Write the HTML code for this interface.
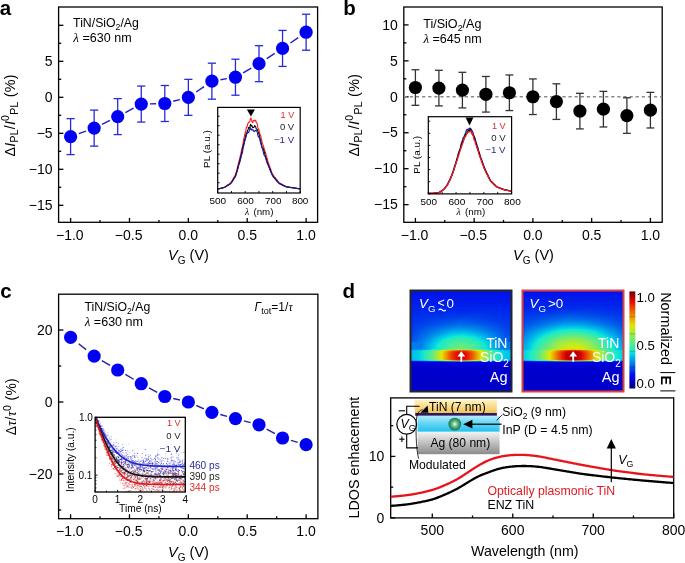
<!DOCTYPE html><html><head><meta charset="utf-8"><style>html,body{margin:0;padding:0;background:#fff;overflow:hidden}svg{display:block;will-change:transform}</style></head><body><svg width="685" height="563" viewBox="0 0 685 563" font-family="Liberation Sans, sans-serif">
<rect width="685" height="563" fill="#fff"/>
<text x="-0.3" y="14.7" font-size="20.5" text-anchor="start" fill="#000" font-weight="bold">a</text>
<text x="343.2" y="14.9" font-size="20.5" text-anchor="start" fill="#000" font-weight="bold">b</text>
<text x="0.2" y="297.6" font-size="20.5" text-anchor="start" fill="#000" font-weight="bold">c</text>
<text x="342.6" y="297.6" font-size="20.5" text-anchor="start" fill="#000" font-weight="bold">d</text>
<rect x="58.6" y="7" width="259" height="215.3" fill="none" stroke="#000" stroke-width="1.3" />
<line x1="70.6" y1="222.3" x2="70.6" y2="217.9" stroke="#000" stroke-width="1.3" />
<line x1="129.47" y1="222.3" x2="129.47" y2="217.9" stroke="#000" stroke-width="1.3" />
<line x1="188.35" y1="222.3" x2="188.35" y2="217.9" stroke="#000" stroke-width="1.3" />
<line x1="247.22" y1="222.3" x2="247.22" y2="217.9" stroke="#000" stroke-width="1.3" />
<line x1="306.1" y1="222.3" x2="306.1" y2="217.9" stroke="#000" stroke-width="1.3" />
<line x1="100.04" y1="222.3" x2="100.04" y2="219.9" stroke="#000" stroke-width="1.3" />
<line x1="158.91" y1="222.3" x2="158.91" y2="219.9" stroke="#000" stroke-width="1.3" />
<line x1="217.79" y1="222.3" x2="217.79" y2="219.9" stroke="#000" stroke-width="1.3" />
<line x1="276.66" y1="222.3" x2="276.66" y2="219.9" stroke="#000" stroke-width="1.3" />
<line x1="58.6" y1="25.3" x2="63.4" y2="25.3" stroke="#000" stroke-width="1.3" />
<line x1="58.6" y1="61.3" x2="63.4" y2="61.3" stroke="#000" stroke-width="1.3" />
<line x1="58.6" y1="97.3" x2="63.4" y2="97.3" stroke="#000" stroke-width="1.3" />
<line x1="58.6" y1="133.3" x2="63.4" y2="133.3" stroke="#000" stroke-width="1.3" />
<line x1="58.6" y1="169.3" x2="63.4" y2="169.3" stroke="#000" stroke-width="1.3" />
<line x1="58.6" y1="205.3" x2="63.4" y2="205.3" stroke="#000" stroke-width="1.3" />
<line x1="58.6" y1="43.3" x2="61.2" y2="43.3" stroke="#000" stroke-width="1.3" />
<line x1="58.6" y1="79.3" x2="61.2" y2="79.3" stroke="#000" stroke-width="1.3" />
<line x1="58.6" y1="115.3" x2="61.2" y2="115.3" stroke="#000" stroke-width="1.3" />
<line x1="58.6" y1="151.3" x2="61.2" y2="151.3" stroke="#000" stroke-width="1.3" />
<line x1="58.6" y1="187.3" x2="61.2" y2="187.3" stroke="#000" stroke-width="1.3" />
<text x="52.6" y="66" font-size="14" text-anchor="end" fill="#000" >5</text>
<text x="52.6" y="102" font-size="14" text-anchor="end" fill="#000" >0</text>
<text x="52.6" y="138" font-size="14" text-anchor="end" fill="#000" >−5</text>
<text x="52.6" y="174" font-size="14" text-anchor="end" fill="#000" >−10</text>
<text x="52.6" y="210" font-size="14" text-anchor="end" fill="#000" >−15</text>
<text x="69.8" y="240" font-size="14" text-anchor="middle" fill="#000" >−1.0</text>
<text x="128.67" y="240" font-size="14" text-anchor="middle" fill="#000" >−0.5</text>
<text x="188.35" y="240" font-size="14" text-anchor="middle" fill="#000" >0.0</text>
<text x="247.22" y="240" font-size="14" text-anchor="middle" fill="#000" >0.5</text>
<text x="306.1" y="240" font-size="14" text-anchor="middle" fill="#000" >1.0</text>
<line x1="78.78" y1="133.66" x2="85.97" y2="131.07" stroke="#1c1cc8" stroke-width="1.4" />
<line x1="101.97" y1="124.29" x2="109.88" y2="120.42" stroke="#1c1cc8" stroke-width="1.4" />
<line x1="125.38" y1="112.51" x2="133.57" y2="108.15" stroke="#1c1cc8" stroke-width="1.4" />
<line x1="149.95" y1="103.86" x2="156.1" y2="103.7" stroke="#1c1cc8" stroke-width="1.4" />
<line x1="173.22" y1="101.3" x2="179.93" y2="99.56" stroke="#1c1cc8" stroke-width="1.4" />
<line x1="196.21" y1="91.96" x2="204.04" y2="86.58" stroke="#1c1cc8" stroke-width="1.4" />
<line x1="220.48" y1="79.73" x2="226.87" y2="78.65" stroke="#1c1cc8" stroke-width="1.4" />
<line x1="243.11" y1="72.81" x2="251.34" y2="68.08" stroke="#1c1cc8" stroke-width="1.4" />
<line x1="266.79" y1="58.63" x2="274.76" y2="53.46" stroke="#1c1cc8" stroke-width="1.4" />
<line x1="290.41" y1="43" x2="298.24" y2="37.62" stroke="#1c1cc8" stroke-width="1.4" />
<line x1="70.6" y1="118.61" x2="70.6" y2="154.61" stroke="#2a2ad8" stroke-width="1.3" />
<line x1="66.5" y1="118.61" x2="74.7" y2="118.61" stroke="#2a2ad8" stroke-width="1.3" />
<line x1="66.5" y1="154.61" x2="74.7" y2="154.61" stroke="#2a2ad8" stroke-width="1.3" />
<line x1="94.15" y1="110.12" x2="94.15" y2="146.12" stroke="#2a2ad8" stroke-width="1.3" />
<line x1="90.05" y1="110.12" x2="98.25" y2="110.12" stroke="#2a2ad8" stroke-width="1.3" />
<line x1="90.05" y1="146.12" x2="98.25" y2="146.12" stroke="#2a2ad8" stroke-width="1.3" />
<line x1="117.7" y1="98.6" x2="117.7" y2="134.6" stroke="#2a2ad8" stroke-width="1.3" />
<line x1="113.6" y1="98.6" x2="121.8" y2="98.6" stroke="#2a2ad8" stroke-width="1.3" />
<line x1="113.6" y1="134.6" x2="121.8" y2="134.6" stroke="#2a2ad8" stroke-width="1.3" />
<line x1="141.25" y1="86.07" x2="141.25" y2="122.07" stroke="#2a2ad8" stroke-width="1.3" />
<line x1="137.15" y1="86.07" x2="145.35" y2="86.07" stroke="#2a2ad8" stroke-width="1.3" />
<line x1="137.15" y1="122.07" x2="145.35" y2="122.07" stroke="#2a2ad8" stroke-width="1.3" />
<line x1="164.8" y1="85.49" x2="164.8" y2="121.49" stroke="#2a2ad8" stroke-width="1.3" />
<line x1="160.7" y1="85.49" x2="168.9" y2="85.49" stroke="#2a2ad8" stroke-width="1.3" />
<line x1="160.7" y1="121.49" x2="168.9" y2="121.49" stroke="#2a2ad8" stroke-width="1.3" />
<line x1="188.35" y1="79.37" x2="188.35" y2="115.37" stroke="#2a2ad8" stroke-width="1.3" />
<line x1="184.25" y1="79.37" x2="192.45" y2="79.37" stroke="#2a2ad8" stroke-width="1.3" />
<line x1="184.25" y1="115.37" x2="192.45" y2="115.37" stroke="#2a2ad8" stroke-width="1.3" />
<line x1="211.9" y1="63.17" x2="211.9" y2="99.17" stroke="#2a2ad8" stroke-width="1.3" />
<line x1="207.8" y1="63.17" x2="216" y2="63.17" stroke="#2a2ad8" stroke-width="1.3" />
<line x1="207.8" y1="99.17" x2="216" y2="99.17" stroke="#2a2ad8" stroke-width="1.3" />
<line x1="235.45" y1="59.21" x2="235.45" y2="95.21" stroke="#2a2ad8" stroke-width="1.3" />
<line x1="231.35" y1="59.21" x2="239.55" y2="59.21" stroke="#2a2ad8" stroke-width="1.3" />
<line x1="231.35" y1="95.21" x2="239.55" y2="95.21" stroke="#2a2ad8" stroke-width="1.3" />
<line x1="259" y1="45.68" x2="259" y2="81.68" stroke="#2a2ad8" stroke-width="1.3" />
<line x1="254.9" y1="45.68" x2="263.1" y2="45.68" stroke="#2a2ad8" stroke-width="1.3" />
<line x1="254.9" y1="81.68" x2="263.1" y2="81.68" stroke="#2a2ad8" stroke-width="1.3" />
<line x1="282.55" y1="30.41" x2="282.55" y2="66.41" stroke="#2a2ad8" stroke-width="1.3" />
<line x1="278.45" y1="30.41" x2="286.65" y2="30.41" stroke="#2a2ad8" stroke-width="1.3" />
<line x1="278.45" y1="66.41" x2="286.65" y2="66.41" stroke="#2a2ad8" stroke-width="1.3" />
<line x1="306.1" y1="14.21" x2="306.1" y2="50.21" stroke="#2a2ad8" stroke-width="1.3" />
<line x1="302" y1="14.21" x2="310.2" y2="14.21" stroke="#2a2ad8" stroke-width="1.3" />
<line x1="302" y1="50.21" x2="310.2" y2="50.21" stroke="#2a2ad8" stroke-width="1.3" />
<circle cx="70.6" cy="136.61" r="6.6" fill="#0000f2"/>
<circle cx="94.15" cy="128.12" r="6.6" fill="#0000f2"/>
<circle cx="117.7" cy="116.6" r="6.6" fill="#0000f2"/>
<circle cx="141.25" cy="104.07" r="6.6" fill="#0000f2"/>
<circle cx="164.8" cy="103.49" r="6.6" fill="#0000f2"/>
<circle cx="188.35" cy="97.37" r="6.6" fill="#0000f2"/>
<circle cx="211.9" cy="81.17" r="6.6" fill="#0000f2"/>
<circle cx="235.45" cy="77.21" r="6.6" fill="#0000f2"/>
<circle cx="259" cy="63.68" r="6.6" fill="#0000f2"/>
<circle cx="282.55" cy="48.41" r="6.6" fill="#0000f2"/>
<circle cx="306.1" cy="32.21" r="6.6" fill="#0000f2"/>
<text x="73.1" y="26.7" font-size="12" textLength="65.8" lengthAdjust="spacingAndGlyphs">TiN/SiO<tspan font-size="8.5" dy="3.2">2</tspan><tspan dy="-3.2">/Ag</tspan></text>
<text x="73.3" y="42.2" font-size="12" textLength="58.3" lengthAdjust="spacingAndGlyphs"><tspan font-family="Liberation Serif, serif" font-style="italic" font-size="12.5">λ</tspan> =630 nm</text>
<rect x="217.7" y="107.4" width="82.5" height="85.6" fill="#fff"/>
<path d="M217.7,188.98 L217.97,188.94 L218.25,188.88 L218.52,188.82 L218.8,188.75 L219.07,188.68 L219.35,188.61 L219.62,188.53 L219.9,188.46 L220.17,188.38 L220.45,188.31 L220.72,188.23 L221,188.16 L221.27,188.08 L221.55,188 L221.82,187.93 L222.1,187.85 L222.38,187.78 L222.65,187.71 L222.92,187.64 L223.2,187.56 L223.47,187.48 L223.75,187.4 L224.02,187.31 L224.3,187.2 L224.57,187.08 L224.85,186.93 L225.12,186.77 L225.4,186.59 L225.67,186.4 L225.95,186.21 L226.22,186.02 L226.5,185.83 L226.77,185.62 L227.05,185.41 L227.32,185.21 L227.6,185.02 L227.88,184.84 L228.15,184.65 L228.42,184.47 L228.7,184.29 L228.97,184.1 L229.25,183.9 L229.52,183.7 L229.8,183.48 L230.07,183.25 L230.35,183.01 L230.62,182.73 L230.9,182.4 L231.17,182.04 L231.45,181.65 L231.72,181.21 L232,180.74 L232.27,180.26 L232.55,179.77 L232.82,179.29 L233.1,178.81 L233.38,178.34 L233.65,177.85 L233.92,177.38 L234.2,176.92 L234.47,176.43 L234.75,175.93 L235.02,175.43 L235.3,174.89 L235.57,174.21 L235.85,173.38 L236.12,172.52 L236.4,171.58 L236.67,170.51 L236.95,169.42 L237.22,168.34 L237.5,167.25 L237.77,166.19 L238.05,165.04 L238.32,163.74 L238.6,162.49 L238.88,161.44 L239.15,160.61 L239.42,159.75 L239.7,158.52 L239.97,157.02 L240.25,155.81 L240.52,154.97 L240.8,154.01 L241.07,152.69 L241.35,151.25 L241.62,149.97 L241.9,148.69 L242.17,147.32 L242.45,146 L242.72,144.79 L243,143.46 L243.27,141.86 L243.55,140.11 L243.82,138.54 L244.1,137.41 L244.38,136.32 L244.65,134.84 L244.92,133.51 L245.2,132.83 L245.47,132.25 L245.75,131.12 L246.02,129.33 L246.3,127.57 L246.57,126.89 L246.85,127.16 L247.12,126.87 L247.4,125.48 L247.67,124.24 L247.95,123.54 L248.22,122.87 L248.5,122.33 L248.77,122.15 L249.05,122.22 L249.32,122.15 L249.6,121.7 L249.88,120.99 L250.15,120.04 L250.42,118.86 L250.7,117.96 L250.97,118.18 L251.25,119.21 L251.52,120.11 L251.8,120.94 L252.07,121.82 L252.35,122.47 L252.62,122.65 L252.9,122.29 L253.17,121.53 L253.45,120.79 L253.72,120.4 L254,120.22 L254.27,120.21 L254.55,120.51 L254.82,120.94 L255.1,120.97 L255.38,120.5 L255.65,120.28 L255.92,120.99 L256.2,122.13 L256.47,122.89 L256.75,123 L257.02,123.11 L257.3,124.15 L257.57,125.89 L257.85,127.44 L258.12,128.55 L258.4,129.02 L258.68,129.21 L258.95,129.94 L259.22,131.18 L259.5,132.4 L259.77,133.43 L260.05,134.24 L260.32,134.86 L260.6,135.56 L260.88,136.6 L261.15,137.84 L261.43,139.09 L261.7,140.37 L261.97,141.67 L262.25,142.8 L262.52,143.67 L262.8,144.43 L263.07,145.15 L263.35,145.9 L263.62,146.76 L263.9,147.76 L264.18,148.81 L264.45,149.78 L264.72,150.6 L265,151.41 L265.27,152.3 L265.55,153.13 L265.82,153.97 L266.1,154.93 L266.38,155.92 L266.65,156.85 L266.93,157.67 L267.2,158.55 L267.47,159.62 L267.75,160.69 L268.02,161.53 L268.3,162.25 L268.57,163.06 L268.85,163.96 L269.12,164.85 L269.4,165.63 L269.68,166.4 L269.95,167.14 L270.22,167.88 L270.5,168.71 L270.77,169.56 L271.05,170.33 L271.32,171.05 L271.6,171.76 L271.88,172.42 L272.15,173.03 L272.43,173.59 L272.7,174.1 L272.97,174.55 L273.25,174.97 L273.52,175.34 L273.8,175.73 L274.07,176.18 L274.35,176.61 L274.62,176.96 L274.9,177.27 L275.18,177.6 L275.45,177.95 L275.72,178.29 L276,178.62 L276.27,178.96 L276.55,179.33 L276.82,179.7 L277.1,180.06 L277.38,180.41 L277.65,180.79 L277.93,181.19 L278.2,181.6 L278.47,181.96 L278.75,182.26 L279.02,182.51 L279.3,182.71 L279.57,182.91 L279.85,183.1 L280.12,183.28 L280.4,183.44 L280.68,183.59 L280.95,183.73 L281.22,183.86 L281.5,184 L281.77,184.15 L282.05,184.31 L282.32,184.48 L282.6,184.64 L282.88,184.79 L283.15,184.93 L283.42,185.08 L283.7,185.23 L283.98,185.38 L284.25,185.52 L284.52,185.66 L284.8,185.81 L285.07,185.96 L285.35,186.09 L285.62,186.22 L285.9,186.34 L286.17,186.44 L286.45,186.53 L286.73,186.6 L287,186.66 L287.27,186.71 L287.55,186.76 L287.82,186.8 L288.1,186.85 L288.38,186.9 L288.65,186.94 L288.92,186.98 L289.2,187.03 L289.48,187.07 L289.75,187.11 L290.02,187.16 L290.3,187.21 L290.57,187.26 L290.85,187.3 L291.12,187.35 L291.4,187.39 L291.67,187.44 L291.95,187.49 L292.23,187.53 L292.5,187.57 L292.77,187.62 L293.05,187.66 L293.32,187.71 L293.6,187.75 L293.88,187.8 L294.15,187.84 L294.42,187.89 L294.7,187.93 L294.98,187.98 L295.25,188.02 L295.52,188.07 L295.8,188.11 L296.07,188.16 L296.35,188.2 L296.62,188.24 L296.9,188.29 L297.17,188.34 L297.45,188.38 L297.73,188.43 L298,188.48 L298.27,188.52 L298.55,188.56 L298.82,188.61 L299.1,188.65 L299.38,188.69 L299.65,188.73 L299.92,188.76 L300.2,188.79" stroke="#ff1a1a" stroke-width="1.1" fill="none" stroke-linejoin="round"/>
<path d="M217.7,189.03 L217.97,188.99 L218.25,188.94 L218.52,188.89 L218.8,188.82 L219.07,188.76 L219.35,188.69 L219.62,188.63 L219.9,188.56 L220.17,188.49 L220.45,188.42 L220.72,188.35 L221,188.28 L221.27,188.21 L221.55,188.15 L221.82,188.08 L222.1,188.01 L222.38,187.94 L222.65,187.87 L222.92,187.81 L223.2,187.74 L223.47,187.66 L223.75,187.58 L224.02,187.5 L224.3,187.4 L224.57,187.29 L224.85,187.16 L225.12,187.01 L225.4,186.86 L225.67,186.69 L225.95,186.52 L226.22,186.34 L226.5,186.16 L226.77,185.98 L227.05,185.8 L227.32,185.62 L227.6,185.43 L227.88,185.24 L228.15,185.07 L228.42,184.9 L228.7,184.73 L228.97,184.56 L229.25,184.39 L229.52,184.21 L229.8,184.04 L230.07,183.86 L230.35,183.65 L230.62,183.4 L230.9,183.12 L231.17,182.78 L231.45,182.39 L231.72,181.96 L232,181.5 L232.27,181.02 L232.55,180.55 L232.82,180.12 L233.1,179.71 L233.38,179.26 L233.65,178.75 L233.92,178.27 L234.2,177.86 L234.47,177.47 L234.75,177.07 L235.02,176.65 L235.3,176.14 L235.57,175.51 L235.85,174.74 L236.12,173.87 L236.4,172.99 L236.67,172.16 L236.95,171.31 L237.22,170.39 L237.5,169.41 L237.77,168.35 L238.05,167.17 L238.32,165.94 L238.6,164.9 L238.88,164 L239.15,163 L239.42,161.92 L239.7,160.9 L239.97,159.86 L240.25,158.81 L240.52,157.81 L240.8,156.71 L241.07,155.58 L241.35,154.55 L241.62,153.37 L241.9,151.96 L242.17,150.43 L242.45,149.02 L242.72,147.94 L243,146.93 L243.27,145.72 L243.55,144.48 L243.82,143.39 L244.1,142.4 L244.38,141.3 L244.65,139.97 L244.92,138.81 L245.2,138.06 L245.47,137.15 L245.75,135.65 L246.02,134.08 L246.3,133.15 L246.57,132.99 L246.85,132.84 L247.12,132.1 L247.4,130.92 L247.67,130.11 L247.95,129.84 L248.22,129.2 L248.5,128.01 L248.77,127.31 L249.05,127.55 L249.32,128.1 L249.6,128.01 L249.88,126.89 L250.15,125.61 L250.42,124.75 L250.7,124.45 L250.97,125.13 L251.25,126.05 L251.52,126.08 L251.8,125.68 L252.07,125.94 L252.35,126.87 L252.62,127.56 L252.9,127.6 L253.17,127.5 L253.45,127.54 L253.72,127.46 L254,127.09 L254.27,126.42 L254.55,125.66 L254.82,125.57 L255.1,126.09 L255.38,126.5 L255.65,126.89 L255.92,127.71 L256.2,128.51 L256.47,128.89 L256.75,129.17 L257.02,129.49 L257.3,129.61 L257.57,129.9 L257.85,130.85 L258.12,131.88 L258.4,132.53 L258.68,133.22 L258.95,134 L259.22,134.85 L259.5,136.05 L259.77,137.54 L260.05,138.82 L260.32,139.62 L260.6,140.35 L260.88,141.53 L261.15,143.02 L261.43,144.37 L261.7,145.45 L261.97,146.4 L262.25,147.18 L262.52,147.69 L262.8,148.09 L263.07,148.54 L263.35,148.97 L263.62,149.6 L263.9,150.81 L264.18,152.03 L264.45,152.68 L264.72,153.33 L265,154.52 L265.27,155.81 L265.55,156.74 L265.82,157.47 L266.1,158.26 L266.38,159.2 L266.65,160.19 L266.93,161.04 L267.2,161.82 L267.47,162.66 L267.75,163.44 L268.02,164.14 L268.3,164.85 L268.57,165.59 L268.85,166.34 L269.12,167.08 L269.4,167.69 L269.68,168.21 L269.95,168.83 L270.22,169.62 L270.5,170.45 L270.77,171.16 L271.05,171.85 L271.32,172.56 L271.6,173.24 L271.88,173.85 L272.15,174.39 L272.43,174.92 L272.7,175.42 L272.97,175.87 L273.25,176.26 L273.52,176.64 L273.8,177.04 L274.07,177.4 L274.35,177.69 L274.62,177.98 L274.9,178.31 L275.18,178.68 L275.45,179.04 L275.72,179.38 L276,179.67 L276.27,179.95 L276.55,180.26 L276.82,180.6 L277.1,180.97 L277.38,181.34 L277.65,181.67 L277.93,181.98 L278.2,182.3 L278.47,182.59 L278.75,182.88 L279.02,183.14 L279.3,183.35 L279.57,183.52 L279.85,183.67 L280.12,183.82 L280.4,183.95 L280.68,184.07 L280.95,184.21 L281.22,184.35 L281.5,184.48 L281.77,184.61 L282.05,184.76 L282.32,184.91 L282.6,185.06 L282.88,185.2 L283.15,185.32 L283.42,185.44 L283.7,185.57 L283.98,185.72 L284.25,185.87 L284.52,186.01 L284.8,186.15 L285.07,186.29 L285.35,186.41 L285.62,186.52 L285.9,186.61 L286.17,186.7 L286.45,186.79 L286.73,186.86 L287,186.92 L287.27,186.97 L287.55,187.01 L287.82,187.05 L288.1,187.09 L288.38,187.14 L288.65,187.18 L288.92,187.21 L289.2,187.25 L289.48,187.29 L289.75,187.33 L290.02,187.37 L290.3,187.42 L290.57,187.46 L290.85,187.5 L291.12,187.54 L291.4,187.58 L291.67,187.63 L291.95,187.67 L292.23,187.71 L292.5,187.75 L292.77,187.79 L293.05,187.83 L293.32,187.87 L293.6,187.91 L293.88,187.96 L294.15,188 L294.42,188.04 L294.7,188.08 L294.98,188.12 L295.25,188.16 L295.52,188.2 L295.8,188.24 L296.07,188.28 L296.35,188.33 L296.62,188.37 L296.9,188.41 L297.17,188.45 L297.45,188.49 L297.73,188.53 L298,188.57 L298.27,188.61 L298.55,188.65 L298.82,188.69 L299.1,188.73 L299.38,188.77 L299.65,188.81 L299.92,188.84 L300.2,188.86" stroke="#000" stroke-width="1.1" fill="none" stroke-linejoin="round"/>
<path d="M217.7,189.06 L217.97,189.02 L218.25,188.97 L218.52,188.92 L218.8,188.86 L219.07,188.8 L219.35,188.73 L219.62,188.67 L219.9,188.6 L220.17,188.54 L220.45,188.48 L220.72,188.41 L221,188.35 L221.27,188.29 L221.55,188.22 L221.82,188.15 L222.1,188.09 L222.38,188.02 L222.65,187.95 L222.92,187.89 L223.2,187.83 L223.47,187.76 L223.75,187.68 L224.02,187.6 L224.3,187.51 L224.57,187.4 L224.85,187.27 L225.12,187.13 L225.4,186.97 L225.67,186.8 L225.95,186.63 L226.22,186.46 L226.5,186.3 L226.77,186.14 L227.05,185.98 L227.32,185.8 L227.6,185.63 L227.88,185.46 L228.15,185.3 L228.42,185.14 L228.7,184.97 L228.97,184.79 L229.25,184.62 L229.52,184.46 L229.8,184.29 L230.07,184.1 L230.35,183.89 L230.62,183.65 L230.9,183.35 L231.17,183.01 L231.45,182.65 L231.72,182.27 L232,181.86 L232.27,181.45 L232.55,181.07 L232.82,180.65 L233.1,180.16 L233.38,179.65 L233.65,179.18 L233.92,178.77 L234.2,178.38 L234.47,178.04 L234.75,177.66 L235.02,177.17 L235.3,176.64 L235.57,176.08 L235.85,175.43 L236.12,174.65 L236.4,173.8 L236.67,172.9 L236.95,171.89 L237.22,170.82 L237.5,169.9 L237.77,169.12 L238.05,168.22 L238.32,167.11 L238.6,165.97 L238.88,164.92 L239.15,163.98 L239.42,163.21 L239.7,162.48 L239.97,161.58 L240.25,160.53 L240.52,159.45 L240.8,158.43 L241.07,157.29 L241.35,155.98 L241.62,154.83 L241.9,153.97 L242.17,153.23 L242.45,152.25 L242.72,150.74 L243,148.95 L243.27,147.41 L243.55,146.23 L243.82,145.37 L244.1,144.49 L244.38,143.15 L244.65,141.76 L244.92,140.72 L245.2,139.9 L245.47,138.94 L245.75,137.85 L246.02,136.88 L246.3,135.83 L246.57,134.51 L246.85,133.49 L247.12,133.22 L247.4,133.16 L247.67,132.54 L247.95,131.93 L248.22,132.17 L248.5,132.58 L248.77,132.22 L249.05,131.48 L249.32,130.63 L249.6,129.63 L249.88,128.71 L250.15,128.07 L250.42,127.75 L250.7,128.32 L250.97,129.61 L251.25,130.08 L251.52,129.55 L251.8,129.1 L252.07,129.3 L252.35,129.84 L252.62,130.06 L252.9,129.89 L253.17,129.97 L253.45,130.72 L253.72,131.35 L254,131.24 L254.27,131.02 L254.55,131.12 L254.82,131.34 L255.1,131.19 L255.38,130.6 L255.65,130.19 L255.92,130.22 L256.2,130.36 L256.47,130.64 L256.75,131.17 L257.02,131.62 L257.3,132.27 L257.57,133.77 L257.85,135.43 L258.12,136.28 L258.4,136.83 L258.68,137.18 L258.95,136.74 L259.22,136.32 L259.5,137.01 L259.77,138.73 L260.05,140.61 L260.32,141.84 L260.6,142.64 L260.88,143.59 L261.15,144.63 L261.43,145.77 L261.7,146.89 L261.97,147.77 L262.25,148.45 L262.52,149.06 L262.8,149.84 L263.07,150.99 L263.35,152.3 L263.62,153.53 L263.9,154.5 L264.18,155.15 L264.45,155.7 L264.72,156.2 L265,156.46 L265.27,156.75 L265.55,157.55 L265.82,158.79 L266.1,159.89 L266.38,160.68 L266.65,161.42 L266.93,162.31 L267.2,163.15 L267.47,163.73 L267.75,164.3 L268.02,165.07 L268.3,165.79 L268.57,166.25 L268.85,166.68 L269.12,167.39 L269.4,168.34 L269.68,169.27 L269.95,169.97 L270.22,170.54 L270.5,171.17 L270.77,171.87 L271.05,172.57 L271.32,173.22 L271.6,173.87 L271.88,174.51 L272.15,175.07 L272.43,175.52 L272.7,175.97 L272.97,176.42 L273.25,176.85 L273.52,177.22 L273.8,177.57 L274.07,177.91 L274.35,178.22 L274.62,178.52 L274.9,178.81 L275.18,179.14 L275.45,179.48 L275.72,179.84 L276,180.2 L276.27,180.51 L276.55,180.77 L276.82,181.01 L277.1,181.31 L277.38,181.65 L277.65,181.98 L277.93,182.32 L278.2,182.65 L278.47,182.93 L278.75,183.17 L279.02,183.41 L279.3,183.62 L279.57,183.8 L279.85,183.94 L280.12,184.07 L280.4,184.2 L280.68,184.33 L280.95,184.47 L281.22,184.61 L281.5,184.74 L281.77,184.87 L282.05,185 L282.32,185.14 L282.6,185.26 L282.88,185.39 L283.15,185.51 L283.42,185.64 L283.7,185.77 L283.98,185.9 L284.25,186.02 L284.52,186.14 L284.8,186.26 L285.07,186.38 L285.35,186.52 L285.62,186.64 L285.9,186.75 L286.17,186.84 L286.45,186.91 L286.73,186.96 L287,187.02 L287.27,187.08 L287.55,187.13 L287.82,187.17 L288.1,187.2 L288.38,187.24 L288.65,187.28 L288.92,187.32 L289.2,187.36 L289.48,187.39 L289.75,187.43 L290.02,187.47 L290.3,187.51 L290.57,187.55 L290.85,187.59 L291.12,187.63 L291.4,187.67 L291.67,187.71 L291.95,187.75 L292.23,187.79 L292.5,187.83 L292.77,187.87 L293.05,187.91 L293.32,187.95 L293.6,187.98 L293.88,188.02 L294.15,188.06 L294.42,188.11 L294.7,188.15 L294.98,188.19 L295.25,188.23 L295.52,188.27 L295.8,188.31 L296.07,188.35 L296.35,188.38 L296.62,188.42 L296.9,188.46 L297.17,188.5 L297.45,188.54 L297.73,188.58 L298,188.62 L298.27,188.66 L298.55,188.69 L298.82,188.73 L299.1,188.77 L299.38,188.81 L299.65,188.84 L299.92,188.87 L300.2,188.89" stroke="#1a1aa0" stroke-width="1.1" fill="none" stroke-linejoin="round"/>
<rect x="217.7" y="107.4" width="82.5" height="85.6" fill="none" stroke="#000" stroke-width="1.2" />
<line x1="217.7" y1="193" x2="217.7" y2="191" stroke="#000" stroke-width="0.9" />
<line x1="231.45" y1="193" x2="231.45" y2="191" stroke="#000" stroke-width="0.9" />
<line x1="245.2" y1="193" x2="245.2" y2="191" stroke="#000" stroke-width="0.9" />
<line x1="258.95" y1="193" x2="258.95" y2="191" stroke="#000" stroke-width="0.9" />
<line x1="272.7" y1="193" x2="272.7" y2="191" stroke="#000" stroke-width="0.9" />
<line x1="286.45" y1="193" x2="286.45" y2="191" stroke="#000" stroke-width="0.9" />
<line x1="300.2" y1="193" x2="300.2" y2="191" stroke="#000" stroke-width="0.9" />
<line x1="217.7" y1="116.2" x2="219.7" y2="116.2" stroke="#000" stroke-width="0.9" />
<line x1="217.7" y1="125.7" x2="219.7" y2="125.7" stroke="#000" stroke-width="0.9" />
<line x1="217.7" y1="135.2" x2="219.7" y2="135.2" stroke="#000" stroke-width="0.9" />
<line x1="217.7" y1="144.7" x2="219.7" y2="144.7" stroke="#000" stroke-width="0.9" />
<line x1="217.7" y1="154.2" x2="219.7" y2="154.2" stroke="#000" stroke-width="0.9" />
<line x1="217.7" y1="163.7" x2="219.7" y2="163.7" stroke="#000" stroke-width="0.9" />
<line x1="217.7" y1="173.2" x2="219.7" y2="173.2" stroke="#000" stroke-width="0.9" />
<line x1="217.7" y1="182.7" x2="219.7" y2="182.7" stroke="#000" stroke-width="0.9" />
<text x="209.4" y="203.9" font-size="9.2" fill="#000" textLength="16.79" lengthAdjust="spacingAndGlyphs" >500</text>
<text x="237.2" y="203.9" font-size="9.2" fill="#000" textLength="16.69" lengthAdjust="spacingAndGlyphs" >600</text>
<text x="265" y="203.9" font-size="9.2" fill="#000" textLength="16.39" lengthAdjust="spacingAndGlyphs" >700</text>
<text x="291.9" y="203.9" font-size="9.2" fill="#000" textLength="16.49" lengthAdjust="spacingAndGlyphs" >800</text>
<text x="245" y="215.4" font-size="9.6" font-family="Liberation Serif, serif" font-style="italic">λ</text>
<text x="253.4" y="215.4" font-size="9.2" fill="#000" textLength="20" lengthAdjust="spacingAndGlyphs" >(nm)</text>
<text transform="translate(210.4,167.9) rotate(-90)" font-size="9.3" fill="#000" textLength="37.78" lengthAdjust="spacingAndGlyphs" >PL (a.u.)</text>
<path d="M246.9,109.4 L254.9,109.4 L250.9,116.5 Z" fill="#000"/>
<text x="280.6" y="117.6" font-size="9.2" fill="#dd2a33" textLength="13.61" lengthAdjust="spacingAndGlyphs" >1 V</text>
<text x="279.9" y="129.9" font-size="9.2" fill="#1e1e1e" textLength="14.31" lengthAdjust="spacingAndGlyphs" >0 V</text>
<text x="273.9" y="142.8" font-size="9.2" fill="#28288c" textLength="20.3" lengthAdjust="spacingAndGlyphs" >−1 V</text>
<text x="188.5" y="259.7" font-size="14.5" text-anchor="middle"><tspan font-style="italic">V</tspan><tspan font-size="10" dy="4.5">G</tspan><tspan dy="-4.5"> (V)</tspan></text>
<text transform="translate(14.6,156.6) rotate(-90)" font-size="14.3" textLength="82" lengthAdjust="spacing">Δ<tspan font-style="italic">I</tspan><tspan font-size="10.5" dy="3.4">PL</tspan><tspan dy="-3.4">/</tspan><tspan font-style="italic">I</tspan><tspan font-size="10.5" dy="-5.4">0</tspan><tspan font-size="10.5" dy="8.8">PL</tspan><tspan dy="-3.4"> (%)</tspan></text>
<rect x="403.8" y="7" width="258.4" height="215.3" fill="none" stroke="#000" stroke-width="1.3" />
<line x1="415.4" y1="222.3" x2="415.4" y2="217.9" stroke="#000" stroke-width="1.3" />
<line x1="474.15" y1="222.3" x2="474.15" y2="217.9" stroke="#000" stroke-width="1.3" />
<line x1="532.9" y1="222.3" x2="532.9" y2="217.9" stroke="#000" stroke-width="1.3" />
<line x1="591.65" y1="222.3" x2="591.65" y2="217.9" stroke="#000" stroke-width="1.3" />
<line x1="650.4" y1="222.3" x2="650.4" y2="217.9" stroke="#000" stroke-width="1.3" />
<line x1="444.77" y1="222.3" x2="444.77" y2="219.9" stroke="#000" stroke-width="1.3" />
<line x1="503.52" y1="222.3" x2="503.52" y2="219.9" stroke="#000" stroke-width="1.3" />
<line x1="562.27" y1="222.3" x2="562.27" y2="219.9" stroke="#000" stroke-width="1.3" />
<line x1="621.02" y1="222.3" x2="621.02" y2="219.9" stroke="#000" stroke-width="1.3" />
<line x1="403.8" y1="24.9" x2="408.6" y2="24.9" stroke="#000" stroke-width="1.3" />
<line x1="403.8" y1="60.85" x2="408.6" y2="60.85" stroke="#000" stroke-width="1.3" />
<line x1="403.8" y1="96.8" x2="408.6" y2="96.8" stroke="#000" stroke-width="1.3" />
<line x1="403.8" y1="132.75" x2="408.6" y2="132.75" stroke="#000" stroke-width="1.3" />
<line x1="403.8" y1="168.7" x2="408.6" y2="168.7" stroke="#000" stroke-width="1.3" />
<line x1="403.8" y1="204.65" x2="408.6" y2="204.65" stroke="#000" stroke-width="1.3" />
<line x1="403.8" y1="42.87" x2="406.4" y2="42.87" stroke="#000" stroke-width="1.3" />
<line x1="403.8" y1="78.82" x2="406.4" y2="78.82" stroke="#000" stroke-width="1.3" />
<line x1="403.8" y1="114.78" x2="406.4" y2="114.78" stroke="#000" stroke-width="1.3" />
<line x1="403.8" y1="150.72" x2="406.4" y2="150.72" stroke="#000" stroke-width="1.3" />
<line x1="403.8" y1="186.68" x2="406.4" y2="186.68" stroke="#000" stroke-width="1.3" />
<text x="397.8" y="29.6" font-size="14" text-anchor="end" fill="#000" >10</text>
<text x="397.8" y="65.55" font-size="14" text-anchor="end" fill="#000" >5</text>
<text x="397.8" y="101.5" font-size="14" text-anchor="end" fill="#000" >0</text>
<text x="397.8" y="137.45" font-size="14" text-anchor="end" fill="#000" >−5</text>
<text x="397.8" y="173.4" font-size="14" text-anchor="end" fill="#000" >−10</text>
<text x="397.8" y="209.35" font-size="14" text-anchor="end" fill="#000" >−15</text>
<text x="414.6" y="240" font-size="14" text-anchor="middle" fill="#000" >−1.0</text>
<text x="473.35" y="240" font-size="14" text-anchor="middle" fill="#000" >−0.5</text>
<text x="532.9" y="240" font-size="14" text-anchor="middle" fill="#000" >0.0</text>
<text x="591.65" y="240" font-size="14" text-anchor="middle" fill="#000" >0.5</text>
<text x="650.4" y="240" font-size="14" text-anchor="middle" fill="#000" >1.0</text>
<line x1="403.8" y1="96.8" x2="662.2" y2="96.8" stroke="#8a8a8a" stroke-width="1.5" stroke-dasharray="3.2,2.9"/>
<line x1="415.4" y1="69.72" x2="415.4" y2="105.32" stroke="#333" stroke-width="1.3" />
<line x1="411.5" y1="69.72" x2="419.3" y2="69.72" stroke="#333" stroke-width="1.3" />
<line x1="411.5" y1="105.32" x2="419.3" y2="105.32" stroke="#333" stroke-width="1.3" />
<line x1="438.9" y1="70.3" x2="438.9" y2="105.9" stroke="#333" stroke-width="1.3" />
<line x1="435" y1="70.3" x2="442.8" y2="70.3" stroke="#333" stroke-width="1.3" />
<line x1="435" y1="105.9" x2="442.8" y2="105.9" stroke="#333" stroke-width="1.3" />
<line x1="462.4" y1="72.31" x2="462.4" y2="107.91" stroke="#333" stroke-width="1.3" />
<line x1="458.5" y1="72.31" x2="466.3" y2="72.31" stroke="#333" stroke-width="1.3" />
<line x1="458.5" y1="107.91" x2="466.3" y2="107.91" stroke="#333" stroke-width="1.3" />
<line x1="485.9" y1="76.48" x2="485.9" y2="112.08" stroke="#333" stroke-width="1.3" />
<line x1="482" y1="76.48" x2="489.8" y2="76.48" stroke="#333" stroke-width="1.3" />
<line x1="482" y1="112.08" x2="489.8" y2="112.08" stroke="#333" stroke-width="1.3" />
<line x1="509.4" y1="74.97" x2="509.4" y2="110.57" stroke="#333" stroke-width="1.3" />
<line x1="505.5" y1="74.97" x2="513.3" y2="74.97" stroke="#333" stroke-width="1.3" />
<line x1="505.5" y1="110.57" x2="513.3" y2="110.57" stroke="#333" stroke-width="1.3" />
<line x1="532.9" y1="78.93" x2="532.9" y2="114.53" stroke="#333" stroke-width="1.3" />
<line x1="529" y1="78.93" x2="536.8" y2="78.93" stroke="#333" stroke-width="1.3" />
<line x1="529" y1="114.53" x2="536.8" y2="114.53" stroke="#333" stroke-width="1.3" />
<line x1="556.4" y1="83.82" x2="556.4" y2="119.42" stroke="#333" stroke-width="1.3" />
<line x1="552.5" y1="83.82" x2="560.3" y2="83.82" stroke="#333" stroke-width="1.3" />
<line x1="552.5" y1="119.42" x2="560.3" y2="119.42" stroke="#333" stroke-width="1.3" />
<line x1="579.9" y1="93.31" x2="579.9" y2="128.91" stroke="#333" stroke-width="1.3" />
<line x1="576" y1="93.31" x2="583.8" y2="93.31" stroke="#333" stroke-width="1.3" />
<line x1="576" y1="128.91" x2="583.8" y2="128.91" stroke="#333" stroke-width="1.3" />
<line x1="603.4" y1="91.37" x2="603.4" y2="126.97" stroke="#333" stroke-width="1.3" />
<line x1="599.5" y1="91.37" x2="607.3" y2="91.37" stroke="#333" stroke-width="1.3" />
<line x1="599.5" y1="126.97" x2="607.3" y2="126.97" stroke="#333" stroke-width="1.3" />
<line x1="626.9" y1="97.77" x2="626.9" y2="133.37" stroke="#333" stroke-width="1.3" />
<line x1="623" y1="97.77" x2="630.8" y2="97.77" stroke="#333" stroke-width="1.3" />
<line x1="623" y1="133.37" x2="630.8" y2="133.37" stroke="#333" stroke-width="1.3" />
<line x1="650.4" y1="92.37" x2="650.4" y2="127.97" stroke="#333" stroke-width="1.3" />
<line x1="646.5" y1="92.37" x2="654.3" y2="92.37" stroke="#333" stroke-width="1.3" />
<line x1="646.5" y1="127.97" x2="654.3" y2="127.97" stroke="#333" stroke-width="1.3" />
<circle cx="415.4" cy="87.52" r="6.6" fill="#000"/>
<circle cx="438.9" cy="88.1" r="6.6" fill="#000"/>
<circle cx="462.4" cy="90.11" r="6.6" fill="#000"/>
<circle cx="485.9" cy="94.28" r="6.6" fill="#000"/>
<circle cx="509.4" cy="92.77" r="6.6" fill="#000"/>
<circle cx="532.9" cy="96.73" r="6.6" fill="#000"/>
<circle cx="556.4" cy="101.62" r="6.6" fill="#000"/>
<circle cx="579.9" cy="111.11" r="6.6" fill="#000"/>
<circle cx="603.4" cy="109.17" r="6.6" fill="#000"/>
<circle cx="626.9" cy="115.57" r="6.6" fill="#000"/>
<circle cx="650.4" cy="110.17" r="6.6" fill="#000"/>
<text x="423.2" y="27.8" font-size="12" textLength="58.3" lengthAdjust="spacingAndGlyphs">Ti/SiO<tspan font-size="8.5" dy="3.2">2</tspan><tspan dy="-3.2">/Ag</tspan></text>
<text x="423.4" y="42.7" font-size="12" textLength="58.3" lengthAdjust="spacingAndGlyphs"><tspan font-family="Liberation Serif, serif" font-style="italic" font-size="12.5">λ</tspan> =645 nm</text>
<rect x="428.3" y="116.7" width="83.3" height="77.2" fill="#fff"/>
<path d="M428.3,193.39 L428.58,193.39 L428.86,193.39 L429.13,193.38 L429.41,193.38 L429.69,193.37 L429.97,193.37 L430.24,193.36 L430.52,193.36 L430.8,193.35 L431.08,193.35 L431.35,193.34 L431.63,193.34 L431.91,193.33 L432.19,193.33 L432.47,193.32 L432.74,193.31 L433.02,193.31 L433.3,193.3 L433.58,193.28 L433.85,193.26 L434.13,193.24 L434.41,193.21 L434.69,193.17 L434.96,193.14 L435.24,193.1 L435.52,193.06 L435.8,193.02 L436.07,192.99 L436.35,192.95 L436.63,192.91 L436.91,192.87 L437.19,192.83 L437.46,192.79 L437.74,192.75 L438.02,192.71 L438.3,192.66 L438.57,192.59 L438.85,192.51 L439.13,192.41 L439.41,192.28 L439.68,192.13 L439.96,191.97 L440.24,191.79 L440.52,191.6 L440.8,191.41 L441.07,191.22 L441.35,191.03 L441.63,190.84 L441.91,190.64 L442.18,190.45 L442.46,190.26 L442.74,190.06 L443.02,189.86 L443.29,189.64 L443.57,189.4 L443.85,189.14 L444.13,188.85 L444.4,188.53 L444.68,188.19 L444.96,187.84 L445.24,187.48 L445.52,187.12 L445.79,186.76 L446.07,186.4 L446.35,186.03 L446.63,185.65 L446.9,185.26 L447.18,184.83 L447.46,184.37 L447.74,183.89 L448.01,183.38 L448.29,182.85 L448.57,182.31 L448.85,181.74 L449.12,181.17 L449.4,180.6 L449.68,180.01 L449.96,179.4 L450.24,178.75 L450.51,178.09 L450.79,177.43 L451.07,176.75 L451.35,176.04 L451.62,175.34 L451.9,174.59 L452.18,173.81 L452.46,173.06 L452.73,172.32 L453.01,171.52 L453.29,170.65 L453.57,169.81 L453.85,168.99 L454.12,168.08 L454.4,166.99 L454.68,165.91 L454.96,165.05 L455.23,164.36 L455.51,163.66 L455.79,162.8 L456.07,161.78 L456.34,160.75 L456.62,159.81 L456.9,158.87 L457.18,157.93 L457.46,157.05 L457.73,156.11 L458.01,155.01 L458.29,153.98 L458.57,153.1 L458.84,152.2 L459.12,151.24 L459.4,150.45 L459.68,149.87 L459.95,149.29 L460.23,148.49 L460.51,147.48 L460.79,146.17 L461.06,144.67 L461.34,143.45 L461.62,142.58 L461.9,141.83 L462.18,141.13 L462.45,140.38 L462.73,139.45 L463.01,138.42 L463.29,137.58 L463.56,137.21 L463.84,136.99 L464.12,136.45 L464.4,135.79 L464.67,135.12 L464.95,134.43 L465.23,133.89 L465.51,133.36 L465.79,132.52 L466.06,131.35 L466.34,130.32 L466.62,129.86 L466.9,129.88 L467.17,129.9 L467.45,129.61 L467.73,129.3 L468.01,129.28 L468.28,129.33 L468.56,129.19 L468.84,128.8 L469.12,128.29 L469.39,128.25 L469.67,128.6 L469.95,128.63 L470.23,128.36 L470.51,128.38 L470.78,128.86 L471.06,129.49 L471.34,129.86 L471.62,130.05 L471.89,130.44 L472.17,130.97 L472.45,131.57 L472.73,132.22 L473,133 L473.28,133.98 L473.56,134.99 L473.84,135.88 L474.12,136.49 L474.39,136.79 L474.67,137.24 L474.95,138.22 L475.23,139.45 L475.5,140.62 L475.78,141.69 L476.06,142.55 L476.34,143.24 L476.61,143.94 L476.89,144.86 L477.17,145.85 L477.45,146.61 L477.72,147.29 L478,148.25 L478.28,149.52 L478.56,150.72 L478.84,151.52 L479.11,152.18 L479.39,153.11 L479.67,154.19 L479.95,155.16 L480.22,155.96 L480.5,156.7 L480.78,157.41 L481.06,158.04 L481.33,158.71 L481.61,159.59 L481.89,160.6 L482.17,161.57 L482.44,162.36 L482.72,163.05 L483,163.76 L483.28,164.46 L483.56,165.13 L483.83,165.88 L484.11,166.73 L484.39,167.5 L484.67,168.13 L484.94,168.75 L485.22,169.43 L485.5,170.09 L485.78,170.69 L486.05,171.29 L486.33,171.9 L486.61,172.52 L486.89,173.1 L487.17,173.68 L487.44,174.24 L487.72,174.8 L488,175.35 L488.28,175.92 L488.55,176.49 L488.83,177.06 L489.11,177.66 L489.39,178.26 L489.66,178.85 L489.94,179.4 L490.22,179.9 L490.5,180.34 L490.78,180.74 L491.05,181.09 L491.33,181.39 L491.61,181.66 L491.89,181.93 L492.16,182.21 L492.44,182.5 L492.72,182.79 L493,183.08 L493.27,183.36 L493.55,183.63 L493.83,183.91 L494.11,184.18 L494.38,184.45 L494.66,184.73 L494.94,185.01 L495.22,185.29 L495.5,185.57 L495.77,185.84 L496.05,186.09 L496.33,186.31 L496.61,186.51 L496.88,186.69 L497.16,186.85 L497.44,186.99 L497.72,187.11 L497.99,187.22 L498.27,187.33 L498.55,187.45 L498.83,187.56 L499.11,187.67 L499.38,187.77 L499.66,187.87 L499.94,187.99 L500.22,188.1 L500.49,188.21 L500.77,188.31 L501.05,188.42 L501.33,188.53 L501.6,188.64 L501.88,188.75 L502.16,188.86 L502.44,188.97 L502.71,189.07 L502.99,189.18 L503.27,189.28 L503.55,189.38 L503.83,189.48 L504.1,189.56 L504.38,189.64 L504.66,189.71 L504.94,189.77 L505.21,189.83 L505.49,189.89 L505.77,189.94 L506.05,190 L506.32,190.06 L506.6,190.11 L506.88,190.16 L507.16,190.22 L507.44,190.27 L507.71,190.33 L507.99,190.38 L508.27,190.44 L508.55,190.49 L508.82,190.55 L509.1,190.6 L509.38,190.66 L509.66,190.71 L509.93,190.76 L510.21,190.82 L510.49,190.87 L510.77,190.92 L511.04,190.97 L511.32,191.01 L511.6,191.04" stroke="#1a1aa0" stroke-width="1.3" fill="none" stroke-linejoin="round"/>
<path d="M428.3,193.4 L428.58,193.39 L428.86,193.39 L429.13,193.38 L429.41,193.38 L429.69,193.37 L429.97,193.37 L430.24,193.36 L430.52,193.36 L430.8,193.35 L431.08,193.35 L431.35,193.34 L431.63,193.34 L431.91,193.33 L432.19,193.33 L432.47,193.32 L432.74,193.32 L433.02,193.31 L433.3,193.3 L433.58,193.29 L433.85,193.27 L434.13,193.24 L434.41,193.21 L434.69,193.18 L434.96,193.15 L435.24,193.11 L435.52,193.07 L435.8,193.03 L436.07,193 L436.35,192.96 L436.63,192.92 L436.91,192.88 L437.19,192.85 L437.46,192.81 L437.74,192.77 L438.02,192.73 L438.3,192.68 L438.57,192.62 L438.85,192.54 L439.13,192.44 L439.41,192.32 L439.68,192.17 L439.96,192.01 L440.24,191.83 L440.52,191.65 L440.8,191.47 L441.07,191.28 L441.35,191.09 L441.63,190.91 L441.91,190.72 L442.18,190.54 L442.46,190.35 L442.74,190.16 L443.02,189.96 L443.29,189.74 L443.57,189.51 L443.85,189.26 L444.13,188.97 L444.4,188.67 L444.68,188.35 L444.96,188.01 L445.24,187.67 L445.52,187.32 L445.79,186.96 L446.07,186.6 L446.35,186.24 L446.63,185.87 L446.9,185.48 L447.18,185.07 L447.46,184.64 L447.74,184.17 L448.01,183.66 L448.29,183.12 L448.57,182.57 L448.85,182.03 L449.12,181.47 L449.4,180.9 L449.68,180.34 L449.96,179.77 L450.24,179.19 L450.51,178.59 L450.79,177.95 L451.07,177.28 L451.35,176.59 L451.62,175.89 L451.9,175.17 L452.18,174.44 L452.46,173.73 L452.73,172.99 L453.01,172.18 L453.29,171.36 L453.57,170.54 L453.85,169.72 L454.12,168.88 L454.4,168 L454.68,167.16 L454.96,166.33 L455.23,165.48 L455.51,164.58 L455.79,163.68 L456.07,162.84 L456.34,161.98 L456.62,160.95 L456.9,159.9 L457.18,158.95 L457.46,158.01 L457.73,156.98 L458.01,155.88 L458.29,154.81 L458.57,153.85 L458.84,153 L459.12,152.24 L459.4,151.59 L459.68,150.85 L459.95,149.88 L460.23,148.92 L460.51,148.11 L460.79,147.23 L461.06,146.24 L461.34,145.3 L461.62,144.4 L461.9,143.61 L462.18,142.99 L462.45,142.35 L462.73,141.55 L463.01,140.86 L463.29,140.44 L463.56,140 L463.84,139.2 L464.12,138.3 L464.4,137.72 L464.67,137.31 L464.95,136.8 L465.23,135.97 L465.51,134.96 L465.79,134.18 L466.06,133.83 L466.34,133.77 L466.62,133.53 L466.9,132.92 L467.17,132.51 L467.45,132.22 L467.73,131.54 L468.01,130.84 L468.28,130.43 L468.56,130.38 L468.84,130.76 L469.12,130.95 L469.39,130.65 L469.67,130.18 L469.95,129.72 L470.23,129.49 L470.51,129.61 L470.78,129.86 L471.06,130.45 L471.34,131.39 L471.62,132.15 L471.89,132.82 L472.17,133.79 L472.45,134.56 L472.73,134.8 L473,134.99 L473.28,135.4 L473.56,135.95 L473.84,136.8 L474.12,137.89 L474.39,138.76 L474.67,139.3 L474.95,139.84 L475.23,140.51 L475.5,141.23 L475.78,142.06 L476.06,143.16 L476.34,144.41 L476.61,145.57 L476.89,146.67 L477.17,147.65 L477.45,148.35 L477.72,148.95 L478,149.65 L478.28,150.59 L478.56,151.58 L478.84,152.34 L479.11,153.03 L479.39,153.92 L479.67,154.98 L479.95,156.02 L480.22,156.98 L480.5,157.82 L480.78,158.58 L481.06,159.38 L481.33,160.17 L481.61,160.87 L481.89,161.56 L482.17,162.33 L482.44,163.12 L482.72,163.92 L483,164.75 L483.28,165.55 L483.56,166.28 L483.83,166.94 L484.11,167.61 L484.39,168.31 L484.67,168.98 L484.94,169.6 L485.22,170.18 L485.5,170.77 L485.78,171.39 L486.05,172.05 L486.33,172.67 L486.61,173.2 L486.89,173.72 L487.17,174.26 L487.44,174.83 L487.72,175.42 L488,176.01 L488.28,176.57 L488.55,177.11 L488.83,177.63 L489.11,178.14 L489.39,178.67 L489.66,179.21 L489.94,179.74 L490.22,180.25 L490.5,180.69 L490.78,181.07 L491.05,181.41 L491.33,181.73 L491.61,182.04 L491.89,182.33 L492.16,182.59 L492.44,182.85 L492.72,183.11 L493,183.37 L493.27,183.64 L493.55,183.91 L493.83,184.18 L494.11,184.45 L494.38,184.72 L494.66,184.98 L494.94,185.25 L495.22,185.51 L495.5,185.77 L495.77,186.03 L496.05,186.28 L496.33,186.51 L496.61,186.71 L496.88,186.88 L497.16,187.03 L497.44,187.17 L497.72,187.28 L497.99,187.39 L498.27,187.51 L498.55,187.62 L498.83,187.72 L499.11,187.82 L499.38,187.93 L499.66,188.04 L499.94,188.14 L500.22,188.25 L500.49,188.35 L500.77,188.45 L501.05,188.56 L501.33,188.67 L501.6,188.78 L501.88,188.89 L502.16,188.99 L502.44,189.09 L502.71,189.2 L502.99,189.3 L503.27,189.4 L503.55,189.5 L503.83,189.59 L504.1,189.67 L504.38,189.75 L504.66,189.82 L504.94,189.88 L505.21,189.94 L505.49,189.99 L505.77,190.05 L506.05,190.1 L506.32,190.15 L506.6,190.2 L506.88,190.26 L507.16,190.31 L507.44,190.36 L507.71,190.41 L507.99,190.47 L508.27,190.52 L508.55,190.57 L508.82,190.62 L509.1,190.68 L509.38,190.73 L509.66,190.78 L509.93,190.84 L510.21,190.89 L510.49,190.94 L510.77,190.99 L511.04,191.04 L511.32,191.07 L511.6,191.1" stroke="#000" stroke-width="1.3" fill="none" stroke-linejoin="round"/>
<path d="M428.3,193.4 L428.58,193.39 L428.86,193.39 L429.13,193.38 L429.41,193.38 L429.69,193.37 L429.97,193.37 L430.24,193.36 L430.52,193.36 L430.8,193.35 L431.08,193.35 L431.35,193.34 L431.63,193.34 L431.91,193.33 L432.19,193.33 L432.47,193.32 L432.74,193.32 L433.02,193.31 L433.3,193.3 L433.58,193.29 L433.85,193.27 L434.13,193.25 L434.41,193.22 L434.69,193.19 L434.96,193.15 L435.24,193.12 L435.52,193.08 L435.8,193.04 L436.07,193.01 L436.35,192.97 L436.63,192.93 L436.91,192.89 L437.19,192.86 L437.46,192.82 L437.74,192.78 L438.02,192.74 L438.3,192.69 L438.57,192.63 L438.85,192.56 L439.13,192.46 L439.41,192.34 L439.68,192.19 L439.96,192.03 L440.24,191.86 L440.52,191.68 L440.8,191.5 L441.07,191.32 L441.35,191.14 L441.63,190.96 L441.91,190.78 L442.18,190.59 L442.46,190.41 L442.74,190.22 L443.02,190.03 L443.29,189.82 L443.57,189.6 L443.85,189.35 L444.13,189.06 L444.4,188.76 L444.68,188.43 L444.96,188.09 L445.24,187.75 L445.52,187.41 L445.79,187.06 L446.07,186.71 L446.35,186.36 L446.63,186 L446.9,185.63 L447.18,185.23 L447.46,184.8 L447.74,184.33 L448.01,183.83 L448.29,183.32 L448.57,182.8 L448.85,182.27 L449.12,181.74 L449.4,181.21 L449.68,180.67 L449.96,180.09 L450.24,179.49 L450.51,178.87 L450.79,178.2 L451.07,177.51 L451.35,176.82 L451.62,176.12 L451.9,175.4 L452.18,174.67 L452.46,173.96 L452.73,173.26 L453.01,172.53 L453.29,171.72 L453.57,170.92 L453.85,170.14 L454.12,169.31 L454.4,168.42 L454.68,167.52 L454.96,166.64 L455.23,165.76 L455.51,164.83 L455.79,163.83 L456.07,162.82 L456.34,161.94 L456.62,161.3 L456.9,160.71 L457.18,159.99 L457.46,159.14 L457.73,158.17 L458.01,157.11 L458.29,156.17 L458.57,155.46 L458.84,154.81 L459.12,153.9 L459.4,152.79 L459.68,151.87 L459.95,151.11 L460.23,150.26 L460.51,149.34 L460.79,148.52 L461.06,147.93 L461.34,147.37 L461.62,146.52 L461.9,145.47 L462.18,144.47 L462.45,143.66 L462.73,143.1 L463.01,142.65 L463.29,141.88 L463.56,140.65 L463.84,139.39 L464.12,138.6 L464.4,138.07 L464.67,137.41 L464.95,136.95 L465.23,136.96 L465.51,136.71 L465.79,135.85 L466.06,135.25 L466.34,134.85 L466.62,134.12 L466.9,133.46 L467.17,133.19 L467.45,132.98 L467.73,132.61 L468.01,132.09 L468.28,131.68 L468.56,131.74 L468.84,131.88 L469.12,131.84 L469.39,131.89 L469.67,132.07 L469.95,132.09 L470.23,131.73 L470.51,131.23 L470.78,130.92 L471.06,131.04 L471.34,131.38 L471.62,131.68 L471.89,132.14 L472.17,132.92 L472.45,134.01 L472.73,135.09 L473,135.7 L473.28,136.15 L473.56,137.2 L473.84,138.67 L474.12,139.79 L474.39,140.19 L474.67,140.39 L474.95,141.14 L475.23,142.34 L475.5,143.42 L475.78,144.2 L476.06,144.88 L476.34,145.56 L476.61,146.35 L476.89,147.34 L477.17,148.33 L477.45,149.12 L477.72,149.71 L478,150.37 L478.28,151.54 L478.56,152.91 L478.84,153.99 L479.11,154.72 L479.39,155.25 L479.67,155.88 L479.95,156.74 L480.22,157.55 L480.5,158.16 L480.78,158.78 L481.06,159.56 L481.33,160.47 L481.61,161.39 L481.89,162.25 L482.17,163.1 L482.44,163.92 L482.72,164.6 L483,165.17 L483.28,165.79 L483.56,166.56 L483.83,167.45 L484.11,168.26 L484.39,168.88 L484.67,169.45 L484.94,170.04 L485.22,170.62 L485.5,171.16 L485.78,171.75 L486.05,172.42 L486.33,173.09 L486.61,173.68 L486.89,174.2 L487.17,174.71 L487.44,175.24 L487.72,175.78 L488,176.31 L488.28,176.84 L488.55,177.38 L488.83,177.93 L489.11,178.47 L489.39,179.03 L489.66,179.57 L489.94,180.07 L490.22,180.52 L490.5,180.92 L490.78,181.29 L491.05,181.62 L491.33,181.93 L491.61,182.21 L491.89,182.48 L492.16,182.76 L492.44,183.03 L492.72,183.3 L493,183.57 L493.27,183.85 L493.55,184.13 L493.83,184.4 L494.11,184.65 L494.38,184.91 L494.66,185.18 L494.94,185.45 L495.22,185.71 L495.5,185.96 L495.77,186.2 L496.05,186.43 L496.33,186.65 L496.61,186.85 L496.88,187.01 L497.16,187.16 L497.44,187.28 L497.72,187.39 L497.99,187.5 L498.27,187.61 L498.55,187.72 L498.83,187.82 L499.11,187.93 L499.38,188.03 L499.66,188.14 L499.94,188.25 L500.22,188.35 L500.49,188.45 L500.77,188.56 L501.05,188.66 L501.33,188.77 L501.6,188.87 L501.88,188.97 L502.16,189.07 L502.44,189.17 L502.71,189.28 L502.99,189.39 L503.27,189.49 L503.55,189.58 L503.83,189.67 L504.1,189.75 L504.38,189.82 L504.66,189.89 L504.94,189.95 L505.21,190.01 L505.49,190.06 L505.77,190.11 L506.05,190.16 L506.32,190.21 L506.6,190.27 L506.88,190.32 L507.16,190.37 L507.44,190.42 L507.71,190.48 L507.99,190.53 L508.27,190.58 L508.55,190.63 L508.82,190.68 L509.1,190.73 L509.38,190.79 L509.66,190.84 L509.93,190.89 L510.21,190.94 L510.49,190.99 L510.77,191.04 L511.04,191.08 L511.32,191.12 L511.6,191.15" stroke="#ff1a1a" stroke-width="1.3" fill="none" stroke-linejoin="round"/>
<rect x="428.3" y="116.7" width="83.3" height="77.2" fill="none" stroke="#000" stroke-width="1.2" />
<line x1="428.3" y1="193.9" x2="428.3" y2="191.9" stroke="#000" stroke-width="0.9" />
<line x1="442.18" y1="193.9" x2="442.18" y2="191.9" stroke="#000" stroke-width="0.9" />
<line x1="456.07" y1="193.9" x2="456.07" y2="191.9" stroke="#000" stroke-width="0.9" />
<line x1="469.95" y1="193.9" x2="469.95" y2="191.9" stroke="#000" stroke-width="0.9" />
<line x1="483.83" y1="193.9" x2="483.83" y2="191.9" stroke="#000" stroke-width="0.9" />
<line x1="497.72" y1="193.9" x2="497.72" y2="191.9" stroke="#000" stroke-width="0.9" />
<line x1="511.6" y1="193.9" x2="511.6" y2="191.9" stroke="#000" stroke-width="0.9" />
<line x1="428.3" y1="121.2" x2="430.3" y2="121.2" stroke="#000" stroke-width="0.9" />
<line x1="428.3" y1="133.3" x2="430.3" y2="133.3" stroke="#000" stroke-width="0.9" />
<line x1="428.3" y1="145.4" x2="430.3" y2="145.4" stroke="#000" stroke-width="0.9" />
<line x1="428.3" y1="157.5" x2="430.3" y2="157.5" stroke="#000" stroke-width="0.9" />
<line x1="428.3" y1="169.6" x2="430.3" y2="169.6" stroke="#000" stroke-width="0.9" />
<line x1="428.3" y1="181.7" x2="430.3" y2="181.7" stroke="#000" stroke-width="0.9" />
<line x1="428.3" y1="193.8" x2="430.3" y2="193.8" stroke="#000" stroke-width="0.9" />
<text x="420.4" y="205.2" font-size="9.2" fill="#000" textLength="16.59" lengthAdjust="spacingAndGlyphs" >500</text>
<text x="448.5" y="205.2" font-size="9.2" fill="#000" textLength="16.88" lengthAdjust="spacingAndGlyphs" >600</text>
<text x="476.6" y="205.2" font-size="9.2" fill="#000" textLength="16.88" lengthAdjust="spacingAndGlyphs" >700</text>
<text x="504" y="205.2" font-size="9.2" fill="#000" textLength="16.79" lengthAdjust="spacingAndGlyphs" >800</text>
<text x="456.6" y="214.5" font-size="9.6" font-family="Liberation Serif, serif" font-style="italic">λ</text>
<text x="465" y="214.5" font-size="9.2" fill="#000" textLength="20.2" lengthAdjust="spacingAndGlyphs" >(nm)</text>
<text transform="translate(419.9,173.7) rotate(-90)" font-size="9.3" fill="#000" textLength="37.68" lengthAdjust="spacingAndGlyphs" >PL (a.u.)</text>
<path d="M465.55,117.6 L473.45,117.6 L469.5,125.6 Z" fill="#000"/>
<text x="491.9" y="128.7" font-size="9.2" fill="#dd2a33" textLength="13.71" lengthAdjust="spacingAndGlyphs" >1 V</text>
<text x="491.2" y="141.2" font-size="9.2" fill="#1e1e1e" textLength="14.41" lengthAdjust="spacingAndGlyphs" >0 V</text>
<text x="485.2" y="153.3" font-size="9.2" fill="#28288c" textLength="20.4" lengthAdjust="spacingAndGlyphs" >−1 V</text>
<text x="533.5" y="259.7" font-size="14.5" text-anchor="middle"><tspan font-style="italic">V</tspan><tspan font-size="10" dy="4.5">G</tspan><tspan dy="-4.5"> (V)</tspan></text>
<text transform="translate(358.8,156.6) rotate(-90)" font-size="14.3" textLength="82.5" lengthAdjust="spacing">Δ<tspan font-style="italic">I</tspan><tspan font-size="10.5" dy="3.4">PL</tspan><tspan dy="-3.4">/</tspan><tspan font-style="italic">I</tspan><tspan font-size="10.5" dy="-5.4">0</tspan><tspan font-size="10.5" dy="8.8">PL</tspan><tspan dy="-3.4"> (%)</tspan></text>
<rect x="58.6" y="294.2" width="259.3" height="224.5" fill="none" stroke="#000" stroke-width="1.3" />
<line x1="70.6" y1="518.7" x2="70.6" y2="514.3" stroke="#000" stroke-width="1.3" />
<line x1="129.47" y1="518.7" x2="129.47" y2="514.3" stroke="#000" stroke-width="1.3" />
<line x1="188.35" y1="518.7" x2="188.35" y2="514.3" stroke="#000" stroke-width="1.3" />
<line x1="247.22" y1="518.7" x2="247.22" y2="514.3" stroke="#000" stroke-width="1.3" />
<line x1="306.1" y1="518.7" x2="306.1" y2="514.3" stroke="#000" stroke-width="1.3" />
<line x1="100.04" y1="518.7" x2="100.04" y2="516.3" stroke="#000" stroke-width="1.3" />
<line x1="158.91" y1="518.7" x2="158.91" y2="516.3" stroke="#000" stroke-width="1.3" />
<line x1="217.79" y1="518.7" x2="217.79" y2="516.3" stroke="#000" stroke-width="1.3" />
<line x1="276.66" y1="518.7" x2="276.66" y2="516.3" stroke="#000" stroke-width="1.3" />
<line x1="58.6" y1="330" x2="63.4" y2="330" stroke="#000" stroke-width="1.3" />
<line x1="58.6" y1="402" x2="63.4" y2="402" stroke="#000" stroke-width="1.3" />
<line x1="58.6" y1="474" x2="63.4" y2="474" stroke="#000" stroke-width="1.3" />
<line x1="58.6" y1="366" x2="61.2" y2="366" stroke="#000" stroke-width="1.3" />
<line x1="58.6" y1="438" x2="61.2" y2="438" stroke="#000" stroke-width="1.3" />
<line x1="58.6" y1="510" x2="61.2" y2="510" stroke="#000" stroke-width="1.3" />
<text x="52.6" y="334.7" font-size="14" text-anchor="end" fill="#000" >20</text>
<text x="52.6" y="406.7" font-size="14" text-anchor="end" fill="#000" >0</text>
<text x="52.6" y="478.7" font-size="14" text-anchor="end" fill="#000" >−20</text>
<text x="69.8" y="536.4" font-size="14" text-anchor="middle" fill="#000" >−1.0</text>
<text x="128.67" y="536.4" font-size="14" text-anchor="middle" fill="#000" >−0.5</text>
<text x="188.35" y="536.4" font-size="14" text-anchor="middle" fill="#000" >0.0</text>
<text x="247.22" y="536.4" font-size="14" text-anchor="middle" fill="#000" >0.5</text>
<text x="306.1" y="536.4" font-size="14" text-anchor="middle" fill="#000" >1.0</text>
<line x1="78.66" y1="343.74" x2="86.09" y2="349.67" stroke="#22229a" stroke-width="1.4" />
<line x1="101.83" y1="360.63" x2="110.02" y2="365.46" stroke="#22229a" stroke-width="1.4" />
<line x1="125.37" y1="374.46" x2="133.58" y2="379.24" stroke="#22229a" stroke-width="1.4" />
<line x1="148.9" y1="387.86" x2="157.15" y2="392.34" stroke="#22229a" stroke-width="1.4" />
<line x1="173.27" y1="398.47" x2="179.88" y2="400.02" stroke="#22229a" stroke-width="1.4" />
<line x1="196.32" y1="405.49" x2="203.93" y2="408.81" stroke="#22229a" stroke-width="1.4" />
<line x1="220.3" y1="414.54" x2="227.05" y2="416.35" stroke="#22229a" stroke-width="1.4" />
<line x1="243.86" y1="420.81" x2="250.59" y2="422.58" stroke="#22229a" stroke-width="1.4" />
<line x1="266.63" y1="429.07" x2="274.92" y2="433.72" stroke="#22229a" stroke-width="1.4" />
<line x1="290.92" y1="440.38" x2="297.73" y2="442.32" stroke="#22229a" stroke-width="1.4" />
<circle cx="70.6" cy="337.31" r="6.6" fill="#0000f2"/>
<circle cx="94.15" cy="356.1" r="6.6" fill="#0000f2"/>
<circle cx="117.7" cy="370" r="6.6" fill="#0000f2"/>
<circle cx="141.25" cy="383.71" r="6.6" fill="#0000f2"/>
<circle cx="164.8" cy="396.49" r="6.6" fill="#0000f2"/>
<circle cx="188.35" cy="402" r="6.6" fill="#0000f2"/>
<circle cx="211.9" cy="412.3" r="6.6" fill="#0000f2"/>
<circle cx="235.45" cy="418.6" r="6.6" fill="#0000f2"/>
<circle cx="259" cy="424.79" r="6.6" fill="#0000f2"/>
<circle cx="282.55" cy="438" r="6.6" fill="#0000f2"/>
<circle cx="306.1" cy="444.7" r="6.6" fill="#0000f2"/>
<text x="84.5" y="311" font-size="12" textLength="65.8" lengthAdjust="spacingAndGlyphs">TiN/SiO<tspan font-size="8.5" dy="3.2">2</tspan><tspan dy="-3.2">/Ag</tspan></text>
<text x="84.7" y="326.2" font-size="12" textLength="58.3" lengthAdjust="spacingAndGlyphs"><tspan font-family="Liberation Serif, serif" font-style="italic" font-size="12.5">λ</tspan> =630 nm</text>
<text x="254.5" y="310.5" font-size="12"><tspan font-style="italic">Γ</tspan><tspan font-size="9" dy="3.5">tot</tspan><tspan dy="-3.5">=1/</tspan><tspan font-family="Liberation Serif, serif" font-style="italic">τ</tspan></text>
<rect x="95.1" y="417.3" width="90.2" height="74.7" fill="#fff"/>
<clipPath id="cpc"><rect x="95.1" y="417.3" width="90.2" height="74.7"/></clipPath>
<g clip-path="url(#cpc)">
<path d="M155.3 465.4h1v1h-1zM137.2 457.0h1v1h-1zM155.7 463.7h1v1h-1zM121.9 454.2h1v1h-1zM183.3 470.7h1v1h-1zM132.9 462.4h1v1h-1zM120.3 451.6h1v1h-1zM170.6 462.1h1v1h-1zM141.3 469.3h1v1h-1zM184.3 475.8h1v1h-1zM151.3 472.5h1v1h-1zM160.8 475.1h1v1h-1zM98.4 424.7h1v1h-1zM117.0 447.8h1v1h-1zM150.4 466.0h1v1h-1zM132.9 461.6h1v1h-1zM135.7 455.5h1v1h-1zM151.2 459.7h1v1h-1zM175.5 465.8h1v1h-1zM170.5 477.3h1v1h-1zM157.7 464.3h1v1h-1zM156.1 474.2h1v1h-1zM150.9 474.2h1v1h-1zM115.6 439.6h1v1h-1zM132.5 465.9h1v1h-1zM137.3 463.4h1v1h-1zM154.1 468.4h1v1h-1zM151.2 468.0h1v1h-1zM175.8 453.0h1v1h-1zM114.7 447.0h1v1h-1zM126.5 459.0h1v1h-1zM114.6 448.3h1v1h-1zM100.4 427.5h1v1h-1zM178.3 479.1h1v1h-1zM100.8 432.6h1v1h-1zM95.9 417.5h1v1h-1zM179.9 461.7h1v1h-1zM109.5 445.0h1v1h-1zM177.1 460.5h1v1h-1zM105.5 438.7h1v1h-1zM99.8 424.6h1v1h-1zM107.7 440.5h1v1h-1zM129.6 460.4h1v1h-1zM148.0 466.6h1v1h-1zM125.9 458.2h1v1h-1zM114.5 449.5h1v1h-1zM182.3 465.3h1v1h-1zM136.9 463.5h1v1h-1zM129.2 465.9h1v1h-1zM165.6 471.6h1v1h-1zM130.1 460.4h1v1h-1zM141.2 466.2h1v1h-1zM154.0 460.9h1v1h-1zM159.7 475.7h1v1h-1zM179.9 476.1h1v1h-1zM100.2 428.9h1v1h-1zM170.8 454.1h1v1h-1zM105.4 434.7h1v1h-1zM136.8 465.2h1v1h-1zM170.3 461.3h1v1h-1zM150.6 460.7h1v1h-1zM173.7 475.5h1v1h-1zM97.1 419.5h1v1h-1zM116.7 456.4h1v1h-1zM108.0 441.9h1v1h-1zM161.0 469.8h1v1h-1zM150.4 465.5h1v1h-1zM183.0 475.6h1v1h-1zM176.7 469.4h1v1h-1zM98.8 430.8h1v1h-1zM159.9 458.9h1v1h-1zM119.0 451.7h1v1h-1zM174.4 472.3h1v1h-1zM167.7 462.7h1v1h-1zM183.6 461.8h1v1h-1zM157.6 449.5h1v1h-1zM108.2 446.3h1v1h-1zM117.4 451.4h1v1h-1zM178.0 465.3h1v1h-1zM118.4 458.3h1v1h-1zM154.9 462.9h1v1h-1zM100.9 429.4h1v1h-1zM177.1 460.7h1v1h-1zM164.8 457.6h1v1h-1zM183.1 464.9h1v1h-1zM170.5 461.3h1v1h-1zM129.4 472.4h1v1h-1zM132.8 467.4h1v1h-1zM150.5 458.0h1v1h-1zM160.7 463.3h1v1h-1zM145.0 460.6h1v1h-1zM180.7 452.2h1v1h-1zM155.5 463.1h1v1h-1zM178.3 458.7h1v1h-1zM98.4 428.2h1v1h-1zM111.0 450.0h1v1h-1zM167.5 464.9h1v1h-1zM103.4 432.6h1v1h-1zM158.7 458.8h1v1h-1zM174.7 467.6h1v1h-1zM116.0 460.7h1v1h-1zM133.1 462.0h1v1h-1zM113.6 445.4h1v1h-1zM115.1 447.3h1v1h-1zM121.5 455.6h1v1h-1zM122.7 458.9h1v1h-1zM133.7 463.0h1v1h-1zM128.6 473.0h1v1h-1zM139.9 466.6h1v1h-1zM110.2 445.1h1v1h-1zM155.4 470.2h1v1h-1zM103.4 434.8h1v1h-1zM163.9 465.9h1v1h-1zM161.2 465.2h1v1h-1zM144.3 464.8h1v1h-1zM121.6 460.4h1v1h-1zM106.1 435.2h1v1h-1zM101.8 427.8h1v1h-1zM100.5 430.1h1v1h-1zM159.6 474.8h1v1h-1zM121.1 457.7h1v1h-1zM122.1 448.8h1v1h-1zM173.7 460.5h1v1h-1zM100.1 425.4h1v1h-1zM109.7 446.1h1v1h-1zM136.8 469.0h1v1h-1zM111.1 441.4h1v1h-1zM107.4 432.1h1v1h-1zM102.7 432.6h1v1h-1zM149.8 471.4h1v1h-1zM182.2 472.4h1v1h-1zM173.6 470.2h1v1h-1zM150.6 471.2h1v1h-1zM182.7 466.4h1v1h-1zM135.8 463.7h1v1h-1zM169.7 461.5h1v1h-1zM170.7 467.3h1v1h-1zM124.3 461.0h1v1h-1zM165.8 463.6h1v1h-1zM127.8 463.9h1v1h-1zM171.4 470.5h1v1h-1zM123.2 458.2h1v1h-1zM157.3 469.0h1v1h-1zM183.8 460.2h1v1h-1zM168.1 461.4h1v1h-1zM177.3 471.0h1v1h-1zM184.3 463.0h1v1h-1zM127.5 459.1h1v1h-1zM169.2 464.5h1v1h-1zM148.6 476.7h1v1h-1zM118.2 457.7h1v1h-1zM114.9 451.6h1v1h-1zM139.6 459.2h1v1h-1zM135.6 460.9h1v1h-1zM127.7 443.7h1v1h-1zM149.4 478.8h1v1h-1zM172.4 466.8h1v1h-1zM149.2 464.8h1v1h-1zM130.7 455.7h1v1h-1zM146.5 468.9h1v1h-1zM159.3 477.4h1v1h-1zM128.0 466.2h1v1h-1zM175.8 478.5h1v1h-1zM146.4 466.6h1v1h-1zM157.0 452.6h1v1h-1zM136.3 455.3h1v1h-1zM126.0 452.9h1v1h-1zM155.0 461.7h1v1h-1zM153.8 465.0h1v1h-1zM108.5 445.8h1v1h-1zM166.9 483.1h1v1h-1zM147.8 468.1h1v1h-1zM149.9 460.6h1v1h-1zM132.7 454.8h1v1h-1zM165.6 465.0h1v1h-1zM153.7 467.7h1v1h-1zM120.4 459.4h1v1h-1zM99.8 431.2h1v1h-1zM103.4 429.2h1v1h-1zM176.1 457.8h1v1h-1zM102.1 429.3h1v1h-1zM146.6 460.2h1v1h-1zM97.8 421.1h1v1h-1zM159.1 470.9h1v1h-1zM139.3 469.2h1v1h-1zM113.4 444.1h1v1h-1zM154.9 463.2h1v1h-1zM151.9 462.0h1v1h-1zM116.5 448.9h1v1h-1zM165.1 466.7h1v1h-1zM165.1 453.3h1v1h-1zM162.4 472.5h1v1h-1zM176.5 469.6h1v1h-1zM174.7 463.7h1v1h-1zM137.8 465.0h1v1h-1zM127.1 461.7h1v1h-1zM161.3 470.9h1v1h-1zM104.6 434.7h1v1h-1zM98.5 424.7h1v1h-1zM158.7 454.2h1v1h-1zM182.2 470.9h1v1h-1zM115.8 445.7h1v1h-1zM159.4 460.5h1v1h-1zM129.2 452.0h1v1h-1zM106.9 439.2h1v1h-1zM118.9 460.1h1v1h-1zM121.9 448.0h1v1h-1zM116.0 461.7h1v1h-1zM163.6 461.1h1v1h-1zM136.0 465.9h1v1h-1zM167.2 477.1h1v1h-1zM102.7 435.6h1v1h-1zM144.3 471.5h1v1h-1zM110.5 452.1h1v1h-1zM177.1 474.0h1v1h-1zM95.3 419.9h1v1h-1zM150.8 460.9h1v1h-1zM100.8 430.9h1v1h-1zM108.6 445.0h1v1h-1zM148.0 454.3h1v1h-1zM180.7 477.0h1v1h-1zM139.8 468.8h1v1h-1zM125.4 460.8h1v1h-1zM107.9 442.4h1v1h-1zM172.1 467.6h1v1h-1zM156.5 470.0h1v1h-1zM104.9 431.3h1v1h-1zM154.7 469.4h1v1h-1zM129.9 456.9h1v1h-1zM161.1 459.8h1v1h-1zM109.0 437.0h1v1h-1zM156.1 476.6h1v1h-1zM101.6 430.5h1v1h-1zM109.8 450.2h1v1h-1zM148.0 456.2h1v1h-1zM127.4 453.7h1v1h-1zM96.1 420.5h1v1h-1zM134.1 471.8h1v1h-1zM134.9 466.2h1v1h-1zM107.1 434.0h1v1h-1zM183.8 467.8h1v1h-1zM181.8 461.3h1v1h-1zM112.3 457.7h1v1h-1zM140.3 467.3h1v1h-1zM124.2 467.7h1v1h-1zM169.7 464.5h1v1h-1zM124.4 466.4h1v1h-1zM183.6 461.9h1v1h-1zM124.6 453.6h1v1h-1zM154.1 457.5h1v1h-1zM176.5 456.6h1v1h-1zM132.7 460.7h1v1h-1zM183.3 458.4h1v1h-1zM173.2 456.4h1v1h-1z" fill="#3535dd" fill-opacity="0.3"/>
<path d="M99.2 427.4h1v1h-1zM182.9 467.7h1v1h-1zM158.2 458.4h1v1h-1zM113.5 448.5h1v1h-1zM96.3 417.5h1v1h-1zM175.5 469.3h1v1h-1zM148.3 462.8h1v1h-1zM154.2 464.0h1v1h-1zM155.9 472.8h1v1h-1zM123.8 456.1h1v1h-1zM135.0 460.2h1v1h-1zM155.1 456.5h1v1h-1zM148.5 470.1h1v1h-1zM115.6 445.9h1v1h-1zM130.0 471.5h1v1h-1zM180.5 467.1h1v1h-1zM114.6 445.6h1v1h-1zM127.3 454.0h1v1h-1zM162.6 464.6h1v1h-1zM133.2 463.5h1v1h-1zM151.2 470.9h1v1h-1zM155.5 466.9h1v1h-1zM115.0 445.9h1v1h-1zM160.1 477.5h1v1h-1zM123.3 449.6h1v1h-1zM122.6 452.0h1v1h-1zM141.6 453.0h1v1h-1zM172.9 462.5h1v1h-1zM179.6 466.3h1v1h-1zM132.2 462.9h1v1h-1zM156.1 467.8h1v1h-1zM164.1 465.0h1v1h-1zM100.8 425.7h1v1h-1zM177.6 478.4h1v1h-1zM137.5 469.5h1v1h-1zM95.7 418.9h1v1h-1zM147.5 459.4h1v1h-1zM129.8 467.2h1v1h-1zM162.8 473.5h1v1h-1zM167.6 468.9h1v1h-1zM133.9 468.6h1v1h-1zM154.8 468.8h1v1h-1zM150.7 463.6h1v1h-1zM175.3 473.4h1v1h-1zM118.6 459.7h1v1h-1zM123.8 464.7h1v1h-1zM96.8 422.5h1v1h-1zM176.9 475.6h1v1h-1zM144.1 470.0h1v1h-1zM151.8 463.0h1v1h-1zM165.8 479.3h1v1h-1zM95.0 419.1h1v1h-1zM181.2 469.9h1v1h-1zM131.5 465.1h1v1h-1zM151.2 459.2h1v1h-1zM131.5 460.8h1v1h-1zM102.7 433.6h1v1h-1zM162.1 464.4h1v1h-1zM130.3 457.9h1v1h-1zM127.2 450.6h1v1h-1zM175.0 473.2h1v1h-1zM171.9 468.3h1v1h-1zM155.0 459.4h1v1h-1zM112.1 452.3h1v1h-1zM155.7 465.0h1v1h-1zM109.6 445.8h1v1h-1zM142.7 471.2h1v1h-1zM175.4 468.0h1v1h-1zM94.6 416.8h1v1h-1zM137.4 474.9h1v1h-1zM143.3 470.5h1v1h-1zM155.8 455.4h1v1h-1zM148.9 460.6h1v1h-1zM154.9 460.6h1v1h-1zM115.6 450.0h1v1h-1zM166.3 467.5h1v1h-1zM137.4 469.7h1v1h-1zM174.5 461.5h1v1h-1zM130.9 459.6h1v1h-1zM133.2 462.1h1v1h-1zM118.3 449.2h1v1h-1zM163.3 465.4h1v1h-1zM97.9 421.1h1v1h-1zM144.3 457.7h1v1h-1zM113.5 442.3h1v1h-1zM122.7 463.6h1v1h-1zM134.5 457.1h1v1h-1zM174.6 466.6h1v1h-1zM165.2 458.1h1v1h-1zM128.1 463.4h1v1h-1zM135.4 464.2h1v1h-1zM167.4 464.2h1v1h-1zM118.2 457.0h1v1h-1zM113.2 449.7h1v1h-1zM124.8 462.0h1v1h-1zM104.0 436.6h1v1h-1zM107.2 442.2h1v1h-1zM120.9 461.3h1v1h-1zM115.8 441.9h1v1h-1zM149.6 464.3h1v1h-1zM129.0 464.6h1v1h-1zM103.6 438.7h1v1h-1zM182.9 451.7h1v1h-1zM139.8 462.9h1v1h-1zM96.9 423.0h1v1h-1zM130.4 461.9h1v1h-1zM102.8 428.5h1v1h-1zM94.7 415.1h1v1h-1zM123.9 458.8h1v1h-1zM122.2 444.0h1v1h-1zM158.7 462.5h1v1h-1zM95.5 416.5h1v1h-1zM160.7 468.0h1v1h-1zM177.6 456.9h1v1h-1zM160.1 464.0h1v1h-1zM123.2 460.9h1v1h-1zM96.0 420.5h1v1h-1zM162.7 465.5h1v1h-1zM101.6 432.0h1v1h-1zM124.5 457.3h1v1h-1zM183.4 473.9h1v1h-1zM121.3 460.2h1v1h-1zM94.9 415.5h1v1h-1zM125.6 463.4h1v1h-1zM131.9 466.0h1v1h-1zM142.8 461.4h1v1h-1zM94.6 414.9h1v1h-1zM155.3 463.1h1v1h-1zM141.6 472.9h1v1h-1zM176.2 476.3h1v1h-1zM96.3 418.1h1v1h-1zM100.1 428.8h1v1h-1zM142.5 468.2h1v1h-1zM154.7 463.8h1v1h-1zM105.6 440.6h1v1h-1zM129.2 464.6h1v1h-1zM132.1 462.5h1v1h-1zM159.9 465.3h1v1h-1zM160.6 466.5h1v1h-1zM106.5 438.6h1v1h-1zM100.1 428.2h1v1h-1zM145.3 454.5h1v1h-1zM103.4 429.7h1v1h-1zM120.6 448.6h1v1h-1zM152.9 458.9h1v1h-1zM100.0 426.3h1v1h-1zM114.2 455.6h1v1h-1zM104.7 436.5h1v1h-1zM140.0 465.4h1v1h-1zM125.8 463.8h1v1h-1zM100.9 431.5h1v1h-1zM111.8 448.8h1v1h-1zM150.0 470.2h1v1h-1zM160.1 465.0h1v1h-1zM174.9 470.2h1v1h-1zM148.5 456.1h1v1h-1zM114.0 451.6h1v1h-1zM104.8 436.2h1v1h-1zM104.3 432.6h1v1h-1zM150.3 457.6h1v1h-1zM122.0 454.9h1v1h-1zM118.3 462.5h1v1h-1zM120.4 456.2h1v1h-1zM116.0 457.0h1v1h-1zM157.2 457.6h1v1h-1zM177.4 465.5h1v1h-1zM156.5 468.6h1v1h-1zM167.3 459.6h1v1h-1zM159.9 474.7h1v1h-1zM104.1 431.6h1v1h-1zM157.2 456.7h1v1h-1zM110.2 450.2h1v1h-1zM171.1 460.0h1v1h-1zM160.3 472.8h1v1h-1zM104.8 436.8h1v1h-1zM110.7 436.2h1v1h-1zM152.4 463.6h1v1h-1zM141.6 463.1h1v1h-1zM133.8 455.6h1v1h-1zM131.2 460.5h1v1h-1zM173.5 467.2h1v1h-1zM125.6 452.2h1v1h-1zM111.8 444.8h1v1h-1zM179.8 463.9h1v1h-1zM165.9 475.0h1v1h-1zM176.6 462.4h1v1h-1zM118.1 443.1h1v1h-1zM158.6 469.6h1v1h-1zM184.3 451.7h1v1h-1zM101.6 432.0h1v1h-1zM162.2 480.2h1v1h-1zM136.7 460.7h1v1h-1zM101.4 429.1h1v1h-1zM102.9 428.2h1v1h-1zM126.8 463.7h1v1h-1zM164.8 468.3h1v1h-1zM128.0 467.0h1v1h-1zM172.7 473.3h1v1h-1zM159.8 478.6h1v1h-1zM126.6 458.1h1v1h-1zM174.8 460.9h1v1h-1zM159.6 479.7h1v1h-1zM109.3 445.2h1v1h-1zM112.8 445.5h1v1h-1zM142.1 467.2h1v1h-1zM135.4 461.7h1v1h-1zM146.1 465.1h1v1h-1zM120.2 449.1h1v1h-1zM175.5 465.1h1v1h-1zM121.0 458.2h1v1h-1zM142.9 469.5h1v1h-1zM125.2 460.4h1v1h-1zM106.3 441.1h1v1h-1zM152.5 471.0h1v1h-1zM104.7 438.8h1v1h-1zM148.5 463.0h1v1h-1zM158.1 472.6h1v1h-1zM184.6 461.4h1v1h-1zM137.8 459.5h1v1h-1zM99.6 428.6h1v1h-1zM131.5 458.0h1v1h-1zM118.2 445.8h1v1h-1zM128.8 464.1h1v1h-1zM102.9 429.7h1v1h-1zM183.7 468.8h1v1h-1zM104.5 438.3h1v1h-1zM138.6 460.7h1v1h-1zM167.5 479.9h1v1h-1zM138.7 461.7h1v1h-1zM146.4 465.0h1v1h-1zM156.9 474.2h1v1h-1zM157.4 454.7h1v1h-1zM146.3 463.9h1v1h-1zM170.6 470.9h1v1h-1zM172.5 477.9h1v1h-1zM131.5 464.1h1v1h-1zM140.1 461.1h1v1h-1zM174.9 474.0h1v1h-1zM160.9 462.9h1v1h-1zM181.6 467.9h1v1h-1zM146.3 460.2h1v1h-1zM125.8 470.9h1v1h-1zM97.1 420.7h1v1h-1zM98.4 424.4h1v1h-1zM175.6 475.6h1v1h-1zM108.6 438.5h1v1h-1zM172.3 466.9h1v1h-1zM157.3 472.6h1v1h-1zM146.7 468.3h1v1h-1zM168.6 469.8h1v1h-1zM142.5 460.2h1v1h-1zM145.3 464.7h1v1h-1zM133.0 466.9h1v1h-1zM128.2 475.8h1v1h-1zM142.7 467.8h1v1h-1zM109.1 445.5h1v1h-1zM175.4 467.8h1v1h-1zM125.8 460.0h1v1h-1zM138.0 467.6h1v1h-1zM149.8 466.4h1v1h-1zM118.1 460.5h1v1h-1zM164.3 469.7h1v1h-1zM184.7 462.1h1v1h-1zM103.0 430.4h1v1h-1zM124.2 459.2h1v1h-1zM104.0 437.5h1v1h-1zM100.2 422.4h1v1h-1zM165.6 471.3h1v1h-1zM109.8 446.6h1v1h-1zM107.5 435.3h1v1h-1zM156.9 463.2h1v1h-1zM162.5 460.1h1v1h-1zM155.9 463.0h1v1h-1z" fill="#3535dd" fill-opacity="0.5"/>
<path d="M176.1 467.4h1v1h-1zM100.7 428.3h1v1h-1zM98.2 420.5h1v1h-1zM110.5 438.7h1v1h-1zM147.8 476.5h1v1h-1zM104.0 438.3h1v1h-1zM121.9 462.0h1v1h-1zM151.9 468.6h1v1h-1zM146.7 462.9h1v1h-1zM107.4 444.0h1v1h-1zM157.1 454.4h1v1h-1zM156.9 477.1h1v1h-1zM171.6 460.2h1v1h-1zM98.3 421.6h1v1h-1zM149.1 460.4h1v1h-1zM132.3 450.2h1v1h-1zM102.1 434.2h1v1h-1zM182.1 464.5h1v1h-1zM166.1 462.9h1v1h-1zM97.4 422.7h1v1h-1zM172.6 477.5h1v1h-1zM139.9 466.3h1v1h-1zM132.1 460.6h1v1h-1zM123.2 461.4h1v1h-1zM129.8 456.1h1v1h-1zM183.0 464.3h1v1h-1zM171.4 456.6h1v1h-1zM118.2 453.4h1v1h-1zM154.7 472.8h1v1h-1zM99.8 425.1h1v1h-1zM173.2 471.2h1v1h-1zM139.0 467.4h1v1h-1zM106.6 444.9h1v1h-1zM116.2 448.2h1v1h-1zM102.3 432.7h1v1h-1zM144.7 463.3h1v1h-1zM120.7 453.8h1v1h-1zM97.8 423.9h1v1h-1zM173.4 462.7h1v1h-1zM166.8 461.0h1v1h-1zM157.4 453.9h1v1h-1zM149.0 462.9h1v1h-1zM116.1 458.1h1v1h-1zM182.9 473.5h1v1h-1zM176.0 469.8h1v1h-1zM166.8 466.9h1v1h-1zM170.4 470.2h1v1h-1zM153.3 477.6h1v1h-1zM176.0 451.6h1v1h-1zM101.3 430.3h1v1h-1zM138.7 465.4h1v1h-1zM143.3 468.9h1v1h-1zM150.2 463.1h1v1h-1zM131.7 462.8h1v1h-1zM183.8 463.5h1v1h-1zM143.5 470.5h1v1h-1zM181.8 461.6h1v1h-1zM178.2 454.4h1v1h-1zM137.5 467.3h1v1h-1zM160.9 462.4h1v1h-1zM134.2 452.7h1v1h-1zM181.8 459.8h1v1h-1zM170.6 472.8h1v1h-1zM128.9 465.5h1v1h-1zM137.9 474.4h1v1h-1zM118.5 461.7h1v1h-1zM107.2 444.1h1v1h-1zM172.4 473.9h1v1h-1zM160.1 476.3h1v1h-1zM138.1 474.2h1v1h-1zM158.9 470.5h1v1h-1zM127.2 465.4h1v1h-1zM167.4 458.3h1v1h-1zM127.1 456.5h1v1h-1zM130.5 456.8h1v1h-1zM95.6 420.2h1v1h-1zM139.7 465.3h1v1h-1zM154.6 464.5h1v1h-1zM179.3 464.8h1v1h-1zM117.9 456.2h1v1h-1zM155.3 468.1h1v1h-1zM100.5 430.2h1v1h-1zM158.0 465.3h1v1h-1zM176.1 473.4h1v1h-1zM110.4 449.9h1v1h-1zM119.0 461.1h1v1h-1zM141.7 466.2h1v1h-1zM179.8 464.7h1v1h-1zM179.4 459.8h1v1h-1zM134.9 471.2h1v1h-1zM150.2 477.9h1v1h-1zM146.6 462.9h1v1h-1zM101.0 428.2h1v1h-1zM118.3 450.4h1v1h-1zM169.7 468.6h1v1h-1zM176.4 450.3h1v1h-1zM128.1 456.2h1v1h-1zM167.6 475.6h1v1h-1zM121.3 458.7h1v1h-1zM177.5 458.4h1v1h-1zM154.6 466.3h1v1h-1zM147.7 471.2h1v1h-1zM155.1 458.8h1v1h-1zM147.9 457.4h1v1h-1zM96.1 419.8h1v1h-1zM95.8 416.3h1v1h-1zM109.7 445.0h1v1h-1zM145.2 455.2h1v1h-1zM123.2 468.3h1v1h-1zM165.9 469.0h1v1h-1zM116.1 453.1h1v1h-1zM100.2 426.1h1v1h-1zM121.3 450.0h1v1h-1zM118.6 450.0h1v1h-1zM125.7 455.1h1v1h-1zM180.9 466.4h1v1h-1zM113.5 451.3h1v1h-1zM115.6 450.8h1v1h-1zM123.7 457.0h1v1h-1zM151.8 462.6h1v1h-1zM136.5 466.8h1v1h-1zM122.1 450.1h1v1h-1zM164.8 471.0h1v1h-1zM136.9 473.8h1v1h-1zM179.7 461.1h1v1h-1zM174.0 464.6h1v1h-1zM112.7 454.3h1v1h-1zM132.2 455.6h1v1h-1zM122.3 466.6h1v1h-1zM134.1 455.4h1v1h-1zM173.4 460.6h1v1h-1zM103.3 434.6h1v1h-1zM131.0 462.2h1v1h-1zM167.7 465.9h1v1h-1zM133.7 464.4h1v1h-1zM111.7 452.7h1v1h-1zM181.8 463.0h1v1h-1zM132.2 465.4h1v1h-1zM161.4 469.1h1v1h-1zM154.5 457.9h1v1h-1zM156.7 466.9h1v1h-1zM116.5 451.4h1v1h-1zM156.5 464.4h1v1h-1zM135.2 471.5h1v1h-1zM179.0 461.8h1v1h-1zM163.5 471.9h1v1h-1zM181.5 467.2h1v1h-1zM125.6 457.9h1v1h-1zM147.3 470.0h1v1h-1zM104.5 433.2h1v1h-1zM161.3 457.2h1v1h-1zM139.9 464.3h1v1h-1zM97.4 420.1h1v1h-1zM163.2 458.0h1v1h-1zM173.1 463.9h1v1h-1zM119.7 450.8h1v1h-1zM137.0 452.9h1v1h-1zM176.7 475.1h1v1h-1zM148.3 467.4h1v1h-1zM121.5 456.0h1v1h-1zM172.5 469.8h1v1h-1zM157.0 461.1h1v1h-1zM122.8 458.2h1v1h-1zM139.9 466.5h1v1h-1zM147.8 462.0h1v1h-1zM131.0 467.4h1v1h-1zM111.4 450.2h1v1h-1zM179.1 469.9h1v1h-1zM149.7 454.7h1v1h-1zM171.0 453.7h1v1h-1zM180.7 463.9h1v1h-1zM178.4 462.1h1v1h-1zM141.4 457.2h1v1h-1zM141.6 466.6h1v1h-1zM110.7 448.5h1v1h-1zM169.3 470.4h1v1h-1zM175.9 477.4h1v1h-1zM105.3 437.6h1v1h-1zM179.5 464.1h1v1h-1zM95.5 419.1h1v1h-1zM101.6 425.5h1v1h-1zM142.5 461.9h1v1h-1zM155.8 461.3h1v1h-1zM109.6 445.1h1v1h-1zM167.1 458.4h1v1h-1zM124.9 461.8h1v1h-1zM172.5 466.6h1v1h-1zM175.0 468.7h1v1h-1zM134.3 473.2h1v1h-1zM95.3 416.6h1v1h-1zM175.5 465.0h1v1h-1zM160.7 467.9h1v1h-1zM96.9 419.1h1v1h-1zM143.6 468.0h1v1h-1zM103.3 437.4h1v1h-1zM158.0 461.9h1v1h-1zM134.2 456.7h1v1h-1zM128.0 458.3h1v1h-1zM145.4 458.4h1v1h-1zM149.4 461.4h1v1h-1zM150.3 467.6h1v1h-1zM121.8 458.4h1v1h-1zM121.2 463.7h1v1h-1zM106.4 435.5h1v1h-1zM125.1 450.0h1v1h-1zM142.6 462.8h1v1h-1zM176.0 464.6h1v1h-1zM119.5 452.6h1v1h-1zM157.9 472.8h1v1h-1zM147.1 465.4h1v1h-1zM163.9 473.2h1v1h-1zM113.6 448.2h1v1h-1zM160.4 471.3h1v1h-1zM147.9 458.9h1v1h-1zM101.3 428.1h1v1h-1zM98.0 423.4h1v1h-1zM102.5 433.6h1v1h-1zM146.1 469.7h1v1h-1zM100.4 431.6h1v1h-1zM139.5 468.7h1v1h-1zM136.8 470.3h1v1h-1zM144.8 449.1h1v1h-1zM174.4 474.5h1v1h-1zM109.7 444.2h1v1h-1zM169.4 463.0h1v1h-1zM142.7 459.6h1v1h-1zM182.5 471.2h1v1h-1zM175.1 468.9h1v1h-1zM183.6 471.2h1v1h-1zM102.8 432.4h1v1h-1zM177.8 463.7h1v1h-1zM133.0 460.2h1v1h-1zM146.5 458.0h1v1h-1zM145.0 474.6h1v1h-1zM150.0 466.7h1v1h-1zM106.4 438.6h1v1h-1zM143.3 460.6h1v1h-1zM119.5 461.6h1v1h-1zM142.8 461.2h1v1h-1zM141.8 466.6h1v1h-1zM171.9 463.8h1v1h-1zM146.3 459.5h1v1h-1zM143.8 462.2h1v1h-1zM95.7 423.0h1v1h-1zM164.4 466.5h1v1h-1zM153.1 468.4h1v1h-1zM100.9 428.3h1v1h-1zM160.6 460.7h1v1h-1zM169.6 472.6h1v1h-1zM134.1 461.0h1v1h-1zM123.9 457.6h1v1h-1zM169.3 465.1h1v1h-1zM183.9 464.6h1v1h-1zM136.9 468.7h1v1h-1zM112.9 444.4h1v1h-1zM152.0 464.3h1v1h-1zM172.3 469.4h1v1h-1zM181.2 470.3h1v1h-1zM101.5 428.0h1v1h-1zM117.6 452.1h1v1h-1zM112.8 451.6h1v1h-1zM136.5 461.0h1v1h-1zM170.5 457.5h1v1h-1zM107.7 440.2h1v1h-1zM105.2 433.8h1v1h-1zM133.4 462.5h1v1h-1zM136.0 468.3h1v1h-1zM122.7 447.0h1v1h-1zM120.5 451.1h1v1h-1zM172.8 467.8h1v1h-1zM145.0 460.7h1v1h-1zM155.1 455.6h1v1h-1zM184.4 462.4h1v1h-1z" fill="#3535dd" fill-opacity="0.75"/>
<path d="M109.1 448.6h1v1h-1zM146.2 480.0h1v1h-1zM128.6 461.9h1v1h-1zM182.3 475.4h1v1h-1zM123.2 465.9h1v1h-1zM143.5 474.3h1v1h-1zM148.8 481.4h1v1h-1zM177.0 479.9h1v1h-1zM144.3 470.3h1v1h-1zM115.6 462.9h1v1h-1zM149.4 488.7h1v1h-1zM176.2 483.5h1v1h-1zM167.9 472.4h1v1h-1zM127.6 474.5h1v1h-1zM98.8 425.5h1v1h-1zM178.0 471.3h1v1h-1zM121.5 475.7h1v1h-1zM167.6 476.5h1v1h-1zM119.1 469.1h1v1h-1zM150.7 474.9h1v1h-1zM141.4 483.8h1v1h-1zM179.5 482.2h1v1h-1zM184.0 485.1h1v1h-1zM139.5 472.3h1v1h-1zM120.4 472.3h1v1h-1zM120.1 468.3h1v1h-1zM162.3 465.3h1v1h-1zM111.5 461.6h1v1h-1zM104.8 448.7h1v1h-1zM176.6 472.9h1v1h-1zM94.8 415.5h1v1h-1zM166.2 478.3h1v1h-1zM96.8 424.1h1v1h-1zM109.6 439.9h1v1h-1zM153.2 474.2h1v1h-1zM178.0 479.8h1v1h-1zM137.2 473.6h1v1h-1zM122.5 472.3h1v1h-1zM145.4 468.9h1v1h-1zM172.3 484.2h1v1h-1zM146.0 471.8h1v1h-1zM109.7 452.8h1v1h-1zM123.4 463.7h1v1h-1zM156.6 479.8h1v1h-1zM114.2 460.6h1v1h-1zM100.8 434.2h1v1h-1zM117.5 461.1h1v1h-1zM107.4 447.8h1v1h-1zM104.1 439.9h1v1h-1zM145.8 478.8h1v1h-1zM125.8 473.7h1v1h-1zM138.0 487.8h1v1h-1zM131.0 475.6h1v1h-1zM108.1 443.6h1v1h-1zM183.7 475.2h1v1h-1zM101.8 431.0h1v1h-1zM117.8 464.7h1v1h-1zM106.9 448.1h1v1h-1zM105.3 442.7h1v1h-1zM120.5 469.2h1v1h-1zM99.0 426.4h1v1h-1zM184.0 474.1h1v1h-1zM111.8 461.2h1v1h-1zM139.3 473.4h1v1h-1zM154.9 476.9h1v1h-1zM154.1 478.2h1v1h-1zM101.8 436.0h1v1h-1zM97.7 423.0h1v1h-1zM103.1 437.0h1v1h-1zM172.8 484.6h1v1h-1zM174.1 478.9h1v1h-1zM96.5 422.4h1v1h-1zM145.8 471.4h1v1h-1zM109.7 450.1h1v1h-1zM155.2 467.1h1v1h-1zM166.4 478.8h1v1h-1zM118.0 464.1h1v1h-1zM157.9 474.5h1v1h-1zM154.6 470.4h1v1h-1zM98.8 432.1h1v1h-1zM158.6 481.2h1v1h-1zM171.5 481.9h1v1h-1zM130.2 468.6h1v1h-1zM111.9 446.4h1v1h-1zM123.0 469.5h1v1h-1zM96.1 426.4h1v1h-1zM160.2 480.1h1v1h-1zM159.1 469.0h1v1h-1zM163.3 478.1h1v1h-1zM172.3 470.6h1v1h-1zM168.6 481.1h1v1h-1zM99.4 425.4h1v1h-1zM123.6 473.8h1v1h-1zM180.6 475.9h1v1h-1zM175.1 472.2h1v1h-1zM150.4 462.5h1v1h-1zM138.3 468.2h1v1h-1zM109.2 451.7h1v1h-1zM180.8 490.4h1v1h-1zM159.5 473.1h1v1h-1zM165.8 476.8h1v1h-1zM115.4 459.3h1v1h-1zM135.5 489.4h1v1h-1zM179.6 477.8h1v1h-1zM112.4 450.5h1v1h-1zM183.7 477.4h1v1h-1zM166.7 464.1h1v1h-1zM168.4 476.9h1v1h-1zM172.8 477.4h1v1h-1zM129.1 482.4h1v1h-1zM116.6 462.5h1v1h-1zM139.9 471.1h1v1h-1zM114.5 460.4h1v1h-1zM158.3 482.4h1v1h-1zM130.3 475.3h1v1h-1zM124.6 468.2h1v1h-1zM146.1 483.6h1v1h-1zM108.1 450.8h1v1h-1zM100.5 433.1h1v1h-1zM148.0 484.0h1v1h-1zM160.1 478.8h1v1h-1zM171.9 483.4h1v1h-1zM168.9 475.9h1v1h-1zM166.7 481.6h1v1h-1zM184.5 478.7h1v1h-1zM110.2 453.2h1v1h-1zM130.4 479.2h1v1h-1zM95.9 417.5h1v1h-1zM138.7 473.1h1v1h-1zM184.0 473.8h1v1h-1zM165.7 476.0h1v1h-1zM129.9 473.6h1v1h-1zM162.4 473.6h1v1h-1zM167.6 474.5h1v1h-1zM110.8 453.6h1v1h-1zM144.9 480.9h1v1h-1zM110.5 453.5h1v1h-1zM135.5 476.7h1v1h-1zM155.5 471.0h1v1h-1zM141.1 481.9h1v1h-1zM134.6 476.9h1v1h-1zM114.2 457.6h1v1h-1zM135.2 464.5h1v1h-1zM99.9 431.9h1v1h-1zM181.9 477.1h1v1h-1zM104.0 435.6h1v1h-1zM144.7 488.1h1v1h-1zM165.1 483.5h1v1h-1zM102.9 437.0h1v1h-1zM120.8 470.0h1v1h-1zM171.5 488.1h1v1h-1zM168.5 479.0h1v1h-1zM175.7 479.6h1v1h-1zM138.6 474.7h1v1h-1zM116.0 462.7h1v1h-1zM182.3 483.7h1v1h-1zM124.6 472.7h1v1h-1zM175.1 470.1h1v1h-1zM151.1 477.5h1v1h-1zM118.5 462.6h1v1h-1zM156.5 474.0h1v1h-1zM131.5 467.0h1v1h-1zM138.6 462.4h1v1h-1zM125.3 469.3h1v1h-1zM116.5 457.9h1v1h-1zM162.1 475.7h1v1h-1zM139.8 474.0h1v1h-1zM143.2 463.0h1v1h-1zM163.7 477.1h1v1h-1zM136.3 466.2h1v1h-1zM122.0 466.0h1v1h-1zM166.4 479.5h1v1h-1zM163.0 487.6h1v1h-1zM143.3 467.4h1v1h-1zM100.7 428.8h1v1h-1zM111.0 457.0h1v1h-1zM164.7 477.3h1v1h-1zM152.6 480.2h1v1h-1zM136.3 480.4h1v1h-1zM174.3 486.9h1v1h-1zM179.5 489.9h1v1h-1zM142.2 480.3h1v1h-1zM130.2 477.0h1v1h-1zM165.1 475.8h1v1h-1zM176.3 469.6h1v1h-1zM164.8 473.4h1v1h-1zM105.7 437.7h1v1h-1zM177.5 487.1h1v1h-1zM122.9 469.3h1v1h-1zM184.5 475.2h1v1h-1zM174.2 472.6h1v1h-1zM174.0 489.0h1v1h-1zM95.3 419.0h1v1h-1zM162.1 468.1h1v1h-1zM129.9 480.9h1v1h-1zM143.2 461.0h1v1h-1zM148.3 475.1h1v1h-1zM125.4 459.5h1v1h-1zM171.8 478.0h1v1h-1zM116.1 466.1h1v1h-1zM130.4 459.2h1v1h-1zM106.0 444.8h1v1h-1zM108.9 449.8h1v1h-1zM178.7 470.3h1v1h-1zM120.3 464.7h1v1h-1zM162.2 473.5h1v1h-1zM131.8 472.5h1v1h-1zM181.6 483.3h1v1h-1zM111.5 457.4h1v1h-1zM157.9 465.8h1v1h-1zM118.3 467.2h1v1h-1zM162.3 473.1h1v1h-1zM120.7 463.0h1v1h-1zM117.3 461.3h1v1h-1zM150.5 475.4h1v1h-1zM166.4 470.9h1v1h-1zM180.1 475.4h1v1h-1zM175.5 478.4h1v1h-1zM133.6 469.9h1v1h-1zM95.2 420.6h1v1h-1zM111.9 451.8h1v1h-1zM98.2 425.4h1v1h-1zM157.5 484.1h1v1h-1zM182.4 477.0h1v1h-1zM113.9 454.0h1v1h-1zM149.8 474.9h1v1h-1zM127.1 472.8h1v1h-1zM163.2 474.7h1v1h-1zM158.6 480.8h1v1h-1zM121.5 469.7h1v1h-1zM135.4 479.1h1v1h-1zM152.6 479.6h1v1h-1zM105.0 439.8h1v1h-1zM147.6 473.5h1v1h-1zM114.2 455.2h1v1h-1zM180.5 467.0h1v1h-1zM173.0 475.4h1v1h-1zM97.0 421.2h1v1h-1zM154.0 478.1h1v1h-1zM167.4 475.0h1v1h-1zM181.7 475.5h1v1h-1zM164.0 479.4h1v1h-1zM160.8 486.8h1v1h-1zM169.2 475.9h1v1h-1zM97.1 422.2h1v1h-1zM146.5 485.9h1v1h-1zM99.3 426.5h1v1h-1zM166.4 475.9h1v1h-1zM152.6 470.8h1v1h-1zM182.6 480.2h1v1h-1zM112.3 452.5h1v1h-1zM98.8 428.9h1v1h-1zM165.3 473.8h1v1h-1zM128.6 462.9h1v1h-1zM181.0 481.9h1v1h-1zM172.3 472.6h1v1h-1zM170.8 485.5h1v1h-1zM137.0 475.0h1v1h-1zM164.7 479.4h1v1h-1zM123.1 472.2h1v1h-1zM104.3 442.9h1v1h-1z" fill="#2a1a48" fill-opacity="0.3"/>
<path d="M136.1 482.3h1v1h-1zM131.6 487.8h1v1h-1zM108.3 450.8h1v1h-1zM95.4 416.9h1v1h-1zM181.4 483.8h1v1h-1zM108.1 447.2h1v1h-1zM124.1 469.1h1v1h-1zM154.5 472.8h1v1h-1zM162.2 486.7h1v1h-1zM159.3 489.4h1v1h-1zM178.6 476.7h1v1h-1zM117.7 460.2h1v1h-1zM125.2 467.6h1v1h-1zM129.2 469.4h1v1h-1zM168.1 473.3h1v1h-1zM167.7 466.8h1v1h-1zM128.2 476.6h1v1h-1zM109.8 454.0h1v1h-1zM171.6 480.7h1v1h-1zM168.2 476.3h1v1h-1zM166.5 473.5h1v1h-1zM98.2 420.5h1v1h-1zM106.8 446.8h1v1h-1zM96.8 421.9h1v1h-1zM174.7 478.0h1v1h-1zM115.8 451.9h1v1h-1zM126.1 469.9h1v1h-1zM139.7 478.5h1v1h-1zM143.5 473.9h1v1h-1zM165.4 472.4h1v1h-1zM164.7 470.8h1v1h-1zM109.5 454.2h1v1h-1zM121.8 469.8h1v1h-1zM148.5 463.2h1v1h-1zM158.2 473.9h1v1h-1zM135.5 472.5h1v1h-1zM98.4 428.0h1v1h-1zM100.4 433.4h1v1h-1zM138.2 467.3h1v1h-1zM112.9 461.7h1v1h-1zM117.4 459.1h1v1h-1zM107.6 445.8h1v1h-1zM132.5 474.9h1v1h-1zM182.8 472.9h1v1h-1zM177.8 475.9h1v1h-1zM125.0 459.8h1v1h-1zM151.4 471.1h1v1h-1zM134.8 462.6h1v1h-1zM122.8 469.1h1v1h-1zM125.3 462.0h1v1h-1zM146.8 479.4h1v1h-1zM181.8 477.3h1v1h-1zM100.6 431.4h1v1h-1zM98.3 423.5h1v1h-1zM141.4 483.1h1v1h-1zM115.2 464.9h1v1h-1zM103.0 439.6h1v1h-1zM140.8 460.4h1v1h-1zM128.8 465.8h1v1h-1zM107.8 450.5h1v1h-1zM141.5 481.2h1v1h-1zM183.2 482.5h1v1h-1zM122.4 477.3h1v1h-1zM109.7 454.2h1v1h-1zM128.1 460.3h1v1h-1zM97.2 424.6h1v1h-1zM113.1 455.9h1v1h-1zM139.3 474.5h1v1h-1zM156.5 474.3h1v1h-1zM116.0 462.0h1v1h-1zM117.1 458.9h1v1h-1zM108.0 448.8h1v1h-1zM137.7 478.7h1v1h-1zM152.8 485.9h1v1h-1zM105.6 447.4h1v1h-1zM177.7 476.1h1v1h-1zM111.1 456.3h1v1h-1zM122.3 472.1h1v1h-1zM114.6 456.4h1v1h-1zM119.3 473.9h1v1h-1zM177.7 471.5h1v1h-1zM149.1 489.6h1v1h-1zM163.1 474.0h1v1h-1zM145.5 479.9h1v1h-1zM173.3 481.3h1v1h-1zM120.5 465.2h1v1h-1zM103.1 434.9h1v1h-1zM112.1 449.6h1v1h-1zM130.6 472.6h1v1h-1zM131.6 460.0h1v1h-1zM113.5 459.3h1v1h-1zM170.9 481.7h1v1h-1zM103.8 440.9h1v1h-1zM110.2 447.0h1v1h-1zM110.8 456.1h1v1h-1zM164.3 477.3h1v1h-1zM108.0 448.1h1v1h-1zM154.1 474.2h1v1h-1zM157.6 487.3h1v1h-1zM146.4 477.8h1v1h-1zM170.3 472.1h1v1h-1zM153.1 475.4h1v1h-1zM127.0 480.0h1v1h-1zM144.4 470.5h1v1h-1zM149.3 470.8h1v1h-1zM161.3 476.9h1v1h-1zM181.2 482.5h1v1h-1zM155.6 473.8h1v1h-1zM178.3 474.2h1v1h-1zM117.5 467.2h1v1h-1zM163.4 475.2h1v1h-1zM149.7 481.5h1v1h-1zM184.5 478.5h1v1h-1zM151.8 475.0h1v1h-1zM108.7 451.2h1v1h-1zM167.3 475.9h1v1h-1zM148.9 480.7h1v1h-1zM184.3 471.8h1v1h-1zM155.2 483.0h1v1h-1zM144.3 478.2h1v1h-1zM145.8 481.6h1v1h-1zM105.1 441.1h1v1h-1zM113.2 458.7h1v1h-1zM138.8 483.7h1v1h-1zM130.4 471.9h1v1h-1zM102.0 435.9h1v1h-1zM116.0 459.1h1v1h-1zM126.9 479.4h1v1h-1zM153.6 462.6h1v1h-1zM149.0 475.0h1v1h-1zM97.6 423.9h1v1h-1zM139.1 474.2h1v1h-1zM175.8 479.3h1v1h-1zM112.2 453.4h1v1h-1zM111.7 450.7h1v1h-1zM128.5 474.9h1v1h-1zM180.1 481.2h1v1h-1zM114.2 466.5h1v1h-1zM120.9 462.9h1v1h-1zM145.0 484.3h1v1h-1zM123.0 464.1h1v1h-1zM130.9 473.7h1v1h-1zM174.5 472.3h1v1h-1zM105.5 443.1h1v1h-1zM184.6 478.5h1v1h-1zM168.6 480.1h1v1h-1zM162.9 463.0h1v1h-1zM98.7 424.7h1v1h-1zM146.5 469.9h1v1h-1zM112.1 453.9h1v1h-1zM112.5 452.2h1v1h-1zM114.3 463.7h1v1h-1zM161.1 470.4h1v1h-1zM140.1 467.6h1v1h-1zM131.0 470.9h1v1h-1zM168.7 473.1h1v1h-1zM115.4 462.2h1v1h-1zM166.1 472.9h1v1h-1zM133.6 464.6h1v1h-1zM124.7 460.9h1v1h-1zM146.1 480.4h1v1h-1zM113.8 460.7h1v1h-1zM176.0 480.3h1v1h-1zM100.7 430.2h1v1h-1zM170.7 478.0h1v1h-1zM111.7 453.2h1v1h-1zM142.2 476.2h1v1h-1zM154.8 481.4h1v1h-1zM96.5 419.0h1v1h-1zM178.3 463.5h1v1h-1zM101.6 436.4h1v1h-1zM135.5 483.3h1v1h-1zM111.4 452.7h1v1h-1zM130.0 473.4h1v1h-1zM181.2 477.8h1v1h-1zM183.0 484.7h1v1h-1zM144.6 478.0h1v1h-1zM178.1 473.7h1v1h-1zM119.7 458.7h1v1h-1zM113.9 461.5h1v1h-1zM150.1 479.5h1v1h-1zM141.1 481.5h1v1h-1zM170.2 470.7h1v1h-1zM152.7 483.5h1v1h-1zM172.1 469.3h1v1h-1zM158.8 482.9h1v1h-1zM159.7 475.1h1v1h-1zM97.2 423.2h1v1h-1zM168.2 487.4h1v1h-1zM156.4 475.6h1v1h-1zM141.7 482.1h1v1h-1zM120.5 480.0h1v1h-1zM157.7 485.4h1v1h-1zM155.2 477.5h1v1h-1zM112.0 461.3h1v1h-1zM129.5 486.5h1v1h-1zM158.8 474.1h1v1h-1zM112.5 457.8h1v1h-1zM172.8 475.8h1v1h-1zM165.1 471.9h1v1h-1zM169.4 479.3h1v1h-1zM176.8 483.6h1v1h-1zM102.1 431.8h1v1h-1zM115.7 457.1h1v1h-1zM182.5 479.5h1v1h-1zM130.1 479.7h1v1h-1zM124.8 463.4h1v1h-1zM120.1 467.5h1v1h-1zM117.5 470.0h1v1h-1zM124.4 468.4h1v1h-1zM143.6 481.2h1v1h-1zM178.0 469.0h1v1h-1zM102.4 436.3h1v1h-1zM131.1 467.6h1v1h-1zM116.5 469.1h1v1h-1zM134.0 474.7h1v1h-1zM122.6 472.3h1v1h-1zM135.1 482.3h1v1h-1zM116.7 456.1h1v1h-1zM128.9 474.5h1v1h-1zM175.8 474.9h1v1h-1zM182.8 468.2h1v1h-1zM127.7 478.7h1v1h-1zM122.6 464.9h1v1h-1zM125.7 468.8h1v1h-1zM141.0 469.2h1v1h-1zM102.1 434.4h1v1h-1zM116.6 465.2h1v1h-1zM132.3 473.8h1v1h-1zM123.2 466.8h1v1h-1zM119.3 466.0h1v1h-1zM118.2 462.2h1v1h-1zM125.8 476.9h1v1h-1zM147.9 472.8h1v1h-1zM100.8 437.3h1v1h-1zM149.2 475.6h1v1h-1zM140.2 482.9h1v1h-1zM123.6 477.9h1v1h-1zM117.0 462.2h1v1h-1zM166.2 477.1h1v1h-1zM99.0 425.2h1v1h-1zM126.7 476.4h1v1h-1zM178.2 473.5h1v1h-1zM151.6 476.8h1v1h-1zM147.8 476.8h1v1h-1zM95.7 423.0h1v1h-1zM99.1 424.1h1v1h-1zM138.2 467.4h1v1h-1zM151.5 475.1h1v1h-1zM180.0 475.0h1v1h-1zM144.2 467.7h1v1h-1zM119.3 469.3h1v1h-1zM102.2 434.5h1v1h-1zM153.4 482.1h1v1h-1zM133.1 479.3h1v1h-1zM171.6 475.6h1v1h-1zM94.6 416.6h1v1h-1zM142.5 472.8h1v1h-1zM139.7 483.3h1v1h-1zM125.2 471.7h1v1h-1zM184.0 477.1h1v1h-1zM96.0 419.9h1v1h-1zM183.4 484.0h1v1h-1zM99.5 429.7h1v1h-1zM145.2 477.5h1v1h-1zM146.1 466.9h1v1h-1zM110.4 444.2h1v1h-1zM106.0 438.4h1v1h-1zM176.2 475.7h1v1h-1zM109.7 452.7h1v1h-1z" fill="#2a1a48" fill-opacity="0.5"/>
<path d="M123.7 473.0h1v1h-1zM156.5 482.0h1v1h-1zM181.8 471.4h1v1h-1zM155.2 474.0h1v1h-1zM169.5 480.9h1v1h-1zM131.4 465.2h1v1h-1zM98.3 423.3h1v1h-1zM136.0 480.2h1v1h-1zM109.1 446.9h1v1h-1zM100.6 432.7h1v1h-1zM142.9 469.9h1v1h-1zM183.7 480.9h1v1h-1zM133.5 470.8h1v1h-1zM172.6 472.9h1v1h-1zM105.3 443.4h1v1h-1zM178.5 483.2h1v1h-1zM139.2 478.4h1v1h-1zM162.7 472.5h1v1h-1zM129.0 471.8h1v1h-1zM143.4 467.6h1v1h-1zM152.7 488.8h1v1h-1zM172.8 470.1h1v1h-1zM145.4 478.4h1v1h-1zM173.4 473.0h1v1h-1zM180.1 477.9h1v1h-1zM169.9 482.9h1v1h-1zM166.8 483.0h1v1h-1zM123.2 466.3h1v1h-1zM183.3 483.1h1v1h-1zM102.0 438.4h1v1h-1zM158.2 484.0h1v1h-1zM122.1 466.3h1v1h-1zM114.9 451.8h1v1h-1zM169.3 486.8h1v1h-1zM131.6 464.4h1v1h-1zM96.4 420.8h1v1h-1zM124.9 471.0h1v1h-1zM161.4 484.8h1v1h-1zM148.5 475.4h1v1h-1zM100.6 432.2h1v1h-1zM151.8 481.6h1v1h-1zM132.4 473.5h1v1h-1zM161.9 486.4h1v1h-1zM140.3 490.3h1v1h-1zM167.7 471.5h1v1h-1zM164.5 469.8h1v1h-1zM136.6 475.8h1v1h-1zM138.5 482.5h1v1h-1zM176.1 483.2h1v1h-1zM102.0 437.5h1v1h-1zM145.8 482.2h1v1h-1zM168.6 472.6h1v1h-1zM108.2 451.8h1v1h-1zM106.4 452.1h1v1h-1zM181.0 474.7h1v1h-1zM115.5 466.6h1v1h-1zM111.5 457.9h1v1h-1zM146.9 472.5h1v1h-1zM136.7 475.4h1v1h-1zM130.7 475.4h1v1h-1zM159.6 475.6h1v1h-1zM153.2 479.4h1v1h-1zM121.0 458.7h1v1h-1zM99.1 427.7h1v1h-1zM134.5 483.5h1v1h-1zM111.5 459.5h1v1h-1zM117.0 459.7h1v1h-1zM96.4 420.8h1v1h-1zM119.6 458.9h1v1h-1zM107.4 442.4h1v1h-1zM131.4 463.6h1v1h-1zM145.5 473.2h1v1h-1zM95.8 417.9h1v1h-1zM153.0 476.6h1v1h-1zM98.1 427.9h1v1h-1zM114.7 461.3h1v1h-1zM118.3 459.8h1v1h-1zM102.9 438.2h1v1h-1zM106.5 441.0h1v1h-1zM117.7 464.6h1v1h-1zM127.5 475.9h1v1h-1zM96.9 425.8h1v1h-1zM119.6 470.7h1v1h-1zM97.4 423.7h1v1h-1zM136.8 467.9h1v1h-1zM163.2 479.7h1v1h-1zM180.4 486.1h1v1h-1zM96.0 422.5h1v1h-1zM101.1 428.1h1v1h-1zM183.8 473.6h1v1h-1zM108.1 450.3h1v1h-1zM120.9 462.1h1v1h-1zM130.2 477.5h1v1h-1zM119.7 458.8h1v1h-1zM95.8 417.7h1v1h-1zM157.0 475.9h1v1h-1zM158.4 476.4h1v1h-1zM157.8 469.6h1v1h-1zM113.0 454.5h1v1h-1zM144.7 467.3h1v1h-1zM127.0 472.4h1v1h-1zM161.6 477.1h1v1h-1zM150.5 473.7h1v1h-1zM137.6 472.9h1v1h-1zM182.2 486.5h1v1h-1zM159.1 479.8h1v1h-1zM137.1 476.8h1v1h-1zM166.8 476.2h1v1h-1zM158.6 474.7h1v1h-1zM114.5 460.5h1v1h-1zM176.6 477.1h1v1h-1zM152.1 476.4h1v1h-1zM168.3 480.0h1v1h-1zM172.1 483.4h1v1h-1zM111.3 452.0h1v1h-1zM134.9 470.4h1v1h-1zM161.3 476.8h1v1h-1zM174.8 475.1h1v1h-1zM177.9 473.5h1v1h-1zM138.6 478.5h1v1h-1zM129.4 481.5h1v1h-1zM161.7 466.8h1v1h-1zM147.5 463.9h1v1h-1zM143.5 485.6h1v1h-1zM184.3 472.3h1v1h-1zM120.8 470.6h1v1h-1zM98.1 425.3h1v1h-1zM127.1 463.9h1v1h-1zM95.2 418.2h1v1h-1zM155.3 477.8h1v1h-1zM159.3 473.1h1v1h-1zM166.1 469.2h1v1h-1zM171.8 473.4h1v1h-1zM120.1 454.9h1v1h-1zM148.8 482.1h1v1h-1zM136.6 482.6h1v1h-1zM142.1 475.9h1v1h-1zM127.2 466.4h1v1h-1zM133.7 473.2h1v1h-1zM106.4 441.5h1v1h-1zM154.8 476.8h1v1h-1zM161.6 489.3h1v1h-1zM152.0 476.6h1v1h-1zM169.8 469.9h1v1h-1zM146.3 478.5h1v1h-1zM102.8 436.5h1v1h-1zM122.8 468.4h1v1h-1zM114.6 462.8h1v1h-1zM144.1 471.3h1v1h-1zM143.3 470.4h1v1h-1zM136.8 472.0h1v1h-1zM147.3 470.1h1v1h-1zM177.7 470.4h1v1h-1zM174.6 477.5h1v1h-1zM175.4 485.5h1v1h-1zM175.8 479.8h1v1h-1zM141.6 475.8h1v1h-1zM173.4 482.5h1v1h-1zM115.7 460.9h1v1h-1zM117.3 462.0h1v1h-1zM127.0 474.5h1v1h-1zM98.3 423.7h1v1h-1zM167.8 477.4h1v1h-1zM140.2 485.7h1v1h-1zM175.0 482.3h1v1h-1zM150.5 474.4h1v1h-1zM121.0 461.8h1v1h-1zM162.3 468.6h1v1h-1zM126.3 469.5h1v1h-1zM149.6 475.6h1v1h-1zM168.3 477.8h1v1h-1zM111.2 453.1h1v1h-1zM179.1 478.0h1v1h-1zM138.0 473.4h1v1h-1zM159.6 470.2h1v1h-1zM125.5 481.7h1v1h-1zM133.0 472.0h1v1h-1zM178.2 475.3h1v1h-1zM118.1 457.1h1v1h-1zM100.9 435.4h1v1h-1zM156.6 482.2h1v1h-1zM103.0 433.4h1v1h-1zM128.3 464.2h1v1h-1zM134.4 475.1h1v1h-1zM162.6 473.2h1v1h-1zM108.6 445.9h1v1h-1zM108.5 454.0h1v1h-1zM123.6 472.8h1v1h-1zM95.6 416.4h1v1h-1zM124.4 462.4h1v1h-1zM152.1 462.9h1v1h-1zM151.3 471.5h1v1h-1zM158.1 469.7h1v1h-1zM97.1 421.6h1v1h-1zM166.6 484.6h1v1h-1zM147.1 477.7h1v1h-1zM113.6 454.8h1v1h-1zM138.2 471.3h1v1h-1zM134.3 464.6h1v1h-1zM160.0 471.8h1v1h-1zM123.9 472.2h1v1h-1zM95.5 422.4h1v1h-1zM154.7 486.6h1v1h-1zM136.9 478.2h1v1h-1zM118.4 470.0h1v1h-1zM130.0 462.4h1v1h-1zM95.5 421.6h1v1h-1zM130.7 481.2h1v1h-1zM98.7 427.6h1v1h-1zM137.8 473.6h1v1h-1zM140.2 469.3h1v1h-1zM96.6 417.9h1v1h-1zM171.2 459.8h1v1h-1zM143.3 480.2h1v1h-1zM96.1 420.8h1v1h-1zM163.3 466.6h1v1h-1zM156.7 475.8h1v1h-1zM148.3 480.7h1v1h-1zM175.3 473.3h1v1h-1zM126.8 476.7h1v1h-1zM141.6 487.4h1v1h-1zM110.1 451.6h1v1h-1zM174.3 478.8h1v1h-1zM132.5 470.3h1v1h-1zM173.0 483.0h1v1h-1zM121.1 474.0h1v1h-1zM111.5 452.4h1v1h-1zM154.7 473.8h1v1h-1zM97.9 428.6h1v1h-1zM117.7 460.7h1v1h-1zM131.7 467.2h1v1h-1zM146.6 478.0h1v1h-1zM149.8 476.6h1v1h-1zM126.9 466.8h1v1h-1zM118.6 464.4h1v1h-1zM183.5 474.3h1v1h-1zM163.3 471.5h1v1h-1zM109.0 448.2h1v1h-1zM171.4 477.8h1v1h-1zM108.1 442.4h1v1h-1zM125.5 456.5h1v1h-1zM106.7 443.0h1v1h-1zM149.4 469.9h1v1h-1zM150.6 465.3h1v1h-1zM175.1 468.6h1v1h-1zM142.0 483.5h1v1h-1zM141.6 474.0h1v1h-1zM179.6 479.6h1v1h-1zM124.0 471.8h1v1h-1zM120.8 459.0h1v1h-1zM138.8 469.6h1v1h-1zM176.8 481.3h1v1h-1zM183.8 481.4h1v1h-1zM153.6 466.3h1v1h-1zM137.6 485.0h1v1h-1zM116.9 460.3h1v1h-1zM116.8 466.7h1v1h-1zM129.5 475.0h1v1h-1zM145.9 485.2h1v1h-1zM123.4 455.5h1v1h-1zM141.3 469.5h1v1h-1zM128.3 467.5h1v1h-1zM116.0 458.5h1v1h-1zM173.4 474.2h1v1h-1zM174.0 473.8h1v1h-1z" fill="#2a1a48" fill-opacity="0.75"/>
<path d="M176.5 478.2h1v1h-1zM147.7 486.2h1v1h-1zM112.8 462.7h1v1h-1zM141.2 486.1h1v1h-1zM116.4 466.9h1v1h-1zM164.3 480.0h1v1h-1zM142.1 486.9h1v1h-1zM133.6 481.7h1v1h-1zM130.8 485.3h1v1h-1zM101.1 433.7h1v1h-1zM131.0 487.2h1v1h-1zM118.6 473.9h1v1h-1zM121.3 471.4h1v1h-1zM141.0 477.1h1v1h-1zM182.8 480.4h1v1h-1zM130.7 478.1h1v1h-1zM171.5 486.0h1v1h-1zM157.2 476.6h1v1h-1zM134.6 480.6h1v1h-1zM96.1 419.2h1v1h-1zM109.4 458.3h1v1h-1zM117.3 470.9h1v1h-1zM150.8 485.9h1v1h-1zM156.2 486.2h1v1h-1zM179.3 486.6h1v1h-1zM178.5 479.9h1v1h-1zM169.9 475.2h1v1h-1zM158.6 474.6h1v1h-1zM107.2 450.9h1v1h-1zM146.1 490.2h1v1h-1zM111.6 459.8h1v1h-1zM181.1 478.8h1v1h-1zM100.4 434.1h1v1h-1zM175.0 481.9h1v1h-1zM123.9 473.3h1v1h-1zM155.0 484.3h1v1h-1zM95.6 419.3h1v1h-1zM175.0 485.0h1v1h-1zM176.9 487.2h1v1h-1zM173.3 488.4h1v1h-1zM135.4 478.9h1v1h-1zM121.6 477.9h1v1h-1zM136.0 473.0h1v1h-1zM118.8 467.5h1v1h-1zM111.5 462.2h1v1h-1zM105.5 443.3h1v1h-1zM150.7 479.6h1v1h-1zM123.1 472.6h1v1h-1zM161.9 482.9h1v1h-1zM160.3 477.1h1v1h-1zM171.5 480.9h1v1h-1zM177.0 492.3h1v1h-1zM111.3 453.1h1v1h-1zM115.5 473.4h1v1h-1zM139.4 482.8h1v1h-1zM124.6 475.6h1v1h-1zM173.0 488.1h1v1h-1zM165.1 487.3h1v1h-1zM112.7 451.3h1v1h-1zM100.3 434.5h1v1h-1zM146.5 482.2h1v1h-1zM100.4 435.8h1v1h-1zM96.4 421.0h1v1h-1zM173.8 479.6h1v1h-1zM155.8 474.7h1v1h-1zM143.8 486.6h1v1h-1zM136.9 480.9h1v1h-1zM175.3 485.6h1v1h-1zM125.2 484.1h1v1h-1zM126.7 476.4h1v1h-1zM178.6 481.3h1v1h-1zM99.0 430.2h1v1h-1zM172.6 480.8h1v1h-1zM173.8 479.4h1v1h-1zM123.2 475.9h1v1h-1zM153.5 489.1h1v1h-1zM148.3 480.5h1v1h-1zM96.4 419.9h1v1h-1zM126.7 480.0h1v1h-1zM135.8 477.1h1v1h-1zM145.5 477.7h1v1h-1zM106.9 454.9h1v1h-1zM109.9 459.0h1v1h-1zM151.7 486.4h1v1h-1zM119.1 480.1h1v1h-1zM120.1 482.0h1v1h-1zM118.1 472.2h1v1h-1zM119.2 468.0h1v1h-1zM103.0 440.5h1v1h-1zM99.5 428.8h1v1h-1zM133.8 488.8h1v1h-1zM171.4 474.5h1v1h-1zM122.9 481.6h1v1h-1zM96.9 421.2h1v1h-1zM114.8 466.1h1v1h-1zM149.4 490.5h1v1h-1zM164.2 486.8h1v1h-1zM103.5 440.6h1v1h-1zM145.6 479.3h1v1h-1zM131.4 485.7h1v1h-1zM149.5 484.8h1v1h-1zM177.8 470.7h1v1h-1zM134.0 483.2h1v1h-1zM156.6 480.8h1v1h-1zM134.1 480.5h1v1h-1zM143.7 491.2h1v1h-1zM132.8 478.3h1v1h-1zM159.7 482.6h1v1h-1zM154.4 489.2h1v1h-1zM100.5 431.5h1v1h-1zM176.0 475.5h1v1h-1zM160.9 485.2h1v1h-1zM111.1 459.2h1v1h-1zM165.3 485.7h1v1h-1zM155.0 473.9h1v1h-1zM107.0 446.3h1v1h-1zM147.2 481.8h1v1h-1zM180.6 481.0h1v1h-1zM165.8 483.7h1v1h-1zM180.2 489.1h1v1h-1zM171.6 483.8h1v1h-1zM155.4 476.0h1v1h-1zM136.0 478.9h1v1h-1zM145.0 464.1h1v1h-1zM169.7 482.2h1v1h-1zM105.7 446.3h1v1h-1zM130.0 480.7h1v1h-1zM99.3 428.0h1v1h-1zM131.1 478.9h1v1h-1zM110.9 459.4h1v1h-1zM139.1 478.6h1v1h-1zM148.5 482.4h1v1h-1zM175.0 486.7h1v1h-1zM99.3 432.7h1v1h-1zM116.5 474.8h1v1h-1zM131.5 485.1h1v1h-1zM140.5 478.4h1v1h-1zM164.9 483.3h1v1h-1zM141.4 489.7h1v1h-1zM102.9 444.9h1v1h-1zM118.5 477.3h1v1h-1zM169.3 491.2h1v1h-1zM158.7 479.5h1v1h-1zM123.0 477.5h1v1h-1zM168.8 479.4h1v1h-1zM100.6 431.7h1v1h-1zM101.9 441.4h1v1h-1zM151.7 488.4h1v1h-1zM170.2 480.8h1v1h-1zM106.2 446.2h1v1h-1zM116.2 469.8h1v1h-1zM95.4 422.4h1v1h-1zM104.8 449.0h1v1h-1zM110.9 460.3h1v1h-1zM114.0 462.0h1v1h-1zM100.6 435.3h1v1h-1zM131.2 481.5h1v1h-1zM159.8 483.4h1v1h-1zM95.3 422.2h1v1h-1zM133.0 476.9h1v1h-1zM111.9 461.3h1v1h-1zM162.8 480.4h1v1h-1zM159.6 479.6h1v1h-1zM123.1 480.1h1v1h-1zM153.5 482.7h1v1h-1zM140.4 475.8h1v1h-1zM125.5 475.8h1v1h-1zM159.1 483.5h1v1h-1zM167.0 483.9h1v1h-1zM172.2 484.4h1v1h-1zM119.1 477.3h1v1h-1zM139.2 486.7h1v1h-1zM101.5 434.7h1v1h-1zM125.7 483.0h1v1h-1zM171.0 480.5h1v1h-1zM184.6 484.9h1v1h-1zM154.1 487.2h1v1h-1zM119.5 479.2h1v1h-1zM94.6 418.3h1v1h-1zM134.2 481.8h1v1h-1zM113.7 463.5h1v1h-1zM151.2 484.8h1v1h-1zM96.4 420.4h1v1h-1zM115.9 469.2h1v1h-1zM155.3 479.1h1v1h-1zM168.9 476.1h1v1h-1zM110.7 451.9h1v1h-1zM124.7 487.0h1v1h-1zM137.1 478.2h1v1h-1zM110.1 452.6h1v1h-1zM121.0 479.3h1v1h-1zM116.3 466.8h1v1h-1zM148.5 492.2h1v1h-1zM114.9 463.6h1v1h-1zM132.3 474.2h1v1h-1zM96.5 426.3h1v1h-1zM144.6 486.2h1v1h-1zM147.2 477.0h1v1h-1zM150.0 477.9h1v1h-1zM113.5 460.3h1v1h-1zM131.8 485.0h1v1h-1zM133.4 476.2h1v1h-1zM119.0 479.4h1v1h-1zM124.3 469.7h1v1h-1zM159.3 478.7h1v1h-1zM135.3 487.9h1v1h-1zM137.4 477.5h1v1h-1zM122.9 478.4h1v1h-1zM161.2 483.6h1v1h-1zM165.8 485.0h1v1h-1zM102.2 439.6h1v1h-1zM179.1 478.1h1v1h-1zM122.5 473.0h1v1h-1zM121.4 478.7h1v1h-1zM184.5 482.4h1v1h-1zM174.4 483.8h1v1h-1zM157.6 478.2h1v1h-1zM102.6 435.8h1v1h-1zM129.9 471.8h1v1h-1zM108.3 464.7h1v1h-1zM161.5 489.0h1v1h-1zM180.8 489.8h1v1h-1zM110.4 451.0h1v1h-1zM163.5 480.2h1v1h-1zM114.7 467.9h1v1h-1zM122.6 488.0h1v1h-1zM170.2 484.7h1v1h-1zM118.5 472.8h1v1h-1zM147.8 483.5h1v1h-1zM98.9 427.3h1v1h-1zM96.5 421.7h1v1h-1zM126.5 480.0h1v1h-1zM142.8 488.2h1v1h-1zM111.1 465.9h1v1h-1zM96.1 418.4h1v1h-1zM99.9 431.2h1v1h-1zM127.4 484.7h1v1h-1zM122.9 470.7h1v1h-1zM117.9 470.4h1v1h-1zM174.5 482.8h1v1h-1zM154.0 480.0h1v1h-1zM125.3 472.0h1v1h-1zM152.2 482.8h1v1h-1zM151.9 479.1h1v1h-1zM118.6 474.0h1v1h-1zM177.7 472.7h1v1h-1zM168.9 491.6h1v1h-1zM154.9 482.6h1v1h-1zM97.5 424.8h1v1h-1zM137.0 486.8h1v1h-1zM149.8 478.0h1v1h-1zM96.0 419.9h1v1h-1zM137.2 482.3h1v1h-1zM137.7 480.3h1v1h-1zM143.3 489.9h1v1h-1zM172.1 476.5h1v1h-1zM150.4 473.2h1v1h-1z" fill="#e42828" fill-opacity="0.3"/>
<path d="M117.5 467.1h1v1h-1zM162.8 476.6h1v1h-1zM96.0 420.9h1v1h-1zM121.4 466.6h1v1h-1zM178.7 488.1h1v1h-1zM113.5 460.6h1v1h-1zM117.3 467.3h1v1h-1zM167.2 468.3h1v1h-1zM167.5 477.2h1v1h-1zM143.1 476.7h1v1h-1zM158.3 481.8h1v1h-1zM170.6 478.7h1v1h-1zM163.6 471.6h1v1h-1zM112.0 458.7h1v1h-1zM158.5 481.6h1v1h-1zM102.5 438.0h1v1h-1zM111.0 466.1h1v1h-1zM131.0 471.2h1v1h-1zM158.6 483.3h1v1h-1zM146.4 474.5h1v1h-1zM130.2 477.4h1v1h-1zM151.4 488.0h1v1h-1zM109.1 463.1h1v1h-1zM96.4 419.4h1v1h-1zM101.3 440.5h1v1h-1zM138.7 477.2h1v1h-1zM149.4 491.9h1v1h-1zM129.1 479.5h1v1h-1zM139.2 484.0h1v1h-1zM98.5 426.6h1v1h-1zM175.4 477.6h1v1h-1zM128.8 475.9h1v1h-1zM96.6 423.2h1v1h-1zM106.0 454.7h1v1h-1zM109.1 458.5h1v1h-1zM152.7 485.9h1v1h-1zM134.4 484.3h1v1h-1zM148.4 473.9h1v1h-1zM116.4 475.2h1v1h-1zM134.1 478.1h1v1h-1zM98.4 433.1h1v1h-1zM146.6 490.1h1v1h-1zM153.4 479.9h1v1h-1zM155.4 483.8h1v1h-1zM113.1 463.5h1v1h-1zM165.3 487.5h1v1h-1zM142.0 474.6h1v1h-1zM125.1 473.0h1v1h-1zM134.5 484.9h1v1h-1zM176.2 491.3h1v1h-1zM112.4 457.5h1v1h-1zM112.0 461.3h1v1h-1zM168.1 484.2h1v1h-1zM140.0 487.9h1v1h-1zM121.4 468.2h1v1h-1zM169.5 476.7h1v1h-1zM141.4 475.5h1v1h-1zM164.0 485.5h1v1h-1zM120.0 467.8h1v1h-1zM162.5 488.0h1v1h-1zM111.1 464.3h1v1h-1zM180.3 483.6h1v1h-1zM178.9 475.6h1v1h-1zM159.6 479.9h1v1h-1zM97.6 427.8h1v1h-1zM168.1 477.5h1v1h-1zM164.3 482.6h1v1h-1zM114.5 462.9h1v1h-1zM160.5 478.0h1v1h-1zM158.9 483.7h1v1h-1zM111.8 462.6h1v1h-1zM126.3 486.8h1v1h-1zM141.2 477.7h1v1h-1zM127.0 465.8h1v1h-1zM130.6 484.1h1v1h-1zM98.2 430.4h1v1h-1zM98.4 428.3h1v1h-1zM126.6 482.1h1v1h-1zM110.7 454.3h1v1h-1zM96.6 423.8h1v1h-1zM115.5 467.0h1v1h-1zM139.8 484.3h1v1h-1zM140.9 485.8h1v1h-1zM101.6 435.8h1v1h-1zM114.1 468.5h1v1h-1zM112.5 464.7h1v1h-1zM179.7 489.9h1v1h-1zM131.0 476.0h1v1h-1zM133.4 491.9h1v1h-1zM111.8 457.3h1v1h-1zM127.9 473.0h1v1h-1zM135.6 469.6h1v1h-1zM146.4 481.3h1v1h-1zM167.8 473.6h1v1h-1zM171.7 475.5h1v1h-1zM119.2 472.5h1v1h-1zM112.8 469.1h1v1h-1zM131.3 476.6h1v1h-1zM135.5 480.1h1v1h-1zM182.5 490.1h1v1h-1zM148.2 487.9h1v1h-1zM122.4 477.6h1v1h-1zM145.6 476.5h1v1h-1zM149.5 476.1h1v1h-1zM104.4 446.1h1v1h-1zM176.6 470.7h1v1h-1zM166.0 479.8h1v1h-1zM157.7 490.3h1v1h-1zM146.8 483.5h1v1h-1zM114.3 468.5h1v1h-1zM171.6 468.1h1v1h-1zM164.2 486.0h1v1h-1zM115.2 468.7h1v1h-1zM134.2 485.2h1v1h-1zM148.4 487.7h1v1h-1zM96.9 424.4h1v1h-1zM136.8 480.4h1v1h-1zM101.4 432.5h1v1h-1zM102.6 439.3h1v1h-1zM145.9 488.5h1v1h-1zM176.2 483.7h1v1h-1zM141.8 483.6h1v1h-1zM171.5 486.1h1v1h-1zM183.0 483.1h1v1h-1zM123.5 472.0h1v1h-1zM156.5 476.3h1v1h-1zM165.1 491.5h1v1h-1zM125.1 478.2h1v1h-1zM124.5 479.9h1v1h-1zM155.9 491.7h1v1h-1zM104.1 447.4h1v1h-1zM127.3 477.7h1v1h-1zM97.1 426.4h1v1h-1zM95.8 418.4h1v1h-1zM101.6 433.5h1v1h-1zM147.5 481.5h1v1h-1zM168.2 491.7h1v1h-1zM114.3 463.7h1v1h-1zM183.2 492.0h1v1h-1zM110.2 457.7h1v1h-1zM170.2 484.4h1v1h-1zM165.1 480.5h1v1h-1zM110.6 455.3h1v1h-1zM166.7 490.4h1v1h-1zM132.0 471.1h1v1h-1zM133.9 483.4h1v1h-1zM140.7 474.5h1v1h-1zM144.6 486.3h1v1h-1zM184.0 488.2h1v1h-1zM184.1 490.3h1v1h-1zM160.6 481.8h1v1h-1zM152.5 469.1h1v1h-1zM159.7 481.7h1v1h-1zM166.4 485.3h1v1h-1zM140.4 484.1h1v1h-1zM147.2 475.7h1v1h-1zM179.6 482.1h1v1h-1zM110.3 458.4h1v1h-1zM137.2 483.8h1v1h-1zM143.7 483.5h1v1h-1zM157.6 483.0h1v1h-1zM119.3 468.5h1v1h-1zM142.4 481.0h1v1h-1zM98.5 427.3h1v1h-1zM99.7 434.9h1v1h-1zM114.1 468.7h1v1h-1zM178.3 472.1h1v1h-1zM122.0 476.7h1v1h-1zM94.7 417.1h1v1h-1zM176.6 489.4h1v1h-1zM112.8 468.2h1v1h-1zM145.6 484.6h1v1h-1zM182.0 481.7h1v1h-1zM181.1 479.0h1v1h-1zM146.0 475.3h1v1h-1zM124.2 483.5h1v1h-1zM177.0 480.1h1v1h-1zM143.0 475.3h1v1h-1zM165.5 491.1h1v1h-1zM171.8 490.8h1v1h-1zM99.7 432.5h1v1h-1zM164.7 478.4h1v1h-1zM99.5 433.1h1v1h-1zM149.1 480.8h1v1h-1zM130.0 481.7h1v1h-1zM133.3 486.0h1v1h-1zM179.4 484.2h1v1h-1zM101.4 434.8h1v1h-1zM162.1 487.6h1v1h-1zM138.4 481.1h1v1h-1zM154.5 490.0h1v1h-1zM158.0 490.3h1v1h-1zM101.4 439.7h1v1h-1zM126.4 486.1h1v1h-1zM117.1 472.5h1v1h-1zM156.9 483.7h1v1h-1zM139.4 486.2h1v1h-1zM178.8 488.4h1v1h-1zM173.7 490.1h1v1h-1zM131.7 475.1h1v1h-1zM107.2 453.6h1v1h-1zM183.5 484.4h1v1h-1zM164.6 478.3h1v1h-1zM111.1 461.4h1v1h-1zM96.0 422.9h1v1h-1zM126.0 473.7h1v1h-1zM111.0 461.4h1v1h-1zM108.8 447.0h1v1h-1zM101.7 439.4h1v1h-1zM128.1 484.4h1v1h-1zM112.5 464.7h1v1h-1zM146.1 475.5h1v1h-1zM119.9 470.9h1v1h-1zM182.3 485.1h1v1h-1zM174.0 482.9h1v1h-1zM99.9 426.4h1v1h-1zM166.8 485.1h1v1h-1zM97.3 427.0h1v1h-1zM118.4 473.4h1v1h-1zM184.4 487.1h1v1h-1zM183.7 486.3h1v1h-1zM138.8 467.6h1v1h-1zM124.3 474.3h1v1h-1zM128.1 483.0h1v1h-1zM149.7 466.1h1v1h-1zM108.7 451.4h1v1h-1zM132.4 481.0h1v1h-1zM154.7 478.4h1v1h-1zM105.7 453.5h1v1h-1zM176.2 473.3h1v1h-1zM126.5 490.8h1v1h-1zM114.4 473.2h1v1h-1zM121.3 479.3h1v1h-1zM165.6 486.3h1v1h-1zM167.6 484.0h1v1h-1zM169.0 482.5h1v1h-1zM179.3 489.2h1v1h-1zM135.2 483.8h1v1h-1zM128.5 472.1h1v1h-1zM104.8 448.4h1v1h-1zM164.3 489.7h1v1h-1zM173.3 482.2h1v1h-1zM94.9 417.3h1v1h-1zM174.8 481.3h1v1h-1zM99.6 429.5h1v1h-1zM156.7 487.3h1v1h-1zM184.1 473.7h1v1h-1zM131.0 487.2h1v1h-1zM98.5 428.7h1v1h-1z" fill="#e42828" fill-opacity="0.5"/>
<path d="M134.6 476.3h1v1h-1zM145.9 478.7h1v1h-1zM127.0 485.8h1v1h-1zM143.6 484.2h1v1h-1zM99.1 426.9h1v1h-1zM104.8 446.7h1v1h-1zM125.5 477.6h1v1h-1zM167.1 484.1h1v1h-1zM96.5 422.3h1v1h-1zM179.4 484.8h1v1h-1zM116.9 476.0h1v1h-1zM169.4 485.0h1v1h-1zM158.8 486.8h1v1h-1zM157.1 475.3h1v1h-1zM163.5 480.3h1v1h-1zM143.2 484.4h1v1h-1zM101.5 436.5h1v1h-1zM121.6 478.1h1v1h-1zM106.6 451.4h1v1h-1zM162.0 491.5h1v1h-1zM137.2 475.5h1v1h-1zM112.4 464.1h1v1h-1zM162.1 468.7h1v1h-1zM136.5 485.5h1v1h-1zM184.7 484.3h1v1h-1zM159.5 482.6h1v1h-1zM132.9 487.1h1v1h-1zM142.9 482.9h1v1h-1zM153.3 476.5h1v1h-1zM107.7 451.1h1v1h-1zM132.3 483.8h1v1h-1zM114.0 466.4h1v1h-1zM168.1 482.4h1v1h-1zM153.4 485.4h1v1h-1zM174.3 488.2h1v1h-1zM144.3 487.5h1v1h-1zM144.2 482.1h1v1h-1zM96.0 425.0h1v1h-1zM161.4 483.0h1v1h-1zM110.9 459.6h1v1h-1zM127.3 470.1h1v1h-1zM146.6 472.5h1v1h-1zM121.7 472.0h1v1h-1zM121.7 475.8h1v1h-1zM139.2 485.4h1v1h-1zM165.6 483.7h1v1h-1zM178.4 479.8h1v1h-1zM124.8 482.4h1v1h-1zM112.8 468.0h1v1h-1zM144.3 483.3h1v1h-1zM130.2 490.0h1v1h-1zM167.5 471.9h1v1h-1zM180.2 487.1h1v1h-1zM153.7 482.9h1v1h-1zM98.0 427.3h1v1h-1zM123.8 487.7h1v1h-1zM96.4 424.6h1v1h-1zM160.6 482.4h1v1h-1zM124.0 475.5h1v1h-1zM169.6 479.3h1v1h-1zM155.0 477.5h1v1h-1zM126.7 480.1h1v1h-1zM149.0 482.2h1v1h-1zM103.6 442.4h1v1h-1zM183.1 489.1h1v1h-1zM144.6 483.2h1v1h-1zM99.1 430.6h1v1h-1zM124.9 482.4h1v1h-1zM132.1 485.7h1v1h-1zM167.4 479.1h1v1h-1zM122.3 473.6h1v1h-1zM120.3 472.9h1v1h-1zM109.0 453.4h1v1h-1zM172.0 485.5h1v1h-1zM160.7 479.0h1v1h-1zM139.6 476.5h1v1h-1zM171.0 487.4h1v1h-1zM171.2 488.6h1v1h-1zM169.3 489.2h1v1h-1zM95.2 419.2h1v1h-1zM124.0 468.9h1v1h-1zM182.6 491.7h1v1h-1zM123.3 476.0h1v1h-1zM142.4 489.3h1v1h-1zM143.0 484.9h1v1h-1zM109.0 458.5h1v1h-1zM169.6 480.5h1v1h-1zM137.5 478.5h1v1h-1zM122.6 479.7h1v1h-1zM95.6 420.0h1v1h-1zM117.0 467.2h1v1h-1zM129.2 484.3h1v1h-1zM160.4 485.3h1v1h-1zM178.5 490.4h1v1h-1zM167.0 480.9h1v1h-1zM135.3 480.2h1v1h-1zM154.0 482.9h1v1h-1zM164.9 482.2h1v1h-1zM168.0 470.5h1v1h-1zM172.5 474.5h1v1h-1zM142.1 481.8h1v1h-1zM153.5 480.5h1v1h-1zM111.4 458.0h1v1h-1zM151.6 475.5h1v1h-1zM111.5 464.3h1v1h-1zM169.7 481.8h1v1h-1zM100.4 435.6h1v1h-1zM123.2 477.1h1v1h-1zM125.9 478.4h1v1h-1zM111.1 463.9h1v1h-1zM98.1 422.6h1v1h-1zM159.5 486.1h1v1h-1zM173.9 483.8h1v1h-1zM123.7 473.8h1v1h-1zM98.7 428.9h1v1h-1zM139.5 491.6h1v1h-1zM133.5 478.9h1v1h-1zM110.1 458.3h1v1h-1zM119.0 474.9h1v1h-1zM146.6 484.9h1v1h-1zM127.3 479.5h1v1h-1zM121.8 476.0h1v1h-1zM137.2 481.5h1v1h-1zM144.6 474.0h1v1h-1zM141.3 489.7h1v1h-1zM125.8 464.7h1v1h-1zM97.1 422.2h1v1h-1zM112.8 464.6h1v1h-1zM106.4 443.4h1v1h-1zM148.5 485.8h1v1h-1zM109.2 458.0h1v1h-1zM108.6 455.0h1v1h-1zM162.0 490.2h1v1h-1zM158.2 482.4h1v1h-1zM143.3 492.2h1v1h-1zM116.2 469.8h1v1h-1zM114.8 466.3h1v1h-1zM118.1 460.7h1v1h-1zM126.3 484.5h1v1h-1zM121.0 479.3h1v1h-1zM139.2 478.5h1v1h-1zM180.1 483.4h1v1h-1zM178.6 487.8h1v1h-1zM134.8 477.3h1v1h-1zM175.3 473.8h1v1h-1zM182.2 482.9h1v1h-1zM107.7 454.2h1v1h-1zM127.9 486.4h1v1h-1zM157.0 476.4h1v1h-1zM136.6 487.4h1v1h-1zM96.8 421.1h1v1h-1zM147.2 478.7h1v1h-1zM153.1 480.5h1v1h-1zM124.4 462.9h1v1h-1zM122.2 483.1h1v1h-1zM175.9 490.6h1v1h-1zM165.8 482.9h1v1h-1zM131.9 473.9h1v1h-1zM107.6 454.9h1v1h-1zM137.3 484.5h1v1h-1zM122.1 477.7h1v1h-1zM162.9 485.0h1v1h-1zM153.3 476.7h1v1h-1zM106.8 445.7h1v1h-1zM140.3 483.0h1v1h-1zM117.8 474.8h1v1h-1zM119.4 469.9h1v1h-1zM124.4 485.3h1v1h-1zM126.5 478.9h1v1h-1zM104.1 442.5h1v1h-1zM175.9 486.8h1v1h-1zM112.5 463.7h1v1h-1zM172.2 472.3h1v1h-1zM146.0 482.0h1v1h-1zM127.5 475.3h1v1h-1zM160.8 481.7h1v1h-1zM156.0 482.6h1v1h-1zM183.1 486.0h1v1h-1zM147.6 481.4h1v1h-1zM184.4 483.3h1v1h-1zM114.8 466.3h1v1h-1zM109.2 457.6h1v1h-1zM168.8 491.3h1v1h-1zM114.0 466.9h1v1h-1zM150.3 481.2h1v1h-1zM134.6 469.6h1v1h-1zM117.6 475.9h1v1h-1zM150.5 484.0h1v1h-1zM156.0 489.5h1v1h-1zM125.5 491.3h1v1h-1zM110.8 460.7h1v1h-1zM130.9 476.7h1v1h-1zM134.7 476.1h1v1h-1zM134.7 485.6h1v1h-1zM116.7 461.6h1v1h-1zM157.9 490.4h1v1h-1zM156.9 489.3h1v1h-1zM133.5 471.8h1v1h-1zM136.9 480.8h1v1h-1zM146.7 480.8h1v1h-1zM164.6 478.4h1v1h-1zM103.1 439.8h1v1h-1zM119.5 467.2h1v1h-1zM183.3 480.3h1v1h-1zM159.7 486.9h1v1h-1zM179.1 487.4h1v1h-1zM160.1 482.2h1v1h-1zM171.3 480.9h1v1h-1zM135.6 483.6h1v1h-1zM169.6 483.8h1v1h-1zM179.0 488.4h1v1h-1zM135.1 488.1h1v1h-1zM173.0 475.1h1v1h-1zM108.7 453.8h1v1h-1zM116.9 462.1h1v1h-1zM124.5 473.3h1v1h-1zM98.8 433.4h1v1h-1zM135.1 475.8h1v1h-1zM138.4 489.2h1v1h-1zM120.9 471.5h1v1h-1zM160.4 483.7h1v1h-1zM120.7 475.5h1v1h-1zM143.0 484.9h1v1h-1zM169.3 481.2h1v1h-1zM98.1 428.4h1v1h-1zM126.4 470.6h1v1h-1zM107.5 453.1h1v1h-1zM101.2 434.1h1v1h-1zM114.8 467.1h1v1h-1zM162.4 480.8h1v1h-1zM123.2 484.8h1v1h-1zM160.4 480.5h1v1h-1zM182.0 487.7h1v1h-1zM145.3 478.5h1v1h-1zM103.4 445.6h1v1h-1zM101.3 436.7h1v1h-1zM128.2 478.9h1v1h-1zM151.1 491.5h1v1h-1zM131.8 474.4h1v1h-1zM99.4 434.0h1v1h-1zM110.9 458.2h1v1h-1zM101.2 431.6h1v1h-1zM180.3 486.8h1v1h-1zM162.9 486.2h1v1h-1zM172.5 485.3h1v1h-1zM120.2 476.0h1v1h-1zM107.1 448.9h1v1h-1zM129.2 478.7h1v1h-1zM128.3 479.5h1v1h-1zM101.2 439.0h1v1h-1zM167.3 479.9h1v1h-1zM98.3 426.3h1v1h-1zM152.8 486.2h1v1h-1zM130.5 479.9h1v1h-1zM121.0 467.2h1v1h-1zM161.6 482.2h1v1h-1zM155.4 482.6h1v1h-1zM164.2 477.0h1v1h-1zM172.9 482.7h1v1h-1zM175.4 488.5h1v1h-1zM103.2 437.5h1v1h-1zM95.4 420.3h1v1h-1z" fill="#e42828" fill-opacity="0.75"/>
<path d="M95.1,417.3 L95.86,418.87 L96.62,420.42 L97.37,421.95 L98.13,423.46 L98.89,424.96 L99.65,426.43 L100.41,427.88 L101.16,429.31 L101.92,430.71 L102.68,432.1 L103.44,433.45 L104.2,434.78 L104.95,436.08 L105.71,437.35 L106.47,438.6 L107.23,439.81 L107.99,441 L108.74,442.15 L109.5,443.28 L110.26,444.37 L111.02,445.42 L111.78,446.45 L112.53,447.44 L113.29,448.4 L114.05,449.32 L114.81,450.21 L115.57,451.07 L116.32,451.9 L117.08,452.69 L117.84,453.45 L118.6,454.17 L119.36,454.87 L120.11,455.53 L120.87,456.17 L121.63,456.77 L122.39,457.34 L123.15,457.89 L123.9,458.41 L124.66,458.9 L125.42,459.36 L126.18,459.8 L126.94,460.22 L127.69,460.61 L128.45,460.98 L129.21,461.33 L129.97,461.66 L130.73,461.97 L131.48,462.27 L132.24,462.54 L133,462.8 L133.76,463.04 L134.52,463.27 L135.27,463.48 L136.03,463.68 L136.79,463.87 L137.55,464.04 L138.31,464.21 L139.06,464.36 L139.82,464.5 L140.58,464.64 L141.34,464.76 L142.09,464.88 L142.85,464.99 L143.61,465.09 L144.37,465.19 L145.13,465.27 L145.88,465.36 L146.64,465.43 L147.4,465.51 L148.16,465.57 L148.92,465.64 L149.67,465.69 L150.43,465.75 L151.19,465.8 L151.95,465.85 L152.71,465.89 L153.46,465.93 L154.22,465.97 L154.98,466 L155.74,466.04 L156.5,466.07 L157.25,466.1 L158.01,466.12 L158.77,466.15 L159.53,466.17 L160.29,466.19 L161.04,466.21 L161.8,466.23 L162.56,466.25 L163.32,466.26 L164.08,466.28 L164.83,466.29 L165.59,466.3 L166.35,466.32 L167.11,466.33 L167.87,466.34 L168.62,466.35 L169.38,466.36 L170.14,466.37 L170.9,466.37 L171.66,466.38 L172.41,466.39 L173.17,466.39 L173.93,466.4 L174.69,466.4 L175.45,466.41 L176.2,466.41 L176.96,466.42 L177.72,466.42 L178.48,466.43 L179.24,466.43 L179.99,466.43 L180.75,466.44 L181.51,466.44 L182.27,466.44 L183.03,466.44 L183.78,466.45 L184.54,466.45 L185.3,466.45" stroke="#1f1fd0" stroke-width="1.6" fill="none"/>
<path d="M95.1,417.3 L95.86,419.25 L96.62,421.19 L97.37,423.11 L98.13,425.01 L98.89,426.89 L99.65,428.75 L100.41,430.58 L101.16,432.39 L101.92,434.17 L102.68,435.93 L103.44,437.66 L104.2,439.35 L104.95,441.01 L105.71,442.64 L106.47,444.24 L107.23,445.79 L107.99,447.31 L108.74,448.79 L109.5,450.23 L110.26,451.62 L111.02,452.97 L111.78,454.28 L112.53,455.54 L113.29,456.76 L114.05,457.93 L114.81,459.06 L115.57,460.14 L116.32,461.17 L117.08,462.15 L117.84,463.09 L118.6,463.99 L119.36,464.84 L120.11,465.64 L120.87,466.4 L121.63,467.12 L122.39,467.8 L123.15,468.44 L123.9,469.04 L124.66,469.61 L125.42,470.14 L126.18,470.63 L126.94,471.1 L127.69,471.53 L128.45,471.93 L129.21,472.31 L129.97,472.66 L130.73,472.99 L131.48,473.29 L132.24,473.57 L133,473.83 L133.76,474.07 L134.52,474.29 L135.27,474.5 L136.03,474.69 L136.79,474.87 L137.55,475.03 L138.31,475.18 L139.06,475.32 L139.82,475.45 L140.58,475.57 L141.34,475.68 L142.09,475.78 L142.85,475.87 L143.61,475.96 L144.37,476.03 L145.13,476.11 L145.88,476.17 L146.64,476.23 L147.4,476.29 L148.16,476.34 L148.92,476.39 L149.67,476.43 L150.43,476.47 L151.19,476.51 L151.95,476.54 L152.71,476.57 L153.46,476.6 L154.22,476.63 L154.98,476.65 L155.74,476.67 L156.5,476.7 L157.25,476.71 L158.01,476.73 L158.77,476.75 L159.53,476.76 L160.29,476.77 L161.04,476.79 L161.8,476.8 L162.56,476.81 L163.32,476.82 L164.08,476.83 L164.83,476.83 L165.59,476.84 L166.35,476.85 L167.11,476.85 L167.87,476.86 L168.62,476.86 L169.38,476.87 L170.14,476.87 L170.9,476.88 L171.66,476.88 L172.41,476.88 L173.17,476.89 L173.93,476.89 L174.69,476.89 L175.45,476.9 L176.2,476.9 L176.96,476.9 L177.72,476.9 L178.48,476.9 L179.24,476.9 L179.99,476.91 L180.75,476.91 L181.51,476.91 L182.27,476.91 L183.03,476.91 L183.78,476.91 L184.54,476.91 L185.3,476.91" stroke="#111" stroke-width="1.6" fill="none"/>
<path d="M95.1,417.3 L95.86,419.58 L96.62,421.84 L97.37,424.08 L98.13,426.3 L98.89,428.5 L99.65,430.68 L100.41,432.83 L101.16,434.96 L101.92,437.06 L102.68,439.12 L103.44,441.16 L104.2,443.16 L104.95,445.12 L105.71,447.04 L106.47,448.92 L107.23,450.76 L107.99,452.55 L108.74,454.29 L109.5,455.98 L110.26,457.62 L111.02,459.21 L111.78,460.74 L112.53,462.21 L113.29,463.63 L114.05,464.98 L114.81,466.28 L115.57,467.52 L116.32,468.69 L117.08,469.81 L117.84,470.87 L118.6,471.87 L119.36,472.81 L120.11,473.7 L120.87,474.53 L121.63,475.31 L122.39,476.04 L123.15,476.72 L123.9,477.35 L124.66,477.94 L125.42,478.48 L126.18,478.99 L126.94,479.45 L127.69,479.89 L128.45,480.28 L129.21,480.65 L129.97,480.99 L130.73,481.29 L131.48,481.58 L132.24,481.84 L133,482.08 L133.76,482.29 L134.52,482.49 L135.27,482.68 L136.03,482.84 L136.79,482.99 L137.55,483.13 L138.31,483.26 L139.06,483.37 L139.82,483.48 L140.58,483.57 L141.34,483.66 L142.09,483.74 L142.85,483.81 L143.61,483.88 L144.37,483.94 L145.13,483.99 L145.88,484.04 L146.64,484.09 L147.4,484.13 L148.16,484.16 L148.92,484.2 L149.67,484.23 L150.43,484.25 L151.19,484.28 L151.95,484.3 L152.71,484.32 L153.46,484.34 L154.22,484.36 L154.98,484.37 L155.74,484.39 L156.5,484.4 L157.25,484.41 L158.01,484.42 L158.77,484.43 L159.53,484.44 L160.29,484.45 L161.04,484.45 L161.8,484.46 L162.56,484.47 L163.32,484.47 L164.08,484.48 L164.83,484.48 L165.59,484.49 L166.35,484.49 L167.11,484.49 L167.87,484.5 L168.62,484.5 L169.38,484.5 L170.14,484.5 L170.9,484.5 L171.66,484.51 L172.41,484.51 L173.17,484.51 L173.93,484.51 L174.69,484.51 L175.45,484.51 L176.2,484.51 L176.96,484.52 L177.72,484.52 L178.48,484.52 L179.24,484.52 L179.99,484.52 L180.75,484.52 L181.51,484.52 L182.27,484.52 L183.03,484.52 L183.78,484.52 L184.54,484.52 L185.3,484.52" stroke="#e01818" stroke-width="1.6" fill="none"/>
</g>
<rect x="95.1" y="417.3" width="90.2" height="74.7" fill="none" stroke="#000" stroke-width="1.3" />
<line x1="95.1" y1="492" x2="95.1" y2="489.8" stroke="#000" stroke-width="0.9" />
<line x1="106.38" y1="492" x2="106.38" y2="490.6" stroke="#000" stroke-width="0.9" />
<line x1="117.65" y1="492" x2="117.65" y2="489.8" stroke="#000" stroke-width="0.9" />
<line x1="128.93" y1="492" x2="128.93" y2="490.6" stroke="#000" stroke-width="0.9" />
<line x1="140.2" y1="492" x2="140.2" y2="489.8" stroke="#000" stroke-width="0.9" />
<line x1="151.48" y1="492" x2="151.48" y2="490.6" stroke="#000" stroke-width="0.9" />
<line x1="162.75" y1="492" x2="162.75" y2="489.8" stroke="#000" stroke-width="0.9" />
<line x1="174.03" y1="492" x2="174.03" y2="490.6" stroke="#000" stroke-width="0.9" />
<line x1="185.3" y1="492" x2="185.3" y2="489.8" stroke="#000" stroke-width="0.9" />
<line x1="95.1" y1="417.3" x2="97.5" y2="417.3" stroke="#000" stroke-width="0.9" />
<line x1="95.1" y1="475.1" x2="97.5" y2="475.1" stroke="#000" stroke-width="0.9" />
<line x1="95.1" y1="419.94" x2="96.5" y2="419.94" stroke="#000" stroke-width="0.8" />
<line x1="95.1" y1="422.9" x2="96.5" y2="422.9" stroke="#000" stroke-width="0.8" />
<line x1="95.1" y1="426.25" x2="96.5" y2="426.25" stroke="#000" stroke-width="0.8" />
<line x1="95.1" y1="430.12" x2="96.5" y2="430.12" stroke="#000" stroke-width="0.8" />
<line x1="95.1" y1="434.7" x2="96.5" y2="434.7" stroke="#000" stroke-width="0.8" />
<line x1="95.1" y1="440.3" x2="96.5" y2="440.3" stroke="#000" stroke-width="0.8" />
<line x1="95.1" y1="447.52" x2="96.5" y2="447.52" stroke="#000" stroke-width="0.8" />
<line x1="95.1" y1="457.7" x2="96.5" y2="457.7" stroke="#000" stroke-width="0.8" />
<line x1="95.1" y1="477.74" x2="96.5" y2="477.74" stroke="#000" stroke-width="0.8" />
<line x1="95.1" y1="480.7" x2="96.5" y2="480.7" stroke="#000" stroke-width="0.8" />
<line x1="95.1" y1="484.05" x2="96.5" y2="484.05" stroke="#000" stroke-width="0.8" />
<line x1="95.1" y1="487.92" x2="96.5" y2="487.92" stroke="#000" stroke-width="0.8" />
<text x="92.8" y="421.2" font-size="10" text-anchor="end" fill="#000" >1.0</text>
<text x="92.3" y="478.6" font-size="10" text-anchor="end" fill="#000" >0.1</text>
<text x="95.1" y="503" font-size="10" text-anchor="middle" fill="#000" >0</text>
<text x="117.65" y="503" font-size="10" text-anchor="middle" fill="#000" >1</text>
<text x="140.2" y="503" font-size="10" text-anchor="middle" fill="#000" >2</text>
<text x="162.75" y="503" font-size="10" text-anchor="middle" fill="#000" >3</text>
<text x="185.3" y="503" font-size="10" text-anchor="middle" fill="#000" >4</text>
<text x="140.4" y="512.2" font-size="10.2" text-anchor="middle" fill="#000" >Time (ns)</text>
<text transform="translate(73.9,459.6) rotate(-90)" font-size="10.2" text-anchor="middle">Intensity (a.u.)</text>
<text x="167" y="426.4" font-size="9.2" fill="#dd2a33" textLength="13.61" lengthAdjust="spacingAndGlyphs" >1 V</text>
<text x="166.3" y="439.2" font-size="9.2" fill="#1e1e1e" textLength="14.31" lengthAdjust="spacingAndGlyphs" >0 V</text>
<text x="159.6" y="451.9" font-size="9.2" fill="#28288c" textLength="21" lengthAdjust="spacingAndGlyphs" >−1 V</text>
<text x="189.4" y="469" font-size="10.1" text-anchor="start" fill="#2a2aa0" >460 ps</text>
<text x="189.4" y="480" font-size="10.1" text-anchor="start" fill="#1e1e1e" >390 ps</text>
<text x="189.4" y="491.1" font-size="10.1" text-anchor="start" fill="#e02a2a" >344 ps</text>
<text x="188.5" y="556.5" font-size="14.5" text-anchor="middle"><tspan font-style="italic">V</tspan><tspan font-size="10" dy="4.5">G</tspan><tspan dy="-4.5"> (V)</tspan></text>
<text transform="translate(16.0,435.3) rotate(-90)" font-size="13.8" textLength="57" lengthAdjust="spacing">Δ<tspan font-family="Liberation Serif, serif" font-style="italic">τ</tspan>/<tspan font-family="Liberation Serif, serif" font-style="italic">τ</tspan><tspan font-size="10.5" dy="-5.4">0</tspan><tspan dy="5.4"> (%)</tspan></text>
<clipPath id="cpd"><rect x="390.7" y="397.9" width="283.00000000000006" height="120.0"/></clipPath>
<defs><linearGradient id="g1"><stop offset="0.005" stop-color="#0025eb"/><stop offset="0.835" stop-color="#0027eb"/><stop offset="0.995" stop-color="#0025eb"/></linearGradient><linearGradient id="g2"><stop offset="0.005" stop-color="#0028eb"/><stop offset="0.715" stop-color="#002deb"/><stop offset="0.995" stop-color="#0028eb"/></linearGradient><linearGradient id="g3"><stop offset="0.005" stop-color="#002aeb"/><stop offset="0.645" stop-color="#0034eb"/><stop offset="0.995" stop-color="#002aeb"/></linearGradient><linearGradient id="g4"><stop offset="0.005" stop-color="#002deb"/><stop offset="0.595" stop-color="#003ceb"/><stop offset="0.995" stop-color="#002deb"/></linearGradient><linearGradient id="g5"><stop offset="0.005" stop-color="#002eeb"/><stop offset="0.555" stop-color="#0045eb"/><stop offset="0.995" stop-color="#002eeb"/></linearGradient><linearGradient id="g6"><stop offset="0.005" stop-color="#002feb"/><stop offset="0.535" stop-color="#0049eb"/><stop offset="0.995" stop-color="#002feb"/></linearGradient><linearGradient id="g7"><stop offset="0.005" stop-color="#0030eb"/><stop offset="0.525" stop-color="#004eeb"/><stop offset="0.995" stop-color="#0030eb"/></linearGradient><linearGradient id="g8"><stop offset="0.005" stop-color="#0031eb"/><stop offset="0.515" stop-color="#0054eb"/><stop offset="0.995" stop-color="#0031eb"/></linearGradient><linearGradient id="g9"><stop offset="0.005" stop-color="#0031eb"/><stop offset="0.505" stop-color="#005aeb"/><stop offset="0.995" stop-color="#0032eb"/></linearGradient><linearGradient id="g10"><stop offset="0.005" stop-color="#0032eb"/><stop offset="0.495" stop-color="#0060eb"/><stop offset="0.765" stop-color="#004aeb"/><stop offset="0.995" stop-color="#0033eb"/></linearGradient><linearGradient id="g11"><stop offset="0.005" stop-color="#0033eb"/><stop offset="0.485" stop-color="#0067eb"/><stop offset="0.715" stop-color="#0055eb"/><stop offset="0.995" stop-color="#0034eb"/></linearGradient><linearGradient id="g12"><stop offset="0.005" stop-color="#0035eb"/><stop offset="0.475" stop-color="#006eeb"/><stop offset="0.685" stop-color="#005feb"/><stop offset="0.995" stop-color="#0035eb"/></linearGradient><linearGradient id="g13"><stop offset="0.005" stop-color="#0036eb"/><stop offset="0.465" stop-color="#0076eb"/><stop offset="0.655" stop-color="#006aeb"/><stop offset="0.995" stop-color="#0036eb"/></linearGradient><linearGradient id="g14"><stop offset="0.005" stop-color="#0037eb"/><stop offset="0.465" stop-color="#007feb"/><stop offset="0.645" stop-color="#0074eb"/><stop offset="0.995" stop-color="#0038eb"/></linearGradient><linearGradient id="g15"><stop offset="0.005" stop-color="#0039eb"/><stop offset="0.295" stop-color="#006feb"/><stop offset="0.485" stop-color="#0089eb"/><stop offset="0.655" stop-color="#007aeb"/><stop offset="0.985" stop-color="#003aeb"/><stop offset="0.995" stop-color="#0039eb"/></linearGradient><linearGradient id="g16"><stop offset="0.005" stop-color="#003aeb"/><stop offset="0.265" stop-color="#006feb"/><stop offset="0.465" stop-color="#0093eb"/><stop offset="0.625" stop-color="#0088eb"/><stop offset="0.985" stop-color="#003ceb"/><stop offset="0.995" stop-color="#003beb"/></linearGradient><linearGradient id="g17"><stop offset="0.005" stop-color="#003ceb"/><stop offset="0.245" stop-color="#0070eb"/><stop offset="0.445" stop-color="#009beb"/><stop offset="0.595" stop-color="#0097eb"/><stop offset="0.985" stop-color="#003deb"/><stop offset="0.995" stop-color="#003ceb"/></linearGradient><linearGradient id="g18"><stop offset="0.005" stop-color="#003eeb"/><stop offset="0.225" stop-color="#0071eb"/><stop offset="0.435" stop-color="#00a5eb"/><stop offset="0.575" stop-color="#00a4eb"/><stop offset="0.815" stop-color="#0066eb"/><stop offset="0.995" stop-color="#003eeb"/></linearGradient><linearGradient id="g19"><stop offset="0.005" stop-color="#003feb"/><stop offset="0.215" stop-color="#0074eb"/><stop offset="0.425" stop-color="#00afeb"/><stop offset="0.555" stop-color="#00b2eb"/><stop offset="0.725" stop-color="#0089eb"/><stop offset="0.965" stop-color="#0045eb"/><stop offset="0.995" stop-color="#0040eb"/></linearGradient><linearGradient id="g20"><stop offset="0.005" stop-color="#0041eb"/><stop offset="0.205" stop-color="#0077eb"/><stop offset="0.415" stop-color="#00b9eb"/><stop offset="0.545" stop-color="#00bfeb"/><stop offset="0.695" stop-color="#009beb"/><stop offset="0.955" stop-color="#0049eb"/><stop offset="0.995" stop-color="#0042eb"/></linearGradient><linearGradient id="g21"><stop offset="0.005" stop-color="#0043eb"/><stop offset="0.195" stop-color="#0079eb"/><stop offset="0.415" stop-color="#00c4eb"/><stop offset="0.535" stop-color="#00cce9"/><stop offset="0.675" stop-color="#00aceb"/><stop offset="0.945" stop-color="#004eeb"/><stop offset="0.995" stop-color="#0044eb"/></linearGradient><linearGradient id="g22"><stop offset="0.005" stop-color="#0045eb"/><stop offset="0.185" stop-color="#007beb"/><stop offset="0.405" stop-color="#00cee7"/><stop offset="0.525" stop-color="#05d9de"/><stop offset="0.655" stop-color="#00bdeb"/><stop offset="0.935" stop-color="#0054eb"/><stop offset="0.995" stop-color="#0046eb"/></linearGradient><linearGradient id="g23"><stop offset="0.005" stop-color="#0047eb"/><stop offset="0.175" stop-color="#007deb"/><stop offset="0.375" stop-color="#00d1e5"/><stop offset="0.495" stop-color="#10e7d3"/><stop offset="0.615" stop-color="#01d5e2"/><stop offset="0.695" stop-color="#00b8eb"/><stop offset="0.935" stop-color="#0057eb"/><stop offset="0.995" stop-color="#0048eb"/></linearGradient><linearGradient id="g24"><stop offset="0.005" stop-color="#0049eb"/><stop offset="0.165" stop-color="#007eeb"/><stop offset="0.345" stop-color="#00d0e5"/><stop offset="0.435" stop-color="#14ebcf"/><stop offset="0.555" stop-color="#16ebcd"/><stop offset="0.635" stop-color="#05dade"/><stop offset="0.695" stop-color="#00c1eb"/><stop offset="0.925" stop-color="#005deb"/><stop offset="0.995" stop-color="#004aeb"/></linearGradient><linearGradient id="g25"><stop offset="0.005" stop-color="#004beb"/><stop offset="0.165" stop-color="#0083eb"/><stop offset="0.315" stop-color="#00cde8"/><stop offset="0.395" stop-color="#15ebce"/><stop offset="0.515" stop-color="#24ebbf"/><stop offset="0.625" stop-color="#11e8d2"/><stop offset="0.695" stop-color="#00caea"/><stop offset="0.925" stop-color="#0060eb"/><stop offset="0.995" stop-color="#004ceb"/></linearGradient><linearGradient id="g26"><stop offset="0.005" stop-color="#004deb"/><stop offset="0.155" stop-color="#0083eb"/><stop offset="0.295" stop-color="#00cce8"/><stop offset="0.365" stop-color="#15ebce"/><stop offset="0.485" stop-color="#2debb6"/><stop offset="0.605" stop-color="#1febc4"/><stop offset="0.655" stop-color="#10e7d3"/><stop offset="0.715" stop-color="#00c9eb"/><stop offset="0.925" stop-color="#0063eb"/><stop offset="0.995" stop-color="#004eeb"/></linearGradient><linearGradient id="g27"><stop offset="0.005" stop-color="#004eeb"/><stop offset="0.155" stop-color="#0088eb"/><stop offset="0.285" stop-color="#00cfe6"/><stop offset="0.345" stop-color="#16ebcd"/><stop offset="0.465" stop-color="#35ebae"/><stop offset="0.575" stop-color="#30ebb3"/><stop offset="0.675" stop-color="#10e7d3"/><stop offset="0.725" stop-color="#00cce9"/><stop offset="0.925" stop-color="#0066eb"/><stop offset="0.995" stop-color="#004feb"/></linearGradient><linearGradient id="g28"><stop offset="0.005" stop-color="#0050eb"/><stop offset="0.145" stop-color="#0087eb"/><stop offset="0.265" stop-color="#00cce9"/><stop offset="0.325" stop-color="#15ebce"/><stop offset="0.455" stop-color="#3deba6"/><stop offset="0.565" stop-color="#3aeba9"/><stop offset="0.685" stop-color="#13ead0"/><stop offset="0.735" stop-color="#00cee7"/><stop offset="0.925" stop-color="#0069eb"/><stop offset="0.995" stop-color="#0051eb"/></linearGradient><linearGradient id="g29"><stop offset="0.005" stop-color="#0058eb"/><stop offset="0.135" stop-color="#0086eb"/><stop offset="0.255" stop-color="#00cce8"/><stop offset="0.305" stop-color="#13ebd0"/><stop offset="0.435" stop-color="#42eba1"/><stop offset="0.545" stop-color="#46eb9d"/><stop offset="0.665" stop-color="#22ebc1"/><stop offset="0.705" stop-color="#10e7d3"/><stop offset="0.755" stop-color="#00c9eb"/><stop offset="0.915" stop-color="#0071eb"/><stop offset="0.995" stop-color="#0059eb"/></linearGradient><linearGradient id="g30"><stop offset="0.005" stop-color="#0073eb"/><stop offset="0.115" stop-color="#007feb"/><stop offset="0.245" stop-color="#00cce9"/><stop offset="0.295" stop-color="#14ebcf"/><stop offset="0.425" stop-color="#47eb9c"/><stop offset="0.535" stop-color="#4feb94"/><stop offset="0.655" stop-color="#2debb6"/><stop offset="0.715" stop-color="#11e8d2"/><stop offset="0.755" stop-color="#00cfe7"/><stop offset="0.905" stop-color="#007aeb"/><stop offset="0.995" stop-color="#0073eb"/></linearGradient><linearGradient id="g31"><stop offset="0.005" stop-color="#007aeb"/><stop offset="0.105" stop-color="#007eeb"/><stop offset="0.235" stop-color="#00cbea"/><stop offset="0.285" stop-color="#14ebcf"/><stop offset="0.425" stop-color="#4eeb95"/><stop offset="0.525" stop-color="#57eb8c"/><stop offset="0.635" stop-color="#3ceba7"/><stop offset="0.725" stop-color="#11e8d2"/><stop offset="0.765" stop-color="#00cee7"/><stop offset="0.905" stop-color="#007ceb"/><stop offset="0.995" stop-color="#007aeb"/></linearGradient><linearGradient id="g32"><stop offset="0.005" stop-color="#007aeb"/><stop offset="0.105" stop-color="#007feb"/><stop offset="0.235" stop-color="#00d0e6"/><stop offset="0.275" stop-color="#13ebd0"/><stop offset="0.415" stop-color="#52eb91"/><stop offset="0.515" stop-color="#5feb84"/><stop offset="0.625" stop-color="#45eb9e"/><stop offset="0.735" stop-color="#10e7d3"/><stop offset="0.775" stop-color="#00cce9"/><stop offset="0.905" stop-color="#007deb"/><stop offset="0.995" stop-color="#007aeb"/></linearGradient><linearGradient id="g33"><stop offset="0.005" stop-color="#007aeb"/><stop offset="0.095" stop-color="#007deb"/><stop offset="0.225" stop-color="#00cde8"/><stop offset="0.275" stop-color="#17ebcc"/><stop offset="0.415" stop-color="#57eb8c"/><stop offset="0.515" stop-color="#64eb7f"/><stop offset="0.625" stop-color="#4aeb99"/><stop offset="0.735" stop-color="#14ebcf"/><stop offset="0.775" stop-color="#00cfe6"/><stop offset="0.915" stop-color="#007beb"/><stop offset="0.995" stop-color="#007aeb"/></linearGradient><linearGradient id="g34"><stop offset="0.005" stop-color="#007aeb"/><stop offset="0.095" stop-color="#007eeb"/><stop offset="0.225" stop-color="#00d0e6"/><stop offset="0.265" stop-color="#14ebcf"/><stop offset="0.405" stop-color="#58eb8b"/><stop offset="0.505" stop-color="#69eb7a"/><stop offset="0.605" stop-color="#56eb8d"/><stop offset="0.745" stop-color="#11e8d2"/><stop offset="0.785" stop-color="#00cce9"/><stop offset="0.915" stop-color="#007ceb"/><stop offset="0.995" stop-color="#007aeb"/></linearGradient><linearGradient id="g35"><stop offset="0.005" stop-color="#007aeb"/><stop offset="0.095" stop-color="#0080eb"/><stop offset="0.215" stop-color="#00cde8"/><stop offset="0.255" stop-color="#13ead0"/><stop offset="0.405" stop-color="#5feb84"/><stop offset="0.505" stop-color="#70eb73"/><stop offset="0.605" stop-color="#5deb87"/><stop offset="0.755" stop-color="#0fe6d4"/><stop offset="0.795" stop-color="#00c9eb"/><stop offset="0.915" stop-color="#007eeb"/><stop offset="0.995" stop-color="#007aeb"/></linearGradient><linearGradient id="g36"><stop offset="0.005" stop-color="#0085eb"/><stop offset="0.095" stop-color="#008feb"/><stop offset="0.185" stop-color="#00caeb"/><stop offset="0.225" stop-color="#12ead1"/><stop offset="0.395" stop-color="#82eb61"/><stop offset="0.485" stop-color="#9eeb45"/><stop offset="0.565" stop-color="#94eb4f"/><stop offset="0.675" stop-color="#5aeb89"/><stop offset="0.775" stop-color="#15ebce"/><stop offset="0.815" stop-color="#00cde8"/><stop offset="0.915" stop-color="#008deb"/><stop offset="0.995" stop-color="#0085eb"/></linearGradient><linearGradient id="g37"><stop offset="0.005" stop-color="#00b1eb"/><stop offset="0.095" stop-color="#00caea"/><stop offset="0.135" stop-color="#0de3d6"/><stop offset="0.165" stop-color="#20ebc3"/><stop offset="0.255" stop-color="#74eb6f"/><stop offset="0.335" stop-color="#d7eb0c"/><stop offset="0.345" stop-color="#e3e200"/><stop offset="0.365" stop-color="#ebc600"/><stop offset="0.435" stop-color="#eb7800"/><stop offset="0.485" stop-color="#eb5d00"/><stop offset="0.535" stop-color="#eb6300"/><stop offset="0.595" stop-color="#eb9000"/><stop offset="0.655" stop-color="#e8dc00"/><stop offset="0.665" stop-color="#dcea07"/><stop offset="0.785" stop-color="#4eeb95"/><stop offset="0.865" stop-color="#0fe6d4"/><stop offset="0.905" stop-color="#00cce9"/><stop offset="0.995" stop-color="#00b2eb"/></linearGradient><linearGradient id="g38"><stop offset="0.005" stop-color="#00bceb"/><stop offset="0.075" stop-color="#00d0e6"/><stop offset="0.135" stop-color="#1aebc9"/><stop offset="0.215" stop-color="#5eeb85"/><stop offset="0.305" stop-color="#d4eb0f"/><stop offset="0.315" stop-color="#e3e200"/><stop offset="0.335" stop-color="#ebc100"/><stop offset="0.415" stop-color="#eb4900"/><stop offset="0.465" stop-color="#eb1c00"/><stop offset="0.515" stop-color="#eb1300"/><stop offset="0.565" stop-color="#eb3000"/><stop offset="0.625" stop-color="#eb7a00"/><stop offset="0.685" stop-color="#e8dc00"/><stop offset="0.695" stop-color="#daeb09"/><stop offset="0.785" stop-color="#63eb80"/><stop offset="0.865" stop-color="#1debc6"/><stop offset="0.905" stop-color="#07dcdc"/><stop offset="0.965" stop-color="#00c3eb"/><stop offset="0.995" stop-color="#00bceb"/></linearGradient><linearGradient id="g39"><stop offset="0.005" stop-color="#00bbeb"/><stop offset="0.075" stop-color="#00d0e5"/><stop offset="0.135" stop-color="#1bebc8"/><stop offset="0.215" stop-color="#62eb81"/><stop offset="0.305" stop-color="#dceb07"/><stop offset="0.315" stop-color="#ebd900"/><stop offset="0.405" stop-color="#eb4700"/><stop offset="0.455" stop-color="#eb1300"/><stop offset="0.495" stop-color="#d70200"/><stop offset="0.535" stop-color="#e20a00"/><stop offset="0.565" stop-color="#eb2000"/><stop offset="0.625" stop-color="#eb6d00"/><stop offset="0.685" stop-color="#ebd200"/><stop offset="0.695" stop-color="#e2e401"/><stop offset="0.725" stop-color="#b5eb2e"/><stop offset="0.805" stop-color="#51eb92"/><stop offset="0.885" stop-color="#12e9d1"/><stop offset="0.935" stop-color="#00cee7"/><stop offset="0.995" stop-color="#00bceb"/></linearGradient><linearGradient id="g40"><stop offset="0.005" stop-color="#00bbeb"/><stop offset="0.075" stop-color="#00d0e5"/><stop offset="0.135" stop-color="#1cebc7"/><stop offset="0.215" stop-color="#63eb80"/><stop offset="0.305" stop-color="#dfe704"/><stop offset="0.315" stop-color="#ebd500"/><stop offset="0.405" stop-color="#eb4100"/><stop offset="0.445" stop-color="#eb1400"/><stop offset="0.485" stop-color="#d10000"/><stop offset="0.525" stop-color="#d40000"/><stop offset="0.565" stop-color="#eb1a00"/><stop offset="0.625" stop-color="#eb6800"/><stop offset="0.695" stop-color="#e5e000"/><stop offset="0.705" stop-color="#d6eb0d"/><stop offset="0.795" stop-color="#5deb86"/><stop offset="0.875" stop-color="#18ebcb"/><stop offset="0.935" stop-color="#00cee7"/><stop offset="0.995" stop-color="#00bceb"/></linearGradient><linearGradient id="g41"><stop offset="0.005" stop-color="#00bbeb"/><stop offset="0.075" stop-color="#00d0e6"/><stop offset="0.135" stop-color="#1bebc8"/><stop offset="0.215" stop-color="#61eb83"/><stop offset="0.305" stop-color="#d9eb0a"/><stop offset="0.315" stop-color="#e8dc00"/><stop offset="0.405" stop-color="#eb4c00"/><stop offset="0.455" stop-color="#eb1800"/><stop offset="0.505" stop-color="#dd0700"/><stop offset="0.555" stop-color="#eb1c00"/><stop offset="0.605" stop-color="#eb5400"/><stop offset="0.685" stop-color="#ebd500"/><stop offset="0.695" stop-color="#dfe704"/><stop offset="0.785" stop-color="#65eb7e"/><stop offset="0.865" stop-color="#1debc6"/><stop offset="0.895" stop-color="#0ce2d7"/><stop offset="0.945" stop-color="#00c9eb"/><stop offset="0.995" stop-color="#00bceb"/></linearGradient><linearGradient id="g42"><stop offset="0.005" stop-color="#0097eb"/><stop offset="0.105" stop-color="#00b7eb"/><stop offset="0.145" stop-color="#00cfe6"/><stop offset="0.185" stop-color="#18ebcb"/><stop offset="0.275" stop-color="#71eb72"/><stop offset="0.365" stop-color="#dee805"/><stop offset="0.385" stop-color="#ebce00"/><stop offset="0.445" stop-color="#eb9300"/><stop offset="0.495" stop-color="#eb7f00"/><stop offset="0.545" stop-color="#eb8a00"/><stop offset="0.605" stop-color="#ebbe00"/><stop offset="0.625" stop-color="#ebd600"/><stop offset="0.635" stop-color="#e2e301"/><stop offset="0.655" stop-color="#cbeb18"/><stop offset="0.785" stop-color="#35ebae"/><stop offset="0.825" stop-color="#13ebd0"/><stop offset="0.865" stop-color="#00cbea"/><stop offset="0.955" stop-color="#00a1eb"/><stop offset="0.995" stop-color="#0098eb"/></linearGradient><linearGradient id="g43"><stop offset="0.005" stop-color="#0007eb"/><stop offset="0.185" stop-color="#0028eb"/><stop offset="0.445" stop-color="#0080eb"/><stop offset="0.555" stop-color="#0081eb"/><stop offset="0.725" stop-color="#0048eb"/><stop offset="0.905" stop-color="#0014eb"/><stop offset="0.995" stop-color="#0007eb"/></linearGradient><linearGradient id="g44"><stop offset="0.005" stop-color="#0000d6"/><stop offset="0.295" stop-color="#0000eb"/><stop offset="0.825" stop-color="#0000e5"/><stop offset="0.995" stop-color="#0000d6"/></linearGradient><linearGradient id="g45"><stop offset="0.005" stop-color="#0000d2"/><stop offset="0.515" stop-color="#0000eb"/><stop offset="0.995" stop-color="#0000d2"/></linearGradient><linearGradient id="g46"><stop offset="0.005" stop-color="#0000cf"/><stop offset="0.585" stop-color="#0000e0"/><stop offset="0.995" stop-color="#0000d0"/></linearGradient><linearGradient id="g47"><stop offset="0.005" stop-color="#0000ce"/><stop offset="0.655" stop-color="#0000d7"/><stop offset="0.995" stop-color="#0000ce"/></linearGradient><linearGradient id="g48"><stop offset="0.005" stop-color="#0000cd"/><stop offset="0.755" stop-color="#0000d1"/><stop offset="0.995" stop-color="#0000cd"/></linearGradient></defs>
<g shape-rendering="crispEdges"><rect x="411" y="291" width="100" height="5" fill="#0013eb"/><rect x="411" y="296" width="100" height="4" fill="#0018eb"/><rect x="411" y="300" width="100" height="4" fill="#001ceb"/><rect x="411" y="304" width="100" height="3" fill="#0021eb"/><rect x="411" y="307" width="100" height="2" fill="#0025eb"/><rect x="411" y="309" width="100" height="2" fill="url(#g1)"/><rect x="411" y="311" width="100" height="2" fill="url(#g2)"/><rect x="411" y="313" width="100" height="2" fill="url(#g3)"/><rect x="411" y="315" width="100" height="2" fill="url(#g4)"/><rect x="411" y="317" width="100" height="1" fill="url(#g5)"/><rect x="411" y="318" width="100" height="1" fill="url(#g6)"/><rect x="411" y="319" width="100" height="1" fill="url(#g7)"/><rect x="411" y="320" width="100" height="1" fill="url(#g8)"/><rect x="411" y="321" width="100" height="1" fill="url(#g9)"/><rect x="411" y="322" width="100" height="1" fill="url(#g10)"/><rect x="411" y="323" width="100" height="1" fill="url(#g11)"/><rect x="411" y="324" width="100" height="1" fill="url(#g12)"/><rect x="411" y="325" width="100" height="1" fill="url(#g13)"/><rect x="411" y="326" width="100" height="1" fill="url(#g14)"/><rect x="411" y="327" width="100" height="1" fill="url(#g15)"/><rect x="411" y="328" width="100" height="1" fill="url(#g16)"/><rect x="411" y="329" width="100" height="1" fill="url(#g17)"/><rect x="411" y="330" width="100" height="1" fill="url(#g18)"/><rect x="411" y="331" width="100" height="1" fill="url(#g19)"/><rect x="411" y="332" width="100" height="1" fill="url(#g20)"/><rect x="411" y="333" width="100" height="1" fill="url(#g21)"/><rect x="411" y="334" width="100" height="1" fill="url(#g22)"/><rect x="411" y="335" width="100" height="1" fill="url(#g23)"/><rect x="411" y="336" width="100" height="1" fill="url(#g24)"/><rect x="411" y="337" width="100" height="1" fill="url(#g25)"/><rect x="411" y="338" width="100" height="1" fill="url(#g26)"/><rect x="411" y="339" width="100" height="1" fill="url(#g27)"/><rect x="411" y="340" width="100" height="1" fill="url(#g28)"/><rect x="411" y="341" width="100" height="1" fill="url(#g29)"/><rect x="411" y="342" width="100" height="1" fill="url(#g30)"/><rect x="411" y="343" width="100" height="1" fill="url(#g31)"/><rect x="411" y="344" width="100" height="1" fill="url(#g32)"/><rect x="411" y="345" width="100" height="1" fill="url(#g33)"/><rect x="411" y="346" width="100" height="2" fill="url(#g34)"/><rect x="411" y="348" width="100" height="1" fill="url(#g35)"/><rect x="411" y="349" width="100" height="1" fill="url(#g36)"/><rect x="411" y="350" width="100" height="1" fill="url(#g37)"/><rect x="411" y="351" width="100" height="1" fill="url(#g38)"/><rect x="411" y="352" width="100" height="1" fill="url(#g39)"/><rect x="411" y="353" width="100" height="6" fill="url(#g40)"/><rect x="411" y="359" width="100" height="1" fill="url(#g41)"/><rect x="411" y="360" width="100" height="1" fill="url(#g42)"/><rect x="411" y="361" width="100" height="1" fill="url(#g43)"/><rect x="411" y="362" width="100" height="1" fill="url(#g44)"/><rect x="411" y="363" width="100" height="1" fill="url(#g45)"/><rect x="411" y="364" width="100" height="1" fill="url(#g46)"/><rect x="411" y="365" width="100" height="1" fill="url(#g47)"/><rect x="411" y="366" width="100" height="2" fill="url(#g48)"/><rect x="411" y="368" width="100" height="6" fill="#0000ce"/><rect x="411" y="374" width="100" height="17" fill="#0000cb"/></g>
<rect x="410.5" y="290.5" width="101" height="101" fill="none" stroke="#262626" stroke-width="2.0" />
<defs><linearGradient id="g49"><stop offset="0.005" stop-color="#0020eb"/><stop offset="0.985" stop-color="#0021eb"/><stop offset="0.995" stop-color="#0021eb"/></linearGradient><linearGradient id="g50"><stop offset="0.005" stop-color="#0023eb"/><stop offset="0.795" stop-color="#0027eb"/><stop offset="0.995" stop-color="#0023eb"/></linearGradient><linearGradient id="g51"><stop offset="0.005" stop-color="#0026eb"/><stop offset="0.695" stop-color="#002eeb"/><stop offset="0.995" stop-color="#0026eb"/></linearGradient><linearGradient id="g52"><stop offset="0.005" stop-color="#002aeb"/><stop offset="0.625" stop-color="#0036eb"/><stop offset="0.995" stop-color="#002aeb"/></linearGradient><linearGradient id="g53"><stop offset="0.005" stop-color="#002beb"/><stop offset="0.595" stop-color="#003aeb"/><stop offset="0.995" stop-color="#002beb"/></linearGradient><linearGradient id="g54"><stop offset="0.005" stop-color="#002deb"/><stop offset="0.575" stop-color="#003feb"/><stop offset="0.995" stop-color="#002deb"/></linearGradient><linearGradient id="g55"><stop offset="0.005" stop-color="#002feb"/><stop offset="0.555" stop-color="#0044eb"/><stop offset="0.995" stop-color="#0030eb"/></linearGradient><linearGradient id="g56"><stop offset="0.005" stop-color="#0032eb"/><stop offset="0.535" stop-color="#004aeb"/><stop offset="0.995" stop-color="#0032eb"/></linearGradient><linearGradient id="g57"><stop offset="0.005" stop-color="#0034eb"/><stop offset="0.515" stop-color="#0050eb"/><stop offset="0.995" stop-color="#0034eb"/></linearGradient><linearGradient id="g58"><stop offset="0.005" stop-color="#0036eb"/><stop offset="0.505" stop-color="#0056eb"/><stop offset="0.995" stop-color="#0037eb"/></linearGradient><linearGradient id="g59"><stop offset="0.005" stop-color="#0039eb"/><stop offset="0.485" stop-color="#005deb"/><stop offset="0.825" stop-color="#0048eb"/><stop offset="0.995" stop-color="#0039eb"/></linearGradient><linearGradient id="g60"><stop offset="0.005" stop-color="#003beb"/><stop offset="0.475" stop-color="#0064eb"/><stop offset="0.765" stop-color="#0053eb"/><stop offset="0.995" stop-color="#003beb"/></linearGradient><linearGradient id="g61"><stop offset="0.005" stop-color="#003deb"/><stop offset="0.465" stop-color="#006beb"/><stop offset="0.725" stop-color="#005deb"/><stop offset="0.995" stop-color="#003deb"/></linearGradient><linearGradient id="g62"><stop offset="0.005" stop-color="#003feb"/><stop offset="0.455" stop-color="#0073eb"/><stop offset="0.695" stop-color="#0067eb"/><stop offset="0.995" stop-color="#003feb"/></linearGradient><linearGradient id="g63"><stop offset="0.005" stop-color="#0042eb"/><stop offset="0.445" stop-color="#007beb"/><stop offset="0.665" stop-color="#0072eb"/><stop offset="0.995" stop-color="#0042eb"/></linearGradient><linearGradient id="g64"><stop offset="0.005" stop-color="#0044eb"/><stop offset="0.435" stop-color="#0084eb"/><stop offset="0.645" stop-color="#007deb"/><stop offset="0.995" stop-color="#0045eb"/></linearGradient><linearGradient id="g65"><stop offset="0.005" stop-color="#0047eb"/><stop offset="0.425" stop-color="#008eeb"/><stop offset="0.615" stop-color="#008aeb"/><stop offset="0.995" stop-color="#0048eb"/></linearGradient><linearGradient id="g66"><stop offset="0.005" stop-color="#004aeb"/><stop offset="0.415" stop-color="#0097eb"/><stop offset="0.595" stop-color="#0097eb"/><stop offset="0.995" stop-color="#004beb"/></linearGradient><linearGradient id="g67"><stop offset="0.005" stop-color="#004eeb"/><stop offset="0.415" stop-color="#00a3eb"/><stop offset="0.585" stop-color="#00a3eb"/><stop offset="0.855" stop-color="#006ceb"/><stop offset="0.995" stop-color="#004eeb"/></linearGradient><linearGradient id="g68"><stop offset="0.005" stop-color="#0051eb"/><stop offset="0.405" stop-color="#00aeeb"/><stop offset="0.565" stop-color="#00b1eb"/><stop offset="0.775" stop-color="#0088eb"/><stop offset="0.995" stop-color="#0052eb"/></linearGradient><linearGradient id="g69"><stop offset="0.005" stop-color="#0055eb"/><stop offset="0.395" stop-color="#00b9eb"/><stop offset="0.555" stop-color="#00bfeb"/><stop offset="0.745" stop-color="#009aeb"/><stop offset="0.995" stop-color="#0056eb"/></linearGradient><linearGradient id="g70"><stop offset="0.005" stop-color="#0059eb"/><stop offset="0.395" stop-color="#00c6eb"/><stop offset="0.545" stop-color="#00cee7"/><stop offset="0.715" stop-color="#00adeb"/><stop offset="0.995" stop-color="#005aeb"/></linearGradient><linearGradient id="g71"><stop offset="0.005" stop-color="#005deb"/><stop offset="0.375" stop-color="#00d0e6"/><stop offset="0.525" stop-color="#08dddb"/><stop offset="0.685" stop-color="#00c1eb"/><stop offset="0.995" stop-color="#005eeb"/></linearGradient><linearGradient id="g72"><stop offset="0.005" stop-color="#0061eb"/><stop offset="0.325" stop-color="#00d0e6"/><stop offset="0.465" stop-color="#14ebcf"/><stop offset="0.605" stop-color="#0ce3d7"/><stop offset="0.715" stop-color="#00c4eb"/><stop offset="0.995" stop-color="#0063eb"/></linearGradient><linearGradient id="g73"><stop offset="0.005" stop-color="#0066eb"/><stop offset="0.285" stop-color="#00cfe6"/><stop offset="0.385" stop-color="#16ebcd"/><stop offset="0.535" stop-color="#20ebc3"/><stop offset="0.655" stop-color="#0ee5d5"/><stop offset="0.735" stop-color="#00c9eb"/><stop offset="0.995" stop-color="#0067eb"/></linearGradient><linearGradient id="g74"><stop offset="0.005" stop-color="#006aeb"/><stop offset="0.255" stop-color="#00cfe6"/><stop offset="0.335" stop-color="#16ebcd"/><stop offset="0.485" stop-color="#2eebb5"/><stop offset="0.635" stop-color="#1eebc5"/><stop offset="0.695" stop-color="#0ee5d5"/><stop offset="0.765" stop-color="#00c8eb"/><stop offset="0.995" stop-color="#006ceb"/></linearGradient><linearGradient id="g75"><stop offset="0.005" stop-color="#006feb"/><stop offset="0.225" stop-color="#00cde8"/><stop offset="0.305" stop-color="#18ebcb"/><stop offset="0.455" stop-color="#39ebaa"/><stop offset="0.595" stop-color="#33ebb0"/><stop offset="0.725" stop-color="#0fe6d4"/><stop offset="0.785" stop-color="#00caea"/><stop offset="0.995" stop-color="#0070eb"/></linearGradient><linearGradient id="g76"><stop offset="0.005" stop-color="#0073eb"/><stop offset="0.205" stop-color="#00cee7"/><stop offset="0.275" stop-color="#18ebcb"/><stop offset="0.435" stop-color="#44eb9f"/><stop offset="0.565" stop-color="#44eb9f"/><stop offset="0.725" stop-color="#19ebca"/><stop offset="0.775" stop-color="#06dadd"/><stop offset="0.825" stop-color="#00c1eb"/><stop offset="0.995" stop-color="#0075eb"/></linearGradient><linearGradient id="g77"><stop offset="0.005" stop-color="#0078eb"/><stop offset="0.185" stop-color="#00cee7"/><stop offset="0.245" stop-color="#16ebce"/><stop offset="0.415" stop-color="#4deb96"/><stop offset="0.545" stop-color="#53eb90"/><stop offset="0.685" stop-color="#32ebb1"/><stop offset="0.775" stop-color="#0fe5d4"/><stop offset="0.825" stop-color="#00cbea"/><stop offset="0.995" stop-color="#007aeb"/></linearGradient><linearGradient id="g78"><stop offset="0.005" stop-color="#007deb"/><stop offset="0.165" stop-color="#00cce8"/><stop offset="0.225" stop-color="#16ebcd"/><stop offset="0.395" stop-color="#55eb8e"/><stop offset="0.525" stop-color="#62eb81"/><stop offset="0.655" stop-color="#48eb9b"/><stop offset="0.795" stop-color="#0fe5d4"/><stop offset="0.845" stop-color="#00c9eb"/><stop offset="0.995" stop-color="#007eeb"/></linearGradient><linearGradient id="g79"><stop offset="0.005" stop-color="#0081eb"/><stop offset="0.155" stop-color="#00cfe6"/><stop offset="0.205" stop-color="#15ebce"/><stop offset="0.385" stop-color="#5feb84"/><stop offset="0.505" stop-color="#70eb73"/><stop offset="0.635" stop-color="#5aeb89"/><stop offset="0.805" stop-color="#12ead1"/><stop offset="0.855" stop-color="#00cce9"/><stop offset="0.995" stop-color="#0083eb"/></linearGradient><linearGradient id="g80"><stop offset="0.005" stop-color="#0086eb"/><stop offset="0.135" stop-color="#00cce9"/><stop offset="0.185" stop-color="#13ebd0"/><stop offset="0.375" stop-color="#68eb7b"/><stop offset="0.495" stop-color="#7deb67"/><stop offset="0.615" stop-color="#6ceb77"/><stop offset="0.785" stop-color="#24ebbf"/><stop offset="0.825" stop-color="#10e7d3"/><stop offset="0.865" stop-color="#00cee7"/><stop offset="0.995" stop-color="#0088eb"/></linearGradient><linearGradient id="g81"><stop offset="0.005" stop-color="#008aeb"/><stop offset="0.125" stop-color="#00cde8"/><stop offset="0.175" stop-color="#15ebce"/><stop offset="0.365" stop-color="#70eb73"/><stop offset="0.485" stop-color="#89eb5a"/><stop offset="0.605" stop-color="#7aeb69"/><stop offset="0.765" stop-color="#37ebac"/><stop offset="0.835" stop-color="#12e9d1"/><stop offset="0.875" stop-color="#00cfe6"/><stop offset="0.995" stop-color="#008ceb"/></linearGradient><linearGradient id="g82"><stop offset="0.005" stop-color="#008eeb"/><stop offset="0.115" stop-color="#00cde8"/><stop offset="0.165" stop-color="#16ebcd"/><stop offset="0.365" stop-color="#7beb68"/><stop offset="0.485" stop-color="#94eb4f"/><stop offset="0.595" stop-color="#88eb5b"/><stop offset="0.735" stop-color="#4feb94"/><stop offset="0.845" stop-color="#13ebd0"/><stop offset="0.895" stop-color="#00caeb"/><stop offset="0.995" stop-color="#0090eb"/></linearGradient><linearGradient id="g83"><stop offset="0.005" stop-color="#0092eb"/><stop offset="0.105" stop-color="#00cde8"/><stop offset="0.155" stop-color="#17ebcc"/><stop offset="0.355" stop-color="#81eb62"/><stop offset="0.475" stop-color="#9feb44"/><stop offset="0.585" stop-color="#96eb4d"/><stop offset="0.725" stop-color="#5deb86"/><stop offset="0.855" stop-color="#14ebcf"/><stop offset="0.895" stop-color="#00d0e6"/><stop offset="0.995" stop-color="#0094eb"/></linearGradient><linearGradient id="g84"><stop offset="0.005" stop-color="#0096eb"/><stop offset="0.095" stop-color="#00cce9"/><stop offset="0.145" stop-color="#17ebcc"/><stop offset="0.355" stop-color="#8aeb59"/><stop offset="0.465" stop-color="#a9eb3a"/><stop offset="0.575" stop-color="#a2eb41"/><stop offset="0.705" stop-color="#70eb73"/><stop offset="0.865" stop-color="#13ebd0"/><stop offset="0.905" stop-color="#00cfe6"/><stop offset="0.995" stop-color="#0098eb"/></linearGradient><linearGradient id="g85"><stop offset="0.005" stop-color="#0099eb"/><stop offset="0.095" stop-color="#00d1e5"/><stop offset="0.135" stop-color="#16ebcd"/><stop offset="0.345" stop-color="#8feb54"/><stop offset="0.455" stop-color="#b1eb32"/><stop offset="0.565" stop-color="#aeeb35"/><stop offset="0.685" stop-color="#82eb61"/><stop offset="0.875" stop-color="#12ead1"/><stop offset="0.915" stop-color="#00cde8"/><stop offset="0.995" stop-color="#009ceb"/></linearGradient><linearGradient id="g86"><stop offset="0.005" stop-color="#009deb"/><stop offset="0.085" stop-color="#00cfe7"/><stop offset="0.125" stop-color="#14ebcf"/><stop offset="0.345" stop-color="#97eb4d"/><stop offset="0.455" stop-color="#baeb29"/><stop offset="0.555" stop-color="#b9eb2a"/><stop offset="0.675" stop-color="#8feb54"/><stop offset="0.885" stop-color="#10e8d3"/><stop offset="0.925" stop-color="#00cbea"/><stop offset="0.995" stop-color="#009feb"/></linearGradient><linearGradient id="g87"><stop offset="0.005" stop-color="#009feb"/><stop offset="0.075" stop-color="#00cce9"/><stop offset="0.125" stop-color="#18ebcb"/><stop offset="0.345" stop-color="#9deb46"/><stop offset="0.455" stop-color="#c1eb22"/><stop offset="0.555" stop-color="#c0eb23"/><stop offset="0.675" stop-color="#96eb4e"/><stop offset="0.885" stop-color="#14ebcf"/><stop offset="0.925" stop-color="#00cee7"/><stop offset="0.995" stop-color="#00a2eb"/></linearGradient><linearGradient id="g88"><stop offset="0.005" stop-color="#00a2eb"/><stop offset="0.075" stop-color="#00cfe7"/><stop offset="0.115" stop-color="#15ebce"/><stop offset="0.345" stop-color="#a3eb40"/><stop offset="0.455" stop-color="#c8eb1b"/><stop offset="0.555" stop-color="#c7eb1c"/><stop offset="0.665" stop-color="#a0eb43"/><stop offset="0.895" stop-color="#11e8d2"/><stop offset="0.935" stop-color="#00caea"/><stop offset="0.995" stop-color="#00a4eb"/></linearGradient><linearGradient id="g89"><stop offset="0.005" stop-color="#00a4eb"/><stop offset="0.075" stop-color="#00d2e4"/><stop offset="0.115" stop-color="#17ebcc"/><stop offset="0.345" stop-color="#a8eb3b"/><stop offset="0.455" stop-color="#ceeb15"/><stop offset="0.555" stop-color="#cdeb16"/><stop offset="0.665" stop-color="#a5eb3e"/><stop offset="0.895" stop-color="#14ebcf"/><stop offset="0.935" stop-color="#00cde8"/><stop offset="0.995" stop-color="#00a6eb"/></linearGradient><linearGradient id="g90"><stop offset="0.005" stop-color="#00a5eb"/><stop offset="0.065" stop-color="#00cce9"/><stop offset="0.105" stop-color="#13ebd0"/><stop offset="0.345" stop-color="#aceb37"/><stop offset="0.455" stop-color="#d2eb11"/><stop offset="0.555" stop-color="#d1eb12"/><stop offset="0.665" stop-color="#a9eb3a"/><stop offset="0.905" stop-color="#0fe6d4"/><stop offset="0.945" stop-color="#00c8eb"/><stop offset="0.995" stop-color="#00a8eb"/></linearGradient><linearGradient id="g91"><stop offset="0.005" stop-color="#00aeeb"/><stop offset="0.065" stop-color="#00d3e3"/><stop offset="0.105" stop-color="#18ebcb"/><stop offset="0.375" stop-color="#d7eb0c"/><stop offset="0.415" stop-color="#eada00"/><stop offset="0.495" stop-color="#ebc600"/><stop offset="0.575" stop-color="#ebd500"/><stop offset="0.615" stop-color="#dee805"/><stop offset="0.755" stop-color="#81eb62"/><stop offset="0.905" stop-color="#14ebcf"/><stop offset="0.945" stop-color="#00cfe7"/><stop offset="0.995" stop-color="#00b0eb"/></linearGradient><linearGradient id="g92"><stop offset="0.005" stop-color="#00c8eb"/><stop offset="0.055" stop-color="#0adfd9"/><stop offset="0.085" stop-color="#19ebca"/><stop offset="0.185" stop-color="#66eb7d"/><stop offset="0.285" stop-color="#d5eb0e"/><stop offset="0.305" stop-color="#ebd700"/><stop offset="0.395" stop-color="#eb6700"/><stop offset="0.455" stop-color="#eb3900"/><stop offset="0.515" stop-color="#eb2e00"/><stop offset="0.575" stop-color="#eb4900"/><stop offset="0.645" stop-color="#eb9000"/><stop offset="0.705" stop-color="#e6df00"/><stop offset="0.715" stop-color="#daeb09"/><stop offset="0.835" stop-color="#57eb8c"/><stop offset="0.935" stop-color="#10e8d3"/><stop offset="0.985" stop-color="#00cde8"/><stop offset="0.995" stop-color="#00caeb"/></linearGradient><linearGradient id="g93"><stop offset="0.005" stop-color="#00cfe7"/><stop offset="0.075" stop-color="#18ebcb"/><stop offset="0.165" stop-color="#5ceb87"/><stop offset="0.265" stop-color="#d2eb11"/><stop offset="0.275" stop-color="#e0e503"/><stop offset="0.285" stop-color="#ebd600"/><stop offset="0.385" stop-color="#eb4100"/><stop offset="0.435" stop-color="#e40c00"/><stop offset="0.465" stop-color="#cd0000"/><stop offset="0.515" stop-color="#c40000"/><stop offset="0.555" stop-color="#d80200"/><stop offset="0.575" stop-color="#eb1100"/><stop offset="0.645" stop-color="#eb6400"/><stop offset="0.725" stop-color="#e5df00"/><stop offset="0.735" stop-color="#d8eb0b"/><stop offset="0.835" stop-color="#60eb83"/><stop offset="0.925" stop-color="#1bebc8"/><stop offset="0.995" stop-color="#00d0e5"/></linearGradient><linearGradient id="g94"><stop offset="0.005" stop-color="#00cfe6"/><stop offset="0.075" stop-color="#1aebca"/><stop offset="0.165" stop-color="#5feb84"/><stop offset="0.255" stop-color="#cceb17"/><stop offset="0.265" stop-color="#daeb09"/><stop offset="0.275" stop-color="#e8dd00"/><stop offset="0.385" stop-color="#eb3200"/><stop offset="0.415" stop-color="#e70f00"/><stop offset="0.435" stop-color="#d00000"/><stop offset="0.485" stop-color="#af0000"/><stop offset="0.535" stop-color="#b60000"/><stop offset="0.575" stop-color="#d70100"/><stop offset="0.595" stop-color="#eb1500"/><stop offset="0.675" stop-color="#eb8500"/><stop offset="0.725" stop-color="#ebd600"/><stop offset="0.735" stop-color="#dfe604"/><stop offset="0.835" stop-color="#63eb80"/><stop offset="0.925" stop-color="#1cebc7"/><stop offset="0.965" stop-color="#08dddb"/><stop offset="0.995" stop-color="#00d1e5"/></linearGradient><linearGradient id="g95"><stop offset="0.005" stop-color="#00cfe6"/><stop offset="0.075" stop-color="#1aebc9"/><stop offset="0.155" stop-color="#57eb8c"/><stop offset="0.245" stop-color="#c1eb22"/><stop offset="0.265" stop-color="#dde906"/><stop offset="0.275" stop-color="#ebd900"/><stop offset="0.385" stop-color="#eb2c00"/><stop offset="0.405" stop-color="#eb1300"/><stop offset="0.425" stop-color="#d30000"/><stop offset="0.475" stop-color="#aa0000"/><stop offset="0.525" stop-color="#a80000"/><stop offset="0.575" stop-color="#ce0000"/><stop offset="0.595" stop-color="#e70f00"/><stop offset="0.675" stop-color="#eb8000"/><stop offset="0.725" stop-color="#ebd200"/><stop offset="0.735" stop-color="#e2e301"/><stop offset="0.755" stop-color="#c6eb1d"/><stop offset="0.845" stop-color="#5beb88"/><stop offset="0.935" stop-color="#17ebcc"/><stop offset="0.995" stop-color="#00d1e5"/></linearGradient><linearGradient id="g96"><stop offset="0.005" stop-color="#00cee7"/><stop offset="0.065" stop-color="#13ebd0"/><stop offset="0.155" stop-color="#54eb8f"/><stop offset="0.245" stop-color="#bceb27"/><stop offset="0.265" stop-color="#d7eb0c"/><stop offset="0.275" stop-color="#e5e000"/><stop offset="0.365" stop-color="#eb5200"/><stop offset="0.415" stop-color="#eb1400"/><stop offset="0.435" stop-color="#d70100"/><stop offset="0.485" stop-color="#b60000"/><stop offset="0.535" stop-color="#bc0000"/><stop offset="0.575" stop-color="#dd0600"/><stop offset="0.595" stop-color="#eb1a00"/><stop offset="0.675" stop-color="#eb8900"/><stop offset="0.725" stop-color="#ebd900"/><stop offset="0.735" stop-color="#dde906"/><stop offset="0.835" stop-color="#62eb81"/><stop offset="0.925" stop-color="#1bebc8"/><stop offset="0.995" stop-color="#00d0e6"/></linearGradient><linearGradient id="g97"><stop offset="0.005" stop-color="#00a7eb"/><stop offset="0.095" stop-color="#00d2e4"/><stop offset="0.135" stop-color="#17ebcc"/><stop offset="0.235" stop-color="#71eb72"/><stop offset="0.325" stop-color="#d8eb0b"/><stop offset="0.335" stop-color="#e3e200"/><stop offset="0.355" stop-color="#ebc900"/><stop offset="0.425" stop-color="#eb8100"/><stop offset="0.485" stop-color="#eb6400"/><stop offset="0.545" stop-color="#eb6d00"/><stop offset="0.605" stop-color="#eb9800"/><stop offset="0.665" stop-color="#e8dd00"/><stop offset="0.675" stop-color="#dcea07"/><stop offset="0.815" stop-color="#43eba0"/><stop offset="0.875" stop-color="#13ebd0"/><stop offset="0.915" stop-color="#00cee7"/><stop offset="0.995" stop-color="#00a9eb"/></linearGradient><linearGradient id="g98"><stop offset="0.005" stop-color="#000aeb"/><stop offset="0.185" stop-color="#0032eb"/><stop offset="0.425" stop-color="#0083eb"/><stop offset="0.535" stop-color="#008aeb"/><stop offset="0.675" stop-color="#0067eb"/><stop offset="0.905" stop-color="#001aeb"/><stop offset="0.995" stop-color="#000beb"/></linearGradient><linearGradient id="g99"><stop offset="0.005" stop-color="#0000d6"/><stop offset="0.295" stop-color="#0000eb"/><stop offset="0.825" stop-color="#0000e5"/><stop offset="0.995" stop-color="#0000d6"/></linearGradient><linearGradient id="g100"><stop offset="0.005" stop-color="#0000d2"/><stop offset="0.515" stop-color="#0000eb"/><stop offset="0.995" stop-color="#0000d2"/></linearGradient><linearGradient id="g101"><stop offset="0.005" stop-color="#0000cf"/><stop offset="0.585" stop-color="#0000e0"/><stop offset="0.995" stop-color="#0000d0"/></linearGradient><linearGradient id="g102"><stop offset="0.005" stop-color="#0000ce"/><stop offset="0.655" stop-color="#0000d7"/><stop offset="0.995" stop-color="#0000ce"/></linearGradient><linearGradient id="g103"><stop offset="0.005" stop-color="#0000cd"/><stop offset="0.755" stop-color="#0000d1"/><stop offset="0.995" stop-color="#0000cd"/></linearGradient></defs>
<g shape-rendering="crispEdges"><rect x="523" y="291" width="100" height="4" fill="#0014eb"/><rect x="523" y="295" width="100" height="3" fill="#0018eb"/><rect x="523" y="298" width="100" height="3" fill="#001ceb"/><rect x="523" y="301" width="100" height="2" fill="#0020eb"/><rect x="523" y="303" width="100" height="2" fill="url(#g49)"/><rect x="523" y="305" width="100" height="2" fill="url(#g50)"/><rect x="523" y="307" width="100" height="2" fill="url(#g51)"/><rect x="523" y="309" width="100" height="1" fill="url(#g52)"/><rect x="523" y="310" width="100" height="1" fill="url(#g53)"/><rect x="523" y="311" width="100" height="1" fill="url(#g54)"/><rect x="523" y="312" width="100" height="1" fill="url(#g55)"/><rect x="523" y="313" width="100" height="1" fill="url(#g56)"/><rect x="523" y="314" width="100" height="1" fill="url(#g57)"/><rect x="523" y="315" width="100" height="1" fill="url(#g58)"/><rect x="523" y="316" width="100" height="1" fill="url(#g59)"/><rect x="523" y="317" width="100" height="1" fill="url(#g60)"/><rect x="523" y="318" width="100" height="1" fill="url(#g61)"/><rect x="523" y="319" width="100" height="1" fill="url(#g62)"/><rect x="523" y="320" width="100" height="1" fill="url(#g63)"/><rect x="523" y="321" width="100" height="1" fill="url(#g64)"/><rect x="523" y="322" width="100" height="1" fill="url(#g65)"/><rect x="523" y="323" width="100" height="1" fill="url(#g66)"/><rect x="523" y="324" width="100" height="1" fill="url(#g67)"/><rect x="523" y="325" width="100" height="1" fill="url(#g68)"/><rect x="523" y="326" width="100" height="1" fill="url(#g69)"/><rect x="523" y="327" width="100" height="1" fill="url(#g70)"/><rect x="523" y="328" width="100" height="1" fill="url(#g71)"/><rect x="523" y="329" width="100" height="1" fill="url(#g72)"/><rect x="523" y="330" width="100" height="1" fill="url(#g73)"/><rect x="523" y="331" width="100" height="1" fill="url(#g74)"/><rect x="523" y="332" width="100" height="1" fill="url(#g75)"/><rect x="523" y="333" width="100" height="1" fill="url(#g76)"/><rect x="523" y="334" width="100" height="1" fill="url(#g77)"/><rect x="523" y="335" width="100" height="1" fill="url(#g78)"/><rect x="523" y="336" width="100" height="1" fill="url(#g79)"/><rect x="523" y="337" width="100" height="1" fill="url(#g80)"/><rect x="523" y="338" width="100" height="1" fill="url(#g81)"/><rect x="523" y="339" width="100" height="1" fill="url(#g82)"/><rect x="523" y="340" width="100" height="1" fill="url(#g83)"/><rect x="523" y="341" width="100" height="1" fill="url(#g84)"/><rect x="523" y="342" width="100" height="1" fill="url(#g85)"/><rect x="523" y="343" width="100" height="1" fill="url(#g86)"/><rect x="523" y="344" width="100" height="1" fill="url(#g87)"/><rect x="523" y="345" width="100" height="1" fill="url(#g88)"/><rect x="523" y="346" width="100" height="1" fill="url(#g89)"/><rect x="523" y="347" width="100" height="2" fill="url(#g90)"/><rect x="523" y="349" width="100" height="1" fill="url(#g91)"/><rect x="523" y="350" width="100" height="1" fill="url(#g92)"/><rect x="523" y="351" width="100" height="1" fill="url(#g93)"/><rect x="523" y="352" width="100" height="1" fill="url(#g94)"/><rect x="523" y="353" width="100" height="6" fill="url(#g95)"/><rect x="523" y="359" width="100" height="1" fill="url(#g96)"/><rect x="523" y="360" width="100" height="1" fill="url(#g97)"/><rect x="523" y="361" width="100" height="1" fill="url(#g98)"/><rect x="523" y="362" width="100" height="1" fill="url(#g99)"/><rect x="523" y="363" width="100" height="1" fill="url(#g100)"/><rect x="523" y="364" width="100" height="1" fill="url(#g101)"/><rect x="523" y="365" width="100" height="1" fill="url(#g102)"/><rect x="523" y="366" width="100" height="2" fill="url(#g103)"/><rect x="523" y="368" width="100" height="6" fill="#0000ce"/><rect x="523" y="374" width="100" height="17" fill="#0000cb"/></g>
<rect x="522.5" y="290.5" width="101" height="101" fill="none" stroke="#dc4040" stroke-width="2.0" />
<path d="M461.3,351.2 L465.2,356.6 L462.2,356.6 L462.2,361.8 L460.4,361.8 L460.4,356.6 L457.4,356.6 Z" fill="#fff"/>
<text x="507.4" y="348.0" font-size="14" text-anchor="end" fill="#fff">TiN</text>
<text x="480" y="362.4" font-size="14" fill="#fff">SiO<tspan font-size="10" dy="4.2">2</tspan></text>
<text x="507.6" y="381.9" font-size="14.5" text-anchor="end" fill="#fff">Ag</text>
<text x="419" y="308.1" font-size="13.4" fill="#fff"><tspan font-style="italic">V</tspan><tspan font-size="9.6" dy="3.6">G</tspan></text>
<text x="437.6" y="306.6" font-size="12.4" fill="#fff">&lt;</text>
<path d="M438.6,310.0 q1.8,-1.7 3.6,0 t3.6,0" stroke="#fff" stroke-width="1.1" fill="none"/>
<text x="446.4" y="308.1" font-size="13.4" fill="#fff">0</text>
<path d="M573.2,351.2 L577.1,356.6 L574.1,356.6 L574.1,361.8 L572.3,361.8 L572.3,356.6 L569.3,356.6 Z" fill="#fff"/>
<text x="619.3" y="348.0" font-size="14" text-anchor="end" fill="#fff">TiN</text>
<text x="591.9" y="362.4" font-size="14" fill="#fff">SiO<tspan font-size="10" dy="4.2">2</tspan></text>
<text x="619.5" y="381.9" font-size="14.5" text-anchor="end" fill="#fff">Ag</text>
<text x="529.6" y="308.1" font-size="13.4" fill="#fff"><tspan font-style="italic">V</tspan><tspan font-size="9.6" dy="3.6">G</tspan></text>
<text x="548.0" y="308.1" font-size="13.4" fill="#fff">&gt;0</text>
<defs><linearGradient id="cbar" x1="0" y1="1" x2="0" y2="0"><stop offset="0.000" stop-color="#000075"/><stop offset="0.050" stop-color="#0000ab"/><stop offset="0.100" stop-color="#0000e0"/><stop offset="0.150" stop-color="#0017eb"/><stop offset="0.200" stop-color="#0046eb"/><stop offset="0.250" stop-color="#0075eb"/><stop offset="0.300" stop-color="#00a4eb"/><stop offset="0.350" stop-color="#00d3e3"/><stop offset="0.400" stop-color="#26ebbd"/><stop offset="0.450" stop-color="#4ceb97"/><stop offset="0.500" stop-color="#72eb72"/><stop offset="0.550" stop-color="#97eb4c"/><stop offset="0.600" stop-color="#bdeb26"/><stop offset="0.650" stop-color="#e3e200"/><stop offset="0.700" stop-color="#ebb600"/><stop offset="0.750" stop-color="#eb8b00"/><stop offset="0.800" stop-color="#eb6000"/><stop offset="0.850" stop-color="#eb3400"/><stop offset="0.900" stop-color="#e00900"/><stop offset="0.950" stop-color="#ab0000"/><stop offset="1.000" stop-color="#750000"/></linearGradient></defs>
<rect x="629.4" y="291.4" width="5.9" height="97.1" fill="url(#cbar)"/>
<line x1="629.4" y1="316.8" x2="635.3" y2="316.8" stroke="#000" stroke-width="0.6" stroke-opacity="0.35"/>
<line x1="629.4" y1="333.9" x2="635.3" y2="333.9" stroke="#000" stroke-width="0.6" stroke-opacity="0.35"/>
<line x1="629.4" y1="351.2" x2="635.3" y2="351.2" stroke="#000" stroke-width="0.6" stroke-opacity="0.35"/>
<line x1="629.4" y1="367.2" x2="635.3" y2="367.2" stroke="#000" stroke-width="0.6" stroke-opacity="0.35"/>
<text x="636.4" y="302.3" font-size="13.2" text-anchor="start" fill="#000" >1.0</text>
<text x="636.4" y="349.5" font-size="13.2" text-anchor="start" fill="#000" >0.5</text>
<text x="636.4" y="388.2" font-size="13.2" text-anchor="start" fill="#000" >0.0</text>
<text transform="translate(660.6,292.2) rotate(90)" font-size="14.4">Normalized</text>
<text transform="translate(661.0,375.6) rotate(90)" font-size="14.2" font-weight="bold">E</text>
<line x1="660.3" y1="372.6" x2="675.4" y2="372.6" stroke="#000" stroke-width="1.0" />
<line x1="660.3" y1="390.9" x2="675.4" y2="390.9" stroke="#000" stroke-width="1.0" />
<rect x="390.7" y="397.9" width="283" height="120" fill="none" stroke="#000" stroke-width="1.3" />
<line x1="432.3" y1="517.9" x2="432.3" y2="513.5" stroke="#000" stroke-width="1.3" />
<line x1="512.77" y1="517.9" x2="512.77" y2="513.5" stroke="#000" stroke-width="1.3" />
<line x1="593.24" y1="517.9" x2="593.24" y2="513.5" stroke="#000" stroke-width="1.3" />
<line x1="673.71" y1="517.9" x2="673.71" y2="513.5" stroke="#000" stroke-width="1.3" />
<line x1="472.54" y1="517.9" x2="472.54" y2="515.5" stroke="#000" stroke-width="1.3" />
<line x1="553" y1="517.9" x2="553" y2="515.5" stroke="#000" stroke-width="1.3" />
<line x1="633.48" y1="517.9" x2="633.48" y2="515.5" stroke="#000" stroke-width="1.3" />
<line x1="390.7" y1="517.9" x2="395.3" y2="517.9" stroke="#000" stroke-width="1.3" />
<line x1="390.7" y1="456.4" x2="395.3" y2="456.4" stroke="#000" stroke-width="1.3" />
<line x1="390.7" y1="487.15" x2="393.2" y2="487.15" stroke="#000" stroke-width="1.3" />
<line x1="390.7" y1="425.65" x2="393.2" y2="425.65" stroke="#000" stroke-width="1.3" />
<text x="384.4" y="461.2" font-size="14" text-anchor="end" fill="#000" >10</text>
<text x="384.4" y="522.7" font-size="14" text-anchor="end" fill="#000" >0</text>
<text x="432.3" y="535.4" font-size="14" text-anchor="middle" fill="#000" >500</text>
<text x="512.77" y="535.4" font-size="14" text-anchor="middle" fill="#000" >600</text>
<text x="593.24" y="535.4" font-size="14" text-anchor="middle" fill="#000" >700</text>
<text x="673.71" y="535.4" font-size="14" text-anchor="middle" fill="#000" >800</text>
<text x="524.8" y="556.4" font-size="14.2" text-anchor="middle" fill="#000" >Wavelength (nm)</text>
<text transform="translate(358.5,457.6) rotate(-90)" font-size="14.33" text-anchor="middle">LDOS enhacement</text>
<path d="M390.7,505.89 L391.7,505.84 L392.7,505.77 L393.7,505.7 L394.7,505.62 L395.7,505.54 L396.7,505.45 L397.7,505.36 L398.7,505.26 L399.7,505.16 L400.7,505.06 L401.7,504.95 L402.7,504.85 L403.7,504.74 L404.7,504.63 L405.7,504.52 L406.7,504.4 L407.7,504.28 L408.7,504.15 L409.7,504.02 L410.7,503.88 L411.7,503.73 L412.7,503.57 L413.7,503.41 L414.7,503.23 L415.7,503.05 L416.7,502.87 L417.7,502.68 L418.7,502.48 L419.7,502.28 L420.7,502.08 L421.7,501.88 L422.7,501.67 L423.7,501.47 L424.7,501.26 L425.7,501.04 L426.7,500.82 L427.7,500.59 L428.7,500.36 L429.7,500.11 L430.7,499.85 L431.7,499.58 L432.7,499.29 L433.7,498.98 L434.7,498.65 L435.7,498.31 L436.7,497.95 L437.7,497.57 L438.7,497.18 L439.7,496.78 L440.7,496.37 L441.7,495.95 L442.7,495.52 L443.7,495.1 L444.7,494.66 L445.7,494.23 L446.7,493.79 L447.7,493.35 L448.7,492.9 L449.7,492.45 L450.7,491.99 L451.7,491.53 L452.7,491.05 L453.7,490.56 L454.7,490.05 L455.7,489.53 L456.7,489 L457.7,488.45 L458.7,487.88 L459.7,487.31 L460.7,486.72 L461.7,486.12 L462.7,485.52 L463.7,484.91 L464.7,484.3 L465.7,483.69 L466.7,483.07 L467.7,482.46 L468.7,481.84 L469.7,481.23 L470.7,480.63 L471.7,480.03 L472.7,479.45 L473.7,478.87 L474.7,478.32 L475.7,477.77 L476.7,477.25 L477.7,476.75 L478.7,476.26 L479.7,475.8 L480.7,475.35 L481.7,474.93 L482.7,474.51 L483.7,474.11 L484.7,473.72 L485.7,473.33 L486.7,472.95 L487.7,472.58 L488.7,472.2 L489.7,471.84 L490.7,471.47 L491.7,471.11 L492.7,470.76 L493.7,470.41 L494.7,470.07 L495.7,469.75 L496.7,469.44 L497.7,469.14 L498.7,468.86 L499.7,468.59 L500.7,468.35 L501.7,468.12 L502.7,467.91 L503.7,467.72 L504.7,467.54 L505.7,467.38 L506.7,467.22 L507.7,467.08 L508.7,466.94 L509.7,466.82 L510.7,466.7 L511.7,466.6 L512.7,466.5 L513.7,466.42 L514.7,466.34 L515.7,466.27 L516.7,466.21 L517.7,466.16 L518.7,466.11 L519.7,466.08 L520.7,466.05 L521.7,466.02 L522.7,466.01 L523.7,466 L524.7,466 L525.7,466.01 L526.7,466.03 L527.7,466.06 L528.7,466.1 L529.7,466.14 L530.7,466.2 L531.7,466.26 L532.7,466.32 L533.7,466.39 L534.7,466.47 L535.7,466.56 L536.7,466.65 L537.7,466.75 L538.7,466.86 L539.7,466.97 L540.7,467.1 L541.7,467.23 L542.7,467.37 L543.7,467.52 L544.7,467.67 L545.7,467.83 L546.7,467.99 L547.7,468.16 L548.7,468.33 L549.7,468.5 L550.7,468.67 L551.7,468.84 L552.7,469.01 L553.7,469.18 L554.7,469.35 L555.7,469.53 L556.7,469.7 L557.7,469.87 L558.7,470.04 L559.7,470.21 L560.7,470.37 L561.7,470.54 L562.7,470.71 L563.7,470.88 L564.7,471.05 L565.7,471.22 L566.7,471.39 L567.7,471.56 L568.7,471.73 L569.7,471.9 L570.7,472.07 L571.7,472.24 L572.7,472.41 L573.7,472.57 L574.7,472.74 L575.7,472.9 L576.7,473.07 L577.7,473.23 L578.7,473.39 L579.7,473.54 L580.7,473.69 L581.7,473.84 L582.7,473.98 L583.7,474.12 L584.7,474.26 L585.7,474.39 L586.7,474.51 L587.7,474.64 L588.7,474.76 L589.7,474.88 L590.7,475 L591.7,475.12 L592.7,475.24 L593.7,475.36 L594.7,475.48 L595.7,475.59 L596.7,475.71 L597.7,475.83 L598.7,475.95 L599.7,476.06 L600.7,476.18 L601.7,476.3 L602.7,476.41 L603.7,476.53 L604.7,476.65 L605.7,476.76 L606.7,476.88 L607.7,476.99 L608.7,477.11 L609.7,477.22 L610.7,477.33 L611.7,477.44 L612.7,477.55 L613.7,477.66 L614.7,477.76 L615.7,477.87 L616.7,477.97 L617.7,478.07 L618.7,478.17 L619.7,478.27 L620.7,478.37 L621.7,478.47 L622.7,478.56 L623.7,478.66 L624.7,478.76 L625.7,478.86 L626.7,478.95 L627.7,479.05 L628.7,479.15 L629.7,479.25 L630.7,479.34 L631.7,479.44 L632.7,479.54 L633.7,479.64 L634.7,479.73 L635.7,479.83 L636.7,479.93 L637.7,480.02 L638.7,480.12 L639.7,480.21 L640.7,480.31 L641.7,480.4 L642.7,480.49 L643.7,480.58 L644.7,480.67 L645.7,480.76 L646.7,480.85 L647.7,480.93 L648.7,481.02 L649.7,481.1 L650.7,481.19 L651.7,481.27 L652.7,481.35 L653.7,481.44 L654.7,481.52 L655.7,481.6 L656.7,481.69 L657.7,481.77 L658.7,481.85 L659.7,481.94 L660.7,482.02 L661.7,482.1 L662.7,482.18 L663.7,482.27 L664.7,482.35 L665.7,482.43 L666.7,482.5 L667.7,482.58 L668.7,482.65 L669.7,482.72 L670.7,482.78 L671.7,482.84 L672.7,482.89 L673.7,482.94" stroke="#000" stroke-width="2.3" fill="none" clip-path="url(#cpd)"/>
<path d="M390.7,496.69 L391.7,496.64 L392.7,496.57 L393.7,496.5 L394.7,496.42 L395.7,496.34 L396.7,496.25 L397.7,496.16 L398.7,496.06 L399.7,495.96 L400.7,495.86 L401.7,495.75 L402.7,495.65 L403.7,495.54 L404.7,495.43 L405.7,495.31 L406.7,495.2 L407.7,495.07 L408.7,494.94 L409.7,494.8 L410.7,494.66 L411.7,494.5 L412.7,494.34 L413.7,494.17 L414.7,493.98 L415.7,493.79 L416.7,493.6 L417.7,493.39 L418.7,493.19 L419.7,492.98 L420.7,492.76 L421.7,492.55 L422.7,492.33 L423.7,492.11 L424.7,491.88 L425.7,491.65 L426.7,491.42 L427.7,491.18 L428.7,490.94 L429.7,490.68 L430.7,490.41 L431.7,490.13 L432.7,489.83 L433.7,489.52 L434.7,489.19 L435.7,488.84 L436.7,488.48 L437.7,488.1 L438.7,487.71 L439.7,487.31 L440.7,486.9 L441.7,486.49 L442.7,486.07 L443.7,485.64 L444.7,485.21 L445.7,484.78 L446.7,484.35 L447.7,483.91 L448.7,483.46 L449.7,483.01 L450.7,482.55 L451.7,482.08 L452.7,481.59 L453.7,481.08 L454.7,480.56 L455.7,480.02 L456.7,479.46 L457.7,478.88 L458.7,478.29 L459.7,477.67 L460.7,477.05 L461.7,476.41 L462.7,475.76 L463.7,475.1 L464.7,474.44 L465.7,473.78 L466.7,473.11 L467.7,472.45 L468.7,471.78 L469.7,471.12 L470.7,470.46 L471.7,469.8 L472.7,469.14 L473.7,468.5 L474.7,467.86 L475.7,467.23 L476.7,466.61 L477.7,466 L478.7,465.41 L479.7,464.82 L480.7,464.25 L481.7,463.7 L482.7,463.16 L483.7,462.63 L484.7,462.13 L485.7,461.64 L486.7,461.16 L487.7,460.71 L488.7,460.28 L489.7,459.87 L490.7,459.48 L491.7,459.11 L492.7,458.76 L493.7,458.43 L494.7,458.12 L495.7,457.82 L496.7,457.55 L497.7,457.29 L498.7,457.04 L499.7,456.82 L500.7,456.61 L501.7,456.41 L502.7,456.23 L503.7,456.06 L504.7,455.91 L505.7,455.76 L506.7,455.63 L507.7,455.51 L508.7,455.4 L509.7,455.29 L510.7,455.2 L511.7,455.12 L512.7,455.05 L513.7,454.99 L514.7,454.95 L515.7,454.91 L516.7,454.88 L517.7,454.86 L518.7,454.85 L519.7,454.85 L520.7,454.86 L521.7,454.87 L522.7,454.89 L523.7,454.93 L524.7,454.97 L525.7,455.02 L526.7,455.08 L527.7,455.15 L528.7,455.22 L529.7,455.31 L530.7,455.41 L531.7,455.51 L532.7,455.61 L533.7,455.73 L534.7,455.85 L535.7,455.98 L536.7,456.11 L537.7,456.25 L538.7,456.4 L539.7,456.56 L540.7,456.73 L541.7,456.91 L542.7,457.09 L543.7,457.28 L544.7,457.48 L545.7,457.68 L546.7,457.88 L547.7,458.09 L548.7,458.3 L549.7,458.51 L550.7,458.71 L551.7,458.92 L552.7,459.13 L553.7,459.34 L554.7,459.54 L555.7,459.74 L556.7,459.95 L557.7,460.15 L558.7,460.35 L559.7,460.55 L560.7,460.75 L561.7,460.95 L562.7,461.14 L563.7,461.34 L564.7,461.54 L565.7,461.74 L566.7,461.94 L567.7,462.14 L568.7,462.34 L569.7,462.54 L570.7,462.73 L571.7,462.93 L572.7,463.13 L573.7,463.33 L574.7,463.53 L575.7,463.72 L576.7,463.92 L577.7,464.11 L578.7,464.31 L579.7,464.5 L580.7,464.69 L581.7,464.88 L582.7,465.07 L583.7,465.25 L584.7,465.44 L585.7,465.62 L586.7,465.8 L587.7,465.98 L588.7,466.16 L589.7,466.33 L590.7,466.51 L591.7,466.69 L592.7,466.86 L593.7,467.04 L594.7,467.22 L595.7,467.39 L596.7,467.57 L597.7,467.74 L598.7,467.92 L599.7,468.1 L600.7,468.27 L601.7,468.45 L602.7,468.62 L603.7,468.8 L604.7,468.97 L605.7,469.14 L606.7,469.32 L607.7,469.49 L608.7,469.65 L609.7,469.82 L610.7,469.98 L611.7,470.14 L612.7,470.29 L613.7,470.45 L614.7,470.59 L615.7,470.74 L616.7,470.88 L617.7,471.02 L618.7,471.15 L619.7,471.29 L620.7,471.42 L621.7,471.55 L622.7,471.68 L623.7,471.81 L624.7,471.95 L625.7,472.08 L626.7,472.21 L627.7,472.34 L628.7,472.46 L629.7,472.59 L630.7,472.72 L631.7,472.85 L632.7,472.98 L633.7,473.11 L634.7,473.24 L635.7,473.37 L636.7,473.5 L637.7,473.62 L638.7,473.75 L639.7,473.87 L640.7,473.99 L641.7,474.1 L642.7,474.22 L643.7,474.32 L644.7,474.43 L645.7,474.53 L646.7,474.63 L647.7,474.73 L648.7,474.82 L649.7,474.92 L650.7,475.01 L651.7,475.1 L652.7,475.18 L653.7,475.27 L654.7,475.36 L655.7,475.44 L656.7,475.53 L657.7,475.62 L658.7,475.7 L659.7,475.79 L660.7,475.88 L661.7,475.96 L662.7,476.05 L663.7,476.13 L664.7,476.22 L665.7,476.3 L666.7,476.38 L667.7,476.46 L668.7,476.53 L669.7,476.6 L670.7,476.67 L671.7,476.73 L672.7,476.78 L673.7,476.83" stroke="#e8141c" stroke-width="2.3" fill="none" clip-path="url(#cpd)"/>
<text x="487.4" y="495.1" font-size="12.3" text-anchor="start" fill="#e01a22" >Optically plasmonic TiN</text>
<text x="487.4" y="509.4" font-size="12.4" text-anchor="start" fill="#000" >ENZ TiN</text>
<line x1="611.3" y1="482.3" x2="611.3" y2="447" stroke="#000" stroke-width="1.2" />
<path d="M611.3,439.0 L615.9,448.6 L606.7,448.6 Z" fill="#000"/>
<text x="618.2" y="463.8" font-size="12.6"><tspan font-style="italic">V</tspan><tspan font-size="8.8" dy="3.2">G</tspan></text>
<defs>
<linearGradient id="tin" x1="0" y1="0" x2="0" y2="1"><stop offset="0" stop-color="#fff3c8"/><stop offset="1" stop-color="#f1c451"/></linearGradient>
<linearGradient id="inp" x1="0" y1="0" x2="0" y2="1"><stop offset="0" stop-color="#b4ecfa"/><stop offset="0.5" stop-color="#5fd4f4"/><stop offset="1" stop-color="#20c0ee"/></linearGradient>
<linearGradient id="ag" x1="0" y1="0" x2="0" y2="1"><stop offset="0" stop-color="#f4f4f4"/><stop offset="1" stop-color="#8a8a8a"/></linearGradient>
<radialGradient id="qd" cx="0.5" cy="0.5" r="0.5"><stop offset="0" stop-color="#f0fff4"/><stop offset="0.45" stop-color="#5fb98a"/><stop offset="1" stop-color="#17774a"/></radialGradient>
</defs>
<rect x="414.7" y="399.8" width="82.2" height="13.3" fill="url(#tin)"/>
<rect x="415.2" y="413.0" width="81.7" height="2.8" fill="#2c1a66"/>
<rect x="417.6" y="415.8" width="82.0" height="16.0" fill="url(#inp)"/>
<rect x="417.6" y="431.8" width="82.0" height="22.4" fill="url(#ag)"/>
<circle cx="454.8" cy="424.1" r="6.4" fill="url(#qd)"/>
<line x1="501.5" y1="424.2" x2="470" y2="424.2" stroke="#000" stroke-width="1.2" />
<path d="M463.2,424.2 L472.4,419.8 L472.4,428.6 Z" fill="#000"/>
<line x1="496.6" y1="420.4" x2="502.4" y2="414.6" stroke="#000" stroke-width="0.8" />
<text x="429" y="411.2" font-size="12.1" text-anchor="start" fill="#000" >TiN (7 nm)</text>
<text x="430.4" y="447.4" font-size="12.1" text-anchor="start" fill="#000" >Ag (80 nm)</text>
<text x="502.3" y="416.2" font-size="12.2">SiO<tspan font-size="8.5" dy="3.2">2</tspan><tspan dy="-3.2"> (9 nm)</tspan></text>
<text x="502.3" y="433.8" font-size="12.3" text-anchor="start" fill="#000" >InP (D = 4.5 nm)</text>
<text x="408.9" y="469.1" font-size="12.2" text-anchor="start" fill="#000" >Modulated</text>
<circle cx="406.7" cy="424.3" r="9.9" fill="#fff" stroke="#000" stroke-width="1.2"/>
<text x="400.6" y="427.6" font-size="12.4"><tspan font-style="italic">V</tspan><tspan font-size="9" dy="3.6">G</tspan></text>
<path d="M406.7,414.4 V406.3 H419.6" stroke="#000" stroke-width="1.1" fill="none" />
<path d="M406.7,434.2 V447.9 H418.0" stroke="#000" stroke-width="1.1" fill="none" />
<line x1="398.7" y1="410.8" x2="405.1" y2="410.8" stroke="#000" stroke-width="1.1" />
<line x1="399.2" y1="439.2" x2="404.6" y2="439.2" stroke="#000" stroke-width="1.1" />
<line x1="401.9" y1="436.5" x2="401.9" y2="441.9" stroke="#000" stroke-width="1.1" />
<path d="M418.6,458.6 C415.8,448 415.6,426 416.6,418 C417.4,412.2 419.6,410.4 422.6,409.6" stroke="#000" stroke-width="0.8" fill="none" />
<path d="M420.4,412.8 L427.6,405.6 L428.4,412.8 Z" fill="#000"/>
</svg></body></html>
